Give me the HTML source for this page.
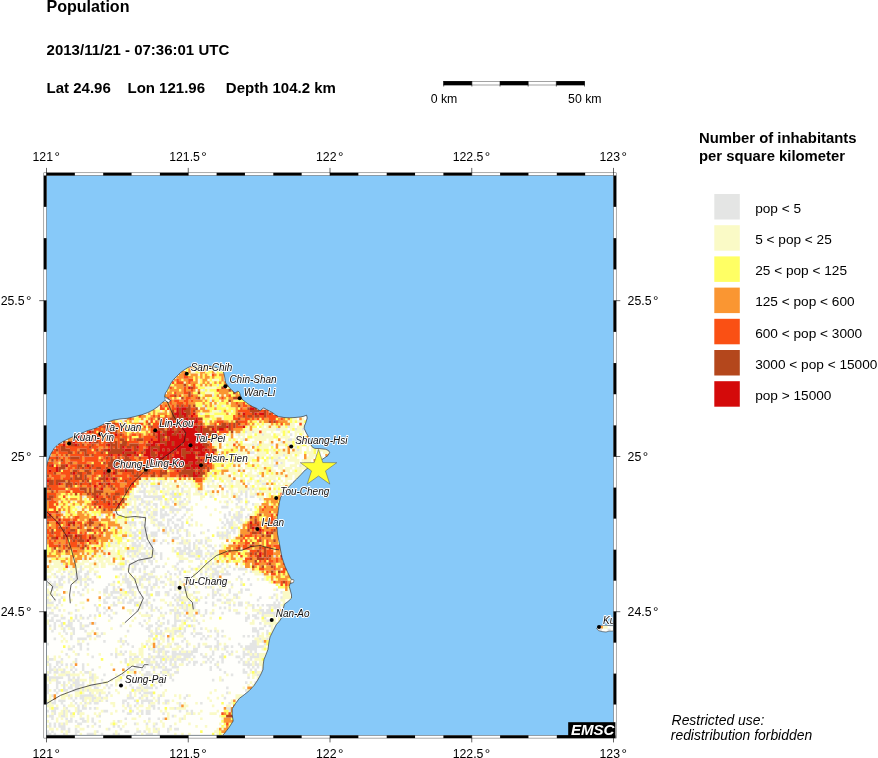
<!DOCTYPE html>
<html><head><meta charset="utf-8"><title>Population</title>
<style>html,body{margin:0;padding:0;background:#fff}body{width:878px;height:758px;position:relative;overflow:hidden;font-family:"Liberation Sans",sans-serif}</style></head>
<body>
<svg width="878" height="758" viewBox="0 0 878 758" style="position:absolute;left:0;top:0;will-change:transform;font-family:'Liberation Sans',sans-serif">
<defs><clipPath id="mc"><rect x="46.5" y="175.5" width="567.0" height="559.9"/></clipPath>
<filter id="bl" x="0" y="0" width="100%" height="100%" filterUnits="userSpaceOnUse"><feGaussianBlur stdDeviation="0.5"/></filter>
<clipPath id="land"><polygon points="46.5,467 48,461 50.5,454.5 54,448.5 58,444.5 63,441.5 69,438.5 76,435.5 82,433 88,430.5 95,428.5 101,425.5 107,422.5 113,420.2 120,419 127.5,418.3 135,416.5 142,414.7 148,412.5 153,410 158,406.5 162,402.8 165,400.5 168.5,402.5 170.5,400.5 167,398 164.5,396.5 165.5,393 167.6,390 169.5,386 171.2,382.8 174,379 176.7,376.4 180,373 184,370 188,367.5 192,366.2 198,365.2 205,365.5 212,366.5 218,368 223,370.5 224.5,376 225.6,382.8 229.2,387.4 232,390.5 235,393 238,391 239.5,392.5 240.5,396 242,399.2 245.5,402 249.2,404.7 253,406.8 256.5,408.3 260.2,411 262,409 263.8,408 266.5,409.5 269.3,411 272.9,412.9 275.5,415 278.4,416.5 284,417.5 289.3,417.8 295,417.5 300.3,417 304,416.2 306.6,415.2 307.2,418 305.7,422.9 304.4,426 304.2,428.4 305.8,432 307.8,435.6 309.5,440 311,444.8 312.5,447.3 314.8,448.4 320,448.6 325.8,449.3 328.5,450.6 329.6,452.5 328,455.5 322,459.5 315,463.5 309,467.2 305.2,470 301,474.5 296.6,479.1 293,482.5 289.3,486.4 284.5,492 280.6,497.3 279.2,503 278.4,510.1 277.3,517 276.8,524.7 277.5,534 279.3,542.9 280.5,550 282,557.5 284.5,565 287.5,572 289.5,576 291.2,579.3 293.5,580 293,582.5 290,583.5 289.3,586.6 290.5,591 291.5,595 291.5,598.2 288,601.5 284.3,604.3 283,610 282.3,616.6 279.5,621 276.2,624.8 273,631 270,637 268.8,643 268,649.3 266,654.5 263.9,659.6 263.2,665 262.9,669.8 260.5,675 257.7,680 254,685.5 249.6,690.3 244.5,694.5 239.3,698.4 235.5,703.5 232.2,708.7 232.2,715 233.2,721 229,727.5 224,734 222.5,735.4 46.5,735.4"/><polygon points="596.6,628.6 598.5,626.2 602,625.2 606,625.3 610,625.6 613.5,625.6 613.5,631 609,631.2 606,632 602,631.6 598.5,630.6"/></clipPath></defs>
<rect x="45.5" y="174.5" width="569.0" height="561.9" fill="#87c9f9"/>
<g clip-path="url(#mc)">
<polygon points="46.5,467 48,461 50.5,454.5 54,448.5 58,444.5 63,441.5 69,438.5 76,435.5 82,433 88,430.5 95,428.5 101,425.5 107,422.5 113,420.2 120,419 127.5,418.3 135,416.5 142,414.7 148,412.5 153,410 158,406.5 162,402.8 165,400.5 168.5,402.5 170.5,400.5 167,398 164.5,396.5 165.5,393 167.6,390 169.5,386 171.2,382.8 174,379 176.7,376.4 180,373 184,370 188,367.5 192,366.2 198,365.2 205,365.5 212,366.5 218,368 223,370.5 224.5,376 225.6,382.8 229.2,387.4 232,390.5 235,393 238,391 239.5,392.5 240.5,396 242,399.2 245.5,402 249.2,404.7 253,406.8 256.5,408.3 260.2,411 262,409 263.8,408 266.5,409.5 269.3,411 272.9,412.9 275.5,415 278.4,416.5 284,417.5 289.3,417.8 295,417.5 300.3,417 304,416.2 306.6,415.2 307.2,418 305.7,422.9 304.4,426 304.2,428.4 305.8,432 307.8,435.6 309.5,440 311,444.8 312.5,447.3 314.8,448.4 320,448.6 325.8,449.3 328.5,450.6 329.6,452.5 328,455.5 322,459.5 315,463.5 309,467.2 305.2,470 301,474.5 296.6,479.1 293,482.5 289.3,486.4 284.5,492 280.6,497.3 279.2,503 278.4,510.1 277.3,517 276.8,524.7 277.5,534 279.3,542.9 280.5,550 282,557.5 284.5,565 287.5,572 289.5,576 291.2,579.3 293.5,580 293,582.5 290,583.5 289.3,586.6 290.5,591 291.5,595 291.5,598.2 288,601.5 284.3,604.3 283,610 282.3,616.6 279.5,621 276.2,624.8 273,631 270,637 268.8,643 268,649.3 266,654.5 263.9,659.6 263.2,665 262.9,669.8 260.5,675 257.7,680 254,685.5 249.6,690.3 244.5,694.5 239.3,698.4 235.5,703.5 232.2,708.7 232.2,715 233.2,721 229,727.5 224,734 222.5,735.4 46.5,735.4" fill="#fffffc"/>
<polygon points="596.6,628.6 598.5,626.2 602,625.2 606,625.3 610,625.6 613.5,625.6 613.5,631 609,631.2 606,632 602,631.6 598.5,630.6" fill="#fffffa"/>
<g clip-path="url(#land)"><g filter="url(#bl)">
<path fill="#e4e5e4" d="M219 368.3h2.5v2.7h-2.5zM223.7 378.7h2.5v2.7h-2.5zM216.6 383.8h2.5v2.7h-2.5zM202.4 389h2.5v2.7h-2.5zM211.9 394.2h2.5v2.7h-2.5zM209.5 399.4h2.5v2.7h-2.5zM202.4 404.6h2.5v2.7h-2.5zM214.2 404.6h2.5v2.7h-2.5zM221.3 404.6h2.5v2.7h-2.5zM204.8 407.2h2.5v2.7h-2.5zM219 409.8h2.5v2.7h-2.5zM200.1 412.4h2.5v2.7h-2.5zM124.5 417.6h2.5v2.7h-2.5zM122.1 420.2h2.5v2.7h-2.5zM287.5 425.4h2.5v2.7h-2.5zM275.7 428h4.9v2.7h-4.9zM294.6 428h2.5v2.7h-2.5zM301.7 428h2.5v2.7h-2.5zM245 430.6h2.5v2.7h-2.5zM252 430.6h2.5v2.7h-2.5zM237.9 433.2h2.5v2.7h-2.5zM261.5 433.2h2.5v2.7h-2.5zM289.8 433.2h2.5v2.7h-2.5zM214.2 438.3h2.5v2.7h-2.5zM242.6 438.3h2.5v2.7h-2.5zM287.5 438.3h4.9v2.7h-4.9zM294.6 438.3h2.5v2.7h-2.5zM211.9 440.9h2.5v2.7h-2.5zM280.4 440.9h2.5v2.7h-2.5zM252 443.5h2.5v2.7h-2.5zM256.8 443.5h2.5v2.7h-2.5zM270.9 443.5h2.5v2.7h-2.5zM287.5 443.5h2.5v2.7h-2.5zM294.6 446.1h2.5v2.7h-2.5zM237.9 448.7h2.5v2.7h-2.5zM296.9 448.7h2.5v2.7h-2.5zM249.7 451.3h4.9v2.7h-4.9zM221.3 453.9h2.5v2.7h-2.5zM226.1 453.9h2.5v2.7h-2.5zM237.9 453.9h2.5v2.7h-2.5zM282.7 453.9h2.5v2.7h-2.5zM268.6 456.5h2.5v2.7h-2.5zM278 456.5h2.5v2.7h-2.5zM226.1 459.1h2.5v2.7h-2.5zM245 459.1h2.5v2.7h-2.5zM273.3 459.1h4.9v2.7h-4.9zM233.1 461.7h2.5v2.7h-2.5zM280.4 461.7h2.5v2.7h-2.5zM273.3 464.3h4.9v2.7h-4.9zM299.3 464.3h2.5v2.7h-2.5zM240.2 469.4h2.5v2.7h-2.5zM211.9 472h2.5v2.7h-2.5zM209.5 474.6h2.5v2.7h-2.5zM256.8 474.6h2.5v2.7h-2.5zM143.4 479.8h2.5v2.7h-2.5zM148.1 479.8h2.5v2.7h-2.5zM159.9 479.8h2.5v2.7h-2.5zM211.9 479.8h2.5v2.7h-2.5zM230.8 479.8h2.5v2.7h-2.5zM259.1 479.8h2.5v2.7h-2.5zM273.3 479.8h2.5v2.7h-2.5zM141 482.4h2.5v2.7h-2.5zM145.7 482.4h2.5v2.7h-2.5zM159.9 482.4h2.5v2.7h-2.5zM183.5 482.4h2.5v2.7h-2.5zM247.3 482.4h2.5v2.7h-2.5zM261.5 482.4h4.9v2.7h-4.9zM141 485h2.5v2.7h-2.5zM150.4 485h9.6v2.7h-9.6zM207.1 485h2.5v2.7h-2.5zM223.7 485h2.5v2.7h-2.5zM143.4 487.6h2.5v2.7h-2.5zM155.2 487.6h4.9v2.7h-4.9zM162.3 487.6h2.5v2.7h-2.5zM181.2 487.6h2.5v2.7h-2.5zM247.3 487.6h2.5v2.7h-2.5zM252 487.6h2.5v2.7h-2.5zM138.6 490.2h7.2v2.7h-7.2zM152.8 490.2h2.5v2.7h-2.5zM171.7 490.2h2.5v2.7h-2.5zM181.2 490.2h2.5v2.7h-2.5zM197.7 490.2h2.5v2.7h-2.5zM207.1 490.2h2.5v2.7h-2.5zM226.1 490.2h2.5v2.7h-2.5zM240.2 490.2h2.5v2.7h-2.5zM245 490.2h2.5v2.7h-2.5zM259.1 490.2h2.5v2.7h-2.5zM275.7 490.2h2.5v2.7h-2.5zM129.2 492.8h2.5v2.7h-2.5zM143.4 492.8h2.5v2.7h-2.5zM164.6 492.8h2.5v2.7h-2.5zM169.4 492.8h4.9v2.7h-4.9zM176.4 492.8h2.5v2.7h-2.5zM185.9 492.8h2.5v2.7h-2.5zM200.1 492.8h2.5v2.7h-2.5zM233.1 492.8h2.5v2.7h-2.5zM240.2 492.8h2.5v2.7h-2.5zM245 492.8h2.5v2.7h-2.5zM254.4 492.8h2.5v2.7h-2.5zM81.9 495.3h2.5v2.7h-2.5zM133.9 495.3h7.2v2.7h-7.2zM143.4 495.3h19v2.7h-19zM171.7 495.3h9.6v2.7h-9.6zM209.5 495.3h2.5v2.7h-2.5zM237.9 495.3h2.5v2.7h-2.5zM245 495.3h2.5v2.7h-2.5zM249.7 495.3h4.9v2.7h-4.9zM129.2 497.9h2.5v2.7h-2.5zM136.3 497.9h2.5v2.7h-2.5zM141 497.9h2.5v2.7h-2.5zM152.8 497.9h2.5v2.7h-2.5zM157.5 497.9h4.9v2.7h-4.9zM169.4 497.9h2.5v2.7h-2.5zM183.5 497.9h2.5v2.7h-2.5zM235.5 497.9h7.2v2.7h-7.2zM259.1 497.9h2.5v2.7h-2.5zM141 500.5h4.9v2.7h-4.9zM148.1 500.5h2.5v2.7h-2.5zM164.6 500.5h2.5v2.7h-2.5zM171.7 500.5h2.5v2.7h-2.5zM178.8 500.5h4.9v2.7h-4.9zM188.2 500.5h2.5v2.7h-2.5zM226.1 500.5h2.5v2.7h-2.5zM237.9 500.5h2.5v2.7h-2.5zM247.3 500.5h2.5v2.7h-2.5zM138.6 503.1h2.5v2.7h-2.5zM145.7 503.1h4.9v2.7h-4.9zM152.8 503.1h4.9v2.7h-4.9zM164.6 503.1h4.9v2.7h-4.9zM178.8 503.1h2.5v2.7h-2.5zM235.5 503.1h2.5v2.7h-2.5zM245 503.1h2.5v2.7h-2.5zM252 503.1h2.5v2.7h-2.5zM77.2 505.7h2.5v2.7h-2.5zM131.5 505.7h2.5v2.7h-2.5zM136.3 505.7h2.5v2.7h-2.5zM143.4 505.7h2.5v2.7h-2.5zM155.2 505.7h2.5v2.7h-2.5zM169.4 505.7h4.9v2.7h-4.9zM181.2 505.7h4.9v2.7h-4.9zM221.3 505.7h7.2v2.7h-7.2zM240.2 505.7h2.5v2.7h-2.5zM126.8 508.3h4.9v2.7h-4.9zM136.3 508.3h4.9v2.7h-4.9zM148.1 508.3h2.5v2.7h-2.5zM159.9 508.3h4.9v2.7h-4.9zM169.4 508.3h12v2.7h-12zM185.9 508.3h4.9v2.7h-4.9zM240.2 508.3h4.9v2.7h-4.9zM249.7 508.3h2.5v2.7h-2.5zM60.7 510.9h4.9v2.7h-4.9zM112.7 510.9h2.5v2.7h-2.5zM126.8 510.9h2.5v2.7h-2.5zM131.5 510.9h4.9v2.7h-4.9zM138.6 510.9h4.9v2.7h-4.9zM145.7 510.9h2.5v2.7h-2.5zM152.8 510.9h4.9v2.7h-4.9zM159.9 510.9h2.5v2.7h-2.5zM164.6 510.9h2.5v2.7h-2.5zM171.7 510.9h2.5v2.7h-2.5zM228.4 510.9h2.5v2.7h-2.5zM237.9 510.9h2.5v2.7h-2.5zM100.8 513.5h2.5v2.7h-2.5zM148.1 513.5h2.5v2.7h-2.5zM152.8 513.5h4.9v2.7h-4.9zM159.9 513.5h9.6v2.7h-9.6zM174.1 513.5h2.5v2.7h-2.5zM183.5 513.5h2.5v2.7h-2.5zM223.7 513.5h2.5v2.7h-2.5zM228.4 513.5h2.5v2.7h-2.5zM233.1 513.5h2.5v2.7h-2.5zM237.9 513.5h4.9v2.7h-4.9zM247.3 513.5h2.5v2.7h-2.5zM98.5 516.1h2.5v2.7h-2.5zM133.9 516.1h2.5v2.7h-2.5zM138.6 516.1h2.5v2.7h-2.5zM143.4 516.1h2.5v2.7h-2.5zM150.4 516.1h2.5v2.7h-2.5zM159.9 516.1h4.9v2.7h-4.9zM171.7 516.1h2.5v2.7h-2.5zM181.2 516.1h2.5v2.7h-2.5zM223.7 516.1h2.5v2.7h-2.5zM233.1 516.1h9.6v2.7h-9.6zM245 516.1h2.5v2.7h-2.5zM152.8 518.6h4.9v2.7h-4.9zM167 518.6h4.9v2.7h-4.9zM176.4 518.6h4.9v2.7h-4.9zM190.6 518.6h2.5v2.7h-2.5zM226.1 518.6h2.5v2.7h-2.5zM230.8 518.6h2.5v2.7h-2.5zM235.5 518.6h4.9v2.7h-4.9zM126.8 521.2h9.6v2.7h-9.6zM141 521.2h2.5v2.7h-2.5zM157.5 521.2h4.9v2.7h-4.9zM167 521.2h2.5v2.7h-2.5zM171.7 521.2h2.5v2.7h-2.5zM181.2 521.2h2.5v2.7h-2.5zM221.3 521.2h2.5v2.7h-2.5zM226.1 521.2h7.2v2.7h-7.2zM237.9 521.2h4.9v2.7h-4.9zM129.2 523.8h2.5v2.7h-2.5zM133.9 523.8h2.5v2.7h-2.5zM141 523.8h4.9v2.7h-4.9zM152.8 523.8h2.5v2.7h-2.5zM157.5 523.8h7.2v2.7h-7.2zM167 523.8h2.5v2.7h-2.5zM174.1 523.8h4.9v2.7h-4.9zM181.2 523.8h2.5v2.7h-2.5zM188.2 523.8h2.5v2.7h-2.5zM223.7 523.8h2.5v2.7h-2.5zM228.4 523.8h4.9v2.7h-4.9zM115 526.4h2.5v2.7h-2.5zM143.4 526.4h4.9v2.7h-4.9zM164.6 526.4h2.5v2.7h-2.5zM169.4 526.4h2.5v2.7h-2.5zM174.1 526.4h2.5v2.7h-2.5zM178.8 526.4h4.9v2.7h-4.9zM221.3 526.4h2.5v2.7h-2.5zM228.4 526.4h2.5v2.7h-2.5zM233.1 526.4h4.9v2.7h-4.9zM129.2 529h2.5v2.7h-2.5zM136.3 529h2.5v2.7h-2.5zM141 529h7.2v2.7h-7.2zM157.5 529h2.5v2.7h-2.5zM164.6 529h2.5v2.7h-2.5zM169.4 529h2.5v2.7h-2.5zM176.4 529h2.5v2.7h-2.5zM185.9 529h2.5v2.7h-2.5zM207.1 529h2.5v2.7h-2.5zM226.1 529h2.5v2.7h-2.5zM230.8 529h4.9v2.7h-4.9zM131.5 531.6h4.9v2.7h-4.9zM141 531.6h4.9v2.7h-4.9zM150.4 531.6h7.2v2.7h-7.2zM162.3 531.6h4.9v2.7h-4.9zM171.7 531.6h2.5v2.7h-2.5zM176.4 531.6h2.5v2.7h-2.5zM185.9 531.6h2.5v2.7h-2.5zM200.1 531.6h2.5v2.7h-2.5zM216.6 531.6h2.5v2.7h-2.5zM221.3 531.6h2.5v2.7h-2.5zM226.1 531.6h4.9v2.7h-4.9zM233.1 531.6h2.5v2.7h-2.5zM126.8 534.2h2.5v2.7h-2.5zM133.9 534.2h4.9v2.7h-4.9zM141 534.2h7.2v2.7h-7.2zM150.4 534.2h7.2v2.7h-7.2zM178.8 534.2h2.5v2.7h-2.5zM185.9 534.2h2.5v2.7h-2.5zM193 534.2h2.5v2.7h-2.5zM216.6 534.2h12v2.7h-12zM122.1 536.8h2.5v2.7h-2.5zM131.5 536.8h4.9v2.7h-4.9zM141 536.8h2.5v2.7h-2.5zM145.7 536.8h2.5v2.7h-2.5zM171.7 536.8h7.2v2.7h-7.2zM207.1 536.8h2.5v2.7h-2.5zM221.3 536.8h2.5v2.7h-2.5zM226.1 536.8h2.5v2.7h-2.5zM136.3 539.3h2.5v2.7h-2.5zM141 539.3h4.9v2.7h-4.9zM150.4 539.3h2.5v2.7h-2.5zM155.2 539.3h2.5v2.7h-2.5zM162.3 539.3h2.5v2.7h-2.5zM181.2 539.3h2.5v2.7h-2.5zM185.9 539.3h2.5v2.7h-2.5zM195.3 539.3h2.5v2.7h-2.5zM200.1 539.3h2.5v2.7h-2.5zM204.8 539.3h2.5v2.7h-2.5zM110.3 541.9h2.5v2.7h-2.5zM115 541.9h2.5v2.7h-2.5zM131.5 541.9h4.9v2.7h-4.9zM138.6 541.9h2.5v2.7h-2.5zM145.7 541.9h9.6v2.7h-9.6zM159.9 541.9h2.5v2.7h-2.5zM167 541.9h2.5v2.7h-2.5zM178.8 541.9h4.9v2.7h-4.9zM188.2 541.9h2.5v2.7h-2.5zM193 541.9h2.5v2.7h-2.5zM197.7 541.9h4.9v2.7h-4.9zM204.8 541.9h2.5v2.7h-2.5zM105.6 544.5h2.5v2.7h-2.5zM131.5 544.5h9.6v2.7h-9.6zM145.7 544.5h2.5v2.7h-2.5zM150.4 544.5h2.5v2.7h-2.5zM183.5 544.5h2.5v2.7h-2.5zM188.2 544.5h2.5v2.7h-2.5zM193 544.5h2.5v2.7h-2.5zM207.1 544.5h4.9v2.7h-4.9zM219 544.5h2.5v2.7h-2.5zM136.3 547.1h2.5v2.7h-2.5zM143.4 547.1h2.5v2.7h-2.5zM148.1 547.1h4.9v2.7h-4.9zM176.4 547.1h4.9v2.7h-4.9zM183.5 547.1h7.2v2.7h-7.2zM193 547.1h2.5v2.7h-2.5zM197.7 547.1h2.5v2.7h-2.5zM211.9 547.1h2.5v2.7h-2.5zM103.2 549.7h2.5v2.7h-2.5zM126.8 549.7h12v2.7h-12zM152.8 549.7h2.5v2.7h-2.5zM174.1 549.7h2.5v2.7h-2.5zM178.8 549.7h7.2v2.7h-7.2zM188.2 549.7h4.9v2.7h-4.9zM195.3 549.7h7.2v2.7h-7.2zM207.1 549.7h2.5v2.7h-2.5zM214.2 549.7h2.5v2.7h-2.5zM91.4 552.3h2.5v2.7h-2.5zM126.8 552.3h2.5v2.7h-2.5zM133.9 552.3h2.5v2.7h-2.5zM138.6 552.3h7.2v2.7h-7.2zM148.1 552.3h2.5v2.7h-2.5zM152.8 552.3h4.9v2.7h-4.9zM159.9 552.3h2.5v2.7h-2.5zM178.8 552.3h4.9v2.7h-4.9zM185.9 552.3h4.9v2.7h-4.9zM195.3 552.3h7.2v2.7h-7.2zM209.5 552.3h4.9v2.7h-4.9zM103.2 554.9h2.5v2.7h-2.5zM129.2 554.9h2.5v2.7h-2.5zM136.3 554.9h2.5v2.7h-2.5zM141 554.9h7.2v2.7h-7.2zM159.9 554.9h2.5v2.7h-2.5zM188.2 554.9h7.2v2.7h-7.2zM200.1 554.9h2.5v2.7h-2.5zM204.8 554.9h2.5v2.7h-2.5zM209.5 554.9h2.5v2.7h-2.5zM273.3 554.9h2.5v2.7h-2.5zM81.9 557.4h2.5v2.7h-2.5zM131.5 557.4h2.5v2.7h-2.5zM138.6 557.4h2.5v2.7h-2.5zM143.4 557.4h7.2v2.7h-7.2zM152.8 557.4h2.5v2.7h-2.5zM159.9 557.4h2.5v2.7h-2.5zM195.3 557.4h4.9v2.7h-4.9zM202.4 557.4h2.5v2.7h-2.5zM124.5 560h2.5v2.7h-2.5zM133.9 560h2.5v2.7h-2.5zM138.6 560h4.9v2.7h-4.9zM148.1 560h4.9v2.7h-4.9zM178.8 560h4.9v2.7h-4.9zM60.7 562.6h2.5v2.7h-2.5zM124.5 562.6h2.5v2.7h-2.5zM129.2 562.6h9.6v2.7h-9.6zM141 562.6h2.5v2.7h-2.5zM150.4 562.6h2.5v2.7h-2.5zM176.4 562.6h2.5v2.7h-2.5zM200.1 562.6h2.5v2.7h-2.5zM207.1 562.6h2.5v2.7h-2.5zM211.9 562.6h2.5v2.7h-2.5zM221.3 562.6h2.5v2.7h-2.5zM67.8 565.2h2.5v2.7h-2.5zM79.6 565.2h2.5v2.7h-2.5zM115 565.2h2.5v2.7h-2.5zM119.7 565.2h4.9v2.7h-4.9zM133.9 565.2h2.5v2.7h-2.5zM143.4 565.2h4.9v2.7h-4.9zM155.2 565.2h4.9v2.7h-4.9zM162.3 565.2h2.5v2.7h-2.5zM174.1 565.2h2.5v2.7h-2.5zM197.7 565.2h2.5v2.7h-2.5zM209.5 565.2h2.5v2.7h-2.5zM216.6 565.2h4.9v2.7h-4.9zM228.4 565.2h2.5v2.7h-2.5zM79.6 567.8h2.5v2.7h-2.5zM112.7 567.8h9.6v2.7h-9.6zM131.5 567.8h4.9v2.7h-4.9zM138.6 567.8h2.5v2.7h-2.5zM143.4 567.8h2.5v2.7h-2.5zM152.8 567.8h2.5v2.7h-2.5zM176.4 567.8h2.5v2.7h-2.5zM181.2 567.8h2.5v2.7h-2.5zM190.6 567.8h2.5v2.7h-2.5zM207.1 567.8h2.5v2.7h-2.5zM211.9 567.8h4.9v2.7h-4.9zM223.7 567.8h2.5v2.7h-2.5zM233.1 567.8h2.5v2.7h-2.5zM237.9 567.8h9.6v2.7h-9.6zM63 570.4h2.5v2.7h-2.5zM70.1 570.4h2.5v2.7h-2.5zM77.2 570.4h4.9v2.7h-4.9zM86.7 570.4h2.5v2.7h-2.5zM131.5 570.4h2.5v2.7h-2.5zM138.6 570.4h2.5v2.7h-2.5zM150.4 570.4h4.9v2.7h-4.9zM167 570.4h2.5v2.7h-2.5zM178.8 570.4h2.5v2.7h-2.5zM204.8 570.4h2.5v2.7h-2.5zM214.2 570.4h4.9v2.7h-4.9zM226.1 570.4h2.5v2.7h-2.5zM249.7 570.4h2.5v2.7h-2.5zM53.6 572.9h2.5v2.7h-2.5zM67.8 572.9h2.5v2.7h-2.5zM74.8 572.9h4.9v2.7h-4.9zM84.3 572.9h4.9v2.7h-4.9zM93.8 572.9h2.5v2.7h-2.5zM119.7 572.9h2.5v2.7h-2.5zM124.5 572.9h2.5v2.7h-2.5zM143.4 572.9h4.9v2.7h-4.9zM169.4 572.9h2.5v2.7h-2.5zM174.1 572.9h2.5v2.7h-2.5zM178.8 572.9h2.5v2.7h-2.5zM200.1 572.9h2.5v2.7h-2.5zM211.9 572.9h7.2v2.7h-7.2zM221.3 572.9h9.6v2.7h-9.6zM242.6 572.9h2.5v2.7h-2.5zM261.5 572.9h2.5v2.7h-2.5zM55.9 575.5h2.5v2.7h-2.5zM60.7 575.5h4.9v2.7h-4.9zM70.1 575.5h2.5v2.7h-2.5zM74.8 575.5h7.2v2.7h-7.2zM84.3 575.5h2.5v2.7h-2.5zM124.5 575.5h2.5v2.7h-2.5zM141 575.5h4.9v2.7h-4.9zM148.1 575.5h7.2v2.7h-7.2zM164.6 575.5h2.5v2.7h-2.5zM185.9 575.5h2.5v2.7h-2.5zM204.8 575.5h4.9v2.7h-4.9zM211.9 575.5h2.5v2.7h-2.5zM216.6 575.5h2.5v2.7h-2.5zM237.9 575.5h2.5v2.7h-2.5zM46.5 578.1h2.5v2.7h-2.5zM58.3 578.1h4.9v2.7h-4.9zM67.8 578.1h2.5v2.7h-2.5zM72.5 578.1h9.6v2.7h-9.6zM86.7 578.1h4.9v2.7h-4.9zM122.1 578.1h7.2v2.7h-7.2zM133.9 578.1h2.5v2.7h-2.5zM138.6 578.1h4.9v2.7h-4.9zM145.7 578.1h4.9v2.7h-4.9zM155.2 578.1h2.5v2.7h-2.5zM169.4 578.1h2.5v2.7h-2.5zM178.8 578.1h2.5v2.7h-2.5zM214.2 578.1h2.5v2.7h-2.5zM223.7 578.1h2.5v2.7h-2.5zM240.2 578.1h2.5v2.7h-2.5zM247.3 578.1h2.5v2.7h-2.5zM261.5 578.1h2.5v2.7h-2.5zM48.9 580.7h2.5v2.7h-2.5zM53.6 580.7h2.5v2.7h-2.5zM58.3 580.7h2.5v2.7h-2.5zM67.8 580.7h2.5v2.7h-2.5zM74.8 580.7h2.5v2.7h-2.5zM79.6 580.7h2.5v2.7h-2.5zM84.3 580.7h2.5v2.7h-2.5zM91.4 580.7h2.5v2.7h-2.5zM112.7 580.7h2.5v2.7h-2.5zM124.5 580.7h7.2v2.7h-7.2zM138.6 580.7h2.5v2.7h-2.5zM155.2 580.7h2.5v2.7h-2.5zM159.9 580.7h4.9v2.7h-4.9zM174.1 580.7h2.5v2.7h-2.5zM181.2 580.7h2.5v2.7h-2.5zM204.8 580.7h2.5v2.7h-2.5zM214.2 580.7h2.5v2.7h-2.5zM219 580.7h2.5v2.7h-2.5zM223.7 580.7h2.5v2.7h-2.5zM46.5 583.3h2.5v2.7h-2.5zM51.2 583.3h4.9v2.7h-4.9zM58.3 583.3h4.9v2.7h-4.9zM79.6 583.3h2.5v2.7h-2.5zM86.7 583.3h2.5v2.7h-2.5zM107.9 583.3h2.5v2.7h-2.5zM126.8 583.3h4.9v2.7h-4.9zM138.6 583.3h2.5v2.7h-2.5zM148.1 583.3h2.5v2.7h-2.5zM152.8 583.3h4.9v2.7h-4.9zM169.4 583.3h2.5v2.7h-2.5zM174.1 583.3h2.5v2.7h-2.5zM188.2 583.3h2.5v2.7h-2.5zM219 583.3h4.9v2.7h-4.9zM230.8 583.3h2.5v2.7h-2.5zM240.2 583.3h2.5v2.7h-2.5zM249.7 583.3h2.5v2.7h-2.5zM51.2 585.9h7.2v2.7h-7.2zM84.3 585.9h2.5v2.7h-2.5zM105.6 585.9h2.5v2.7h-2.5zM112.7 585.9h2.5v2.7h-2.5zM117.4 585.9h2.5v2.7h-2.5zM126.8 585.9h12v2.7h-12zM143.4 585.9h4.9v2.7h-4.9zM150.4 585.9h2.5v2.7h-2.5zM162.3 585.9h2.5v2.7h-2.5zM174.1 585.9h4.9v2.7h-4.9zM185.9 585.9h2.5v2.7h-2.5zM204.8 585.9h2.5v2.7h-2.5zM209.5 585.9h2.5v2.7h-2.5zM221.3 585.9h2.5v2.7h-2.5zM51.2 588.4h2.5v2.7h-2.5zM81.9 588.4h2.5v2.7h-2.5zM103.2 588.4h4.9v2.7h-4.9zM112.7 588.4h2.5v2.7h-2.5zM122.1 588.4h2.5v2.7h-2.5zM129.2 588.4h2.5v2.7h-2.5zM145.7 588.4h2.5v2.7h-2.5zM150.4 588.4h2.5v2.7h-2.5zM169.4 588.4h2.5v2.7h-2.5zM174.1 588.4h2.5v2.7h-2.5zM178.8 588.4h2.5v2.7h-2.5zM183.5 588.4h4.9v2.7h-4.9zM211.9 588.4h2.5v2.7h-2.5zM216.6 588.4h4.9v2.7h-4.9zM228.4 588.4h2.5v2.7h-2.5zM240.2 588.4h2.5v2.7h-2.5zM245 588.4h4.9v2.7h-4.9zM275.7 588.4h2.5v2.7h-2.5zM72.5 591h2.5v2.7h-2.5zM77.2 591h2.5v2.7h-2.5zM103.2 591h4.9v2.7h-4.9zM110.3 591h9.6v2.7h-9.6zM126.8 591h7.2v2.7h-7.2zM138.6 591h2.5v2.7h-2.5zM145.7 591h2.5v2.7h-2.5zM155.2 591h4.9v2.7h-4.9zM164.6 591h4.9v2.7h-4.9zM181.2 591h2.5v2.7h-2.5zM193 591h2.5v2.7h-2.5zM211.9 591h2.5v2.7h-2.5zM216.6 591h2.5v2.7h-2.5zM228.4 591h2.5v2.7h-2.5zM240.2 591h2.5v2.7h-2.5zM280.4 591h2.5v2.7h-2.5zM46.5 593.6h2.5v2.7h-2.5zM51.2 593.6h2.5v2.7h-2.5zM55.9 593.6h2.5v2.7h-2.5zM79.6 593.6h2.5v2.7h-2.5zM110.3 593.6h2.5v2.7h-2.5zM119.7 593.6h2.5v2.7h-2.5zM131.5 593.6h2.5v2.7h-2.5zM145.7 593.6h4.9v2.7h-4.9zM155.2 593.6h4.9v2.7h-4.9zM167 593.6h2.5v2.7h-2.5zM174.1 593.6h2.5v2.7h-2.5zM178.8 593.6h2.5v2.7h-2.5zM211.9 593.6h4.9v2.7h-4.9zM219 593.6h2.5v2.7h-2.5zM233.1 593.6h4.9v2.7h-4.9zM273.3 593.6h2.5v2.7h-2.5zM60.7 596.2h2.5v2.7h-2.5zM105.6 596.2h4.9v2.7h-4.9zM112.7 596.2h4.9v2.7h-4.9zM124.5 596.2h2.5v2.7h-2.5zM133.9 596.2h2.5v2.7h-2.5zM138.6 596.2h4.9v2.7h-4.9zM148.1 596.2h2.5v2.7h-2.5zM171.7 596.2h2.5v2.7h-2.5zM176.4 596.2h4.9v2.7h-4.9zM195.3 596.2h2.5v2.7h-2.5zM204.8 596.2h2.5v2.7h-2.5zM211.9 596.2h2.5v2.7h-2.5zM235.5 596.2h2.5v2.7h-2.5zM259.1 596.2h2.5v2.7h-2.5zM270.9 596.2h2.5v2.7h-2.5zM280.4 596.2h2.5v2.7h-2.5zM46.5 598.8h2.5v2.7h-2.5zM53.6 598.8h2.5v2.7h-2.5zM58.3 598.8h2.5v2.7h-2.5zM103.2 598.8h2.5v2.7h-2.5zM117.4 598.8h2.5v2.7h-2.5zM122.1 598.8h2.5v2.7h-2.5zM129.2 598.8h4.9v2.7h-4.9zM145.7 598.8h2.5v2.7h-2.5zM152.8 598.8h2.5v2.7h-2.5zM174.1 598.8h2.5v2.7h-2.5zM178.8 598.8h4.9v2.7h-4.9zM197.7 598.8h2.5v2.7h-2.5zM216.6 598.8h4.9v2.7h-4.9zM226.1 598.8h4.9v2.7h-4.9zM256.8 598.8h2.5v2.7h-2.5zM275.7 598.8h2.5v2.7h-2.5zM46.5 601.4h7.2v2.7h-7.2zM58.3 601.4h2.5v2.7h-2.5zM103.2 601.4h4.9v2.7h-4.9zM112.7 601.4h2.5v2.7h-2.5zM122.1 601.4h2.5v2.7h-2.5zM126.8 601.4h4.9v2.7h-4.9zM133.9 601.4h4.9v2.7h-4.9zM141 601.4h7.2v2.7h-7.2zM176.4 601.4h2.5v2.7h-2.5zM183.5 601.4h2.5v2.7h-2.5zM188.2 601.4h2.5v2.7h-2.5zM193 601.4h4.9v2.7h-4.9zM204.8 601.4h2.5v2.7h-2.5zM211.9 601.4h2.5v2.7h-2.5zM223.7 601.4h2.5v2.7h-2.5zM237.9 601.4h4.9v2.7h-4.9zM247.3 601.4h2.5v2.7h-2.5zM273.3 601.4h2.5v2.7h-2.5zM278 601.4h2.5v2.7h-2.5zM55.9 603.9h2.5v2.7h-2.5zM93.8 603.9h2.5v2.7h-2.5zM112.7 603.9h4.9v2.7h-4.9zM133.9 603.9h2.5v2.7h-2.5zM138.6 603.9h4.9v2.7h-4.9zM145.7 603.9h2.5v2.7h-2.5zM150.4 603.9h2.5v2.7h-2.5zM167 603.9h2.5v2.7h-2.5zM171.7 603.9h2.5v2.7h-2.5zM176.4 603.9h7.2v2.7h-7.2zM185.9 603.9h2.5v2.7h-2.5zM193 603.9h2.5v2.7h-2.5zM211.9 603.9h2.5v2.7h-2.5zM228.4 603.9h2.5v2.7h-2.5zM233.1 603.9h2.5v2.7h-2.5zM237.9 603.9h4.9v2.7h-4.9zM252 603.9h2.5v2.7h-2.5zM256.8 603.9h2.5v2.7h-2.5zM261.5 603.9h2.5v2.7h-2.5zM266.2 603.9h14.3v2.7h-14.3zM46.5 606.5h4.9v2.7h-4.9zM53.6 606.5h2.5v2.7h-2.5zM96.1 606.5h2.5v2.7h-2.5zM103.2 606.5h2.5v2.7h-2.5zM141 606.5h2.5v2.7h-2.5zM150.4 606.5h2.5v2.7h-2.5zM155.2 606.5h2.5v2.7h-2.5zM181.2 606.5h2.5v2.7h-2.5zM185.9 606.5h2.5v2.7h-2.5zM193 606.5h2.5v2.7h-2.5zM219 606.5h2.5v2.7h-2.5zM223.7 606.5h2.5v2.7h-2.5zM252 606.5h2.5v2.7h-2.5zM268.6 606.5h2.5v2.7h-2.5zM273.3 606.5h7.2v2.7h-7.2zM282.7 606.5h2.5v2.7h-2.5zM58.3 609.1h2.5v2.7h-2.5zM74.8 609.1h2.5v2.7h-2.5zM96.1 609.1h2.5v2.7h-2.5zM105.6 609.1h2.5v2.7h-2.5zM110.3 609.1h2.5v2.7h-2.5zM131.5 609.1h2.5v2.7h-2.5zM136.3 609.1h2.5v2.7h-2.5zM150.4 609.1h2.5v2.7h-2.5zM157.5 609.1h2.5v2.7h-2.5zM169.4 609.1h4.9v2.7h-4.9zM176.4 609.1h2.5v2.7h-2.5zM183.5 609.1h4.9v2.7h-4.9zM197.7 609.1h2.5v2.7h-2.5zM204.8 609.1h2.5v2.7h-2.5zM228.4 609.1h2.5v2.7h-2.5zM259.1 609.1h4.9v2.7h-4.9zM266.2 609.1h4.9v2.7h-4.9zM275.7 609.1h2.5v2.7h-2.5zM48.9 611.7h4.9v2.7h-4.9zM67.8 611.7h2.5v2.7h-2.5zM98.5 611.7h2.5v2.7h-2.5zM103.2 611.7h2.5v2.7h-2.5zM115 611.7h2.5v2.7h-2.5zM145.7 611.7h2.5v2.7h-2.5zM159.9 611.7h2.5v2.7h-2.5zM164.6 611.7h2.5v2.7h-2.5zM174.1 611.7h7.2v2.7h-7.2zM197.7 611.7h2.5v2.7h-2.5zM204.8 611.7h2.5v2.7h-2.5zM211.9 611.7h2.5v2.7h-2.5zM221.3 611.7h2.5v2.7h-2.5zM235.5 611.7h4.9v2.7h-4.9zM256.8 611.7h2.5v2.7h-2.5zM261.5 611.7h14.3v2.7h-14.3zM46.5 614.3h2.5v2.7h-2.5zM53.6 614.3h4.9v2.7h-4.9zM74.8 614.3h2.5v2.7h-2.5zM79.6 614.3h2.5v2.7h-2.5zM89 614.3h2.5v2.7h-2.5zM93.8 614.3h2.5v2.7h-2.5zM107.9 614.3h2.5v2.7h-2.5zM150.4 614.3h2.5v2.7h-2.5zM174.1 614.3h2.5v2.7h-2.5zM178.8 614.3h2.5v2.7h-2.5zM183.5 614.3h2.5v2.7h-2.5zM193 614.3h2.5v2.7h-2.5zM202.4 614.3h2.5v2.7h-2.5zM247.3 614.3h2.5v2.7h-2.5zM252 614.3h4.9v2.7h-4.9zM261.5 614.3h2.5v2.7h-2.5zM273.3 614.3h2.5v2.7h-2.5zM278 614.3h2.5v2.7h-2.5zM51.2 616.8h2.5v2.7h-2.5zM60.7 616.8h4.9v2.7h-4.9zM74.8 616.8h2.5v2.7h-2.5zM81.9 616.8h2.5v2.7h-2.5zM86.7 616.8h2.5v2.7h-2.5zM110.3 616.8h2.5v2.7h-2.5zM148.1 616.8h2.5v2.7h-2.5zM162.3 616.8h2.5v2.7h-2.5zM174.1 616.8h2.5v2.7h-2.5zM185.9 616.8h4.9v2.7h-4.9zM245 616.8h4.9v2.7h-4.9zM254.4 616.8h4.9v2.7h-4.9zM263.8 616.8h2.5v2.7h-2.5zM48.9 619.4h4.9v2.7h-4.9zM55.9 619.4h4.9v2.7h-4.9zM67.8 619.4h2.5v2.7h-2.5zM72.5 619.4h2.5v2.7h-2.5zM77.2 619.4h2.5v2.7h-2.5zM143.4 619.4h2.5v2.7h-2.5zM157.5 619.4h2.5v2.7h-2.5zM167 619.4h2.5v2.7h-2.5zM174.1 619.4h7.2v2.7h-7.2zM183.5 619.4h2.5v2.7h-2.5zM190.6 619.4h2.5v2.7h-2.5zM195.3 619.4h2.5v2.7h-2.5zM245 619.4h2.5v2.7h-2.5zM266.2 619.4h4.9v2.7h-4.9zM53.6 622h2.5v2.7h-2.5zM60.7 622h2.5v2.7h-2.5zM67.8 622h4.9v2.7h-4.9zM79.6 622h2.5v2.7h-2.5zM89 622h2.5v2.7h-2.5zM93.8 622h2.5v2.7h-2.5zM138.6 622h2.5v2.7h-2.5zM155.2 622h2.5v2.7h-2.5zM162.3 622h2.5v2.7h-2.5zM167 622h2.5v2.7h-2.5zM174.1 622h2.5v2.7h-2.5zM197.7 622h2.5v2.7h-2.5zM259.1 622h2.5v2.7h-2.5zM48.9 624.6h2.5v2.7h-2.5zM53.6 624.6h2.5v2.7h-2.5zM60.7 624.6h2.5v2.7h-2.5zM65.4 624.6h7.2v2.7h-7.2zM79.6 624.6h2.5v2.7h-2.5zM84.3 624.6h4.9v2.7h-4.9zM119.7 624.6h2.5v2.7h-2.5zM141 624.6h2.5v2.7h-2.5zM148.1 624.6h4.9v2.7h-4.9zM157.5 624.6h4.9v2.7h-4.9zM171.7 624.6h4.9v2.7h-4.9zM185.9 624.6h2.5v2.7h-2.5zM190.6 624.6h2.5v2.7h-2.5zM263.8 624.6h2.5v2.7h-2.5zM268.6 624.6h2.5v2.7h-2.5zM53.6 627.2h2.5v2.7h-2.5zM63 627.2h2.5v2.7h-2.5zM70.1 627.2h4.9v2.7h-4.9zM79.6 627.2h4.9v2.7h-4.9zM96.1 627.2h2.5v2.7h-2.5zM145.7 627.2h4.9v2.7h-4.9zM155.2 627.2h2.5v2.7h-2.5zM164.6 627.2h2.5v2.7h-2.5zM183.5 627.2h2.5v2.7h-2.5zM193 627.2h2.5v2.7h-2.5zM200.1 627.2h2.5v2.7h-2.5zM252 627.2h4.9v2.7h-4.9zM259.1 627.2h4.9v2.7h-4.9zM51.2 629.8h2.5v2.7h-2.5zM63 629.8h2.5v2.7h-2.5zM72.5 629.8h2.5v2.7h-2.5zM84.3 629.8h2.5v2.7h-2.5zM126.8 629.8h2.5v2.7h-2.5zM148.1 629.8h2.5v2.7h-2.5zM155.2 629.8h2.5v2.7h-2.5zM159.9 629.8h2.5v2.7h-2.5zM174.1 629.8h7.2v2.7h-7.2zM183.5 629.8h2.5v2.7h-2.5zM209.5 629.8h2.5v2.7h-2.5zM214.2 629.8h2.5v2.7h-2.5zM221.3 629.8h2.5v2.7h-2.5zM252 629.8h7.2v2.7h-7.2zM266.2 629.8h2.5v2.7h-2.5zM65.4 632.3h2.5v2.7h-2.5zM72.5 632.3h2.5v2.7h-2.5zM100.8 632.3h2.5v2.7h-2.5zM150.4 632.3h2.5v2.7h-2.5zM155.2 632.3h7.2v2.7h-7.2zM169.4 632.3h2.5v2.7h-2.5zM174.1 632.3h2.5v2.7h-2.5zM181.2 632.3h2.5v2.7h-2.5zM190.6 632.3h2.5v2.7h-2.5zM195.3 632.3h7.2v2.7h-7.2zM216.6 632.3h2.5v2.7h-2.5zM256.8 632.3h2.5v2.7h-2.5zM266.2 632.3h2.5v2.7h-2.5zM70.1 634.9h2.5v2.7h-2.5zM86.7 634.9h4.9v2.7h-4.9zM96.1 634.9h4.9v2.7h-4.9zM148.1 634.9h4.9v2.7h-4.9zM162.3 634.9h2.5v2.7h-2.5zM169.4 634.9h2.5v2.7h-2.5zM193 634.9h2.5v2.7h-2.5zM202.4 634.9h2.5v2.7h-2.5zM207.1 634.9h2.5v2.7h-2.5zM216.6 634.9h2.5v2.7h-2.5zM221.3 634.9h2.5v2.7h-2.5zM242.6 634.9h2.5v2.7h-2.5zM247.3 634.9h2.5v2.7h-2.5zM252 634.9h2.5v2.7h-2.5zM256.8 634.9h2.5v2.7h-2.5zM53.6 637.5h2.5v2.7h-2.5zM70.1 637.5h2.5v2.7h-2.5zM77.2 637.5h9.6v2.7h-9.6zM119.7 637.5h2.5v2.7h-2.5zM155.2 637.5h2.5v2.7h-2.5zM167 637.5h2.5v2.7h-2.5zM183.5 637.5h2.5v2.7h-2.5zM200.1 637.5h2.5v2.7h-2.5zM204.8 637.5h2.5v2.7h-2.5zM214.2 637.5h2.5v2.7h-2.5zM259.1 637.5h2.5v2.7h-2.5zM266.2 637.5h2.5v2.7h-2.5zM103.2 640.1h2.5v2.7h-2.5zM119.7 640.1h2.5v2.7h-2.5zM124.5 640.1h2.5v2.7h-2.5zM157.5 640.1h2.5v2.7h-2.5zM167 640.1h2.5v2.7h-2.5zM181.2 640.1h2.5v2.7h-2.5zM216.6 640.1h2.5v2.7h-2.5zM252 640.1h4.9v2.7h-4.9zM261.5 640.1h2.5v2.7h-2.5zM46.5 642.7h2.5v2.7h-2.5zM77.2 642.7h4.9v2.7h-4.9zM86.7 642.7h2.5v2.7h-2.5zM122.1 642.7h2.5v2.7h-2.5zM126.8 642.7h2.5v2.7h-2.5zM145.7 642.7h2.5v2.7h-2.5zM157.5 642.7h2.5v2.7h-2.5zM174.1 642.7h4.9v2.7h-4.9zM185.9 642.7h2.5v2.7h-2.5zM197.7 642.7h2.5v2.7h-2.5zM216.6 642.7h2.5v2.7h-2.5zM237.9 642.7h2.5v2.7h-2.5zM249.7 642.7h7.2v2.7h-7.2zM263.8 642.7h2.5v2.7h-2.5zM72.5 645.2h2.5v2.7h-2.5zM79.6 645.2h2.5v2.7h-2.5zM131.5 645.2h2.5v2.7h-2.5zM155.2 645.2h2.5v2.7h-2.5zM162.3 645.2h2.5v2.7h-2.5zM169.4 645.2h2.5v2.7h-2.5zM185.9 645.2h2.5v2.7h-2.5zM197.7 645.2h2.5v2.7h-2.5zM204.8 645.2h7.2v2.7h-7.2zM214.2 645.2h4.9v2.7h-4.9zM223.7 645.2h4.9v2.7h-4.9zM230.8 645.2h2.5v2.7h-2.5zM240.2 645.2h2.5v2.7h-2.5zM245 645.2h19v2.7h-19zM67.8 647.8h4.9v2.7h-4.9zM79.6 647.8h2.5v2.7h-2.5zM86.7 647.8h2.5v2.7h-2.5zM148.1 647.8h2.5v2.7h-2.5zM152.8 647.8h2.5v2.7h-2.5zM157.5 647.8h7.2v2.7h-7.2zM181.2 647.8h2.5v2.7h-2.5zM193 647.8h4.9v2.7h-4.9zM216.6 647.8h2.5v2.7h-2.5zM223.7 647.8h2.5v2.7h-2.5zM245 647.8h12v2.7h-12zM119.7 650.4h2.5v2.7h-2.5zM124.5 650.4h2.5v2.7h-2.5zM152.8 650.4h2.5v2.7h-2.5zM157.5 650.4h4.9v2.7h-4.9zM164.6 650.4h4.9v2.7h-4.9zM171.7 650.4h4.9v2.7h-4.9zM178.8 650.4h2.5v2.7h-2.5zM185.9 650.4h2.5v2.7h-2.5zM190.6 650.4h7.2v2.7h-7.2zM211.9 650.4h2.5v2.7h-2.5zM226.1 650.4h2.5v2.7h-2.5zM230.8 650.4h2.5v2.7h-2.5zM242.6 650.4h2.5v2.7h-2.5zM249.7 650.4h2.5v2.7h-2.5zM254.4 650.4h2.5v2.7h-2.5zM65.4 653h2.5v2.7h-2.5zM77.2 653h2.5v2.7h-2.5zM110.3 653h2.5v2.7h-2.5zM115 653h2.5v2.7h-2.5zM122.1 653h2.5v2.7h-2.5zM148.1 653h2.5v2.7h-2.5zM157.5 653h2.5v2.7h-2.5zM164.6 653h2.5v2.7h-2.5zM171.7 653h21.4v2.7h-21.4zM200.1 653h2.5v2.7h-2.5zM211.9 653h2.5v2.7h-2.5zM221.3 653h2.5v2.7h-2.5zM228.4 653h2.5v2.7h-2.5zM242.6 653h7.2v2.7h-7.2zM252 653h2.5v2.7h-2.5zM256.8 653h2.5v2.7h-2.5zM91.4 655.5h2.5v2.7h-2.5zM115 655.5h2.5v2.7h-2.5zM129.2 655.5h2.5v2.7h-2.5zM133.9 655.5h4.9v2.7h-4.9zM150.4 655.5h2.5v2.7h-2.5zM155.2 655.5h9.6v2.7h-9.6zM167 655.5h2.5v2.7h-2.5zM171.7 655.5h4.9v2.7h-4.9zM183.5 655.5h7.2v2.7h-7.2zM193 655.5h2.5v2.7h-2.5zM202.4 655.5h4.9v2.7h-4.9zM209.5 655.5h2.5v2.7h-2.5zM219 655.5h4.9v2.7h-4.9zM235.5 655.5h4.9v2.7h-4.9zM242.6 655.5h2.5v2.7h-2.5zM249.7 655.5h9.6v2.7h-9.6zM48.9 658.1h4.9v2.7h-4.9zM60.7 658.1h2.5v2.7h-2.5zM74.8 658.1h2.5v2.7h-2.5zM124.5 658.1h2.5v2.7h-2.5zM131.5 658.1h2.5v2.7h-2.5zM143.4 658.1h7.2v2.7h-7.2zM152.8 658.1h2.5v2.7h-2.5zM159.9 658.1h2.5v2.7h-2.5zM164.6 658.1h2.5v2.7h-2.5zM169.4 658.1h4.9v2.7h-4.9zM176.4 658.1h9.6v2.7h-9.6zM207.1 658.1h2.5v2.7h-2.5zM211.9 658.1h2.5v2.7h-2.5zM221.3 658.1h2.5v2.7h-2.5zM240.2 658.1h2.5v2.7h-2.5zM249.7 658.1h2.5v2.7h-2.5zM46.5 660.7h2.5v2.7h-2.5zM55.9 660.7h4.9v2.7h-4.9zM74.8 660.7h2.5v2.7h-2.5zM124.5 660.7h2.5v2.7h-2.5zM145.7 660.7h4.9v2.7h-4.9zM155.2 660.7h2.5v2.7h-2.5zM159.9 660.7h2.5v2.7h-2.5zM164.6 660.7h2.5v2.7h-2.5zM169.4 660.7h2.5v2.7h-2.5zM174.1 660.7h2.5v2.7h-2.5zM181.2 660.7h2.5v2.7h-2.5zM188.2 660.7h2.5v2.7h-2.5zM193 660.7h4.9v2.7h-4.9zM204.8 660.7h2.5v2.7h-2.5zM209.5 660.7h2.5v2.7h-2.5zM216.6 660.7h2.5v2.7h-2.5zM221.3 660.7h2.5v2.7h-2.5zM237.9 660.7h2.5v2.7h-2.5zM242.6 660.7h2.5v2.7h-2.5zM247.3 660.7h2.5v2.7h-2.5zM254.4 660.7h2.5v2.7h-2.5zM48.9 663.3h2.5v2.7h-2.5zM55.9 663.3h2.5v2.7h-2.5zM60.7 663.3h2.5v2.7h-2.5zM65.4 663.3h2.5v2.7h-2.5zM70.1 663.3h2.5v2.7h-2.5zM81.9 663.3h2.5v2.7h-2.5zM136.3 663.3h7.2v2.7h-7.2zM148.1 663.3h4.9v2.7h-4.9zM155.2 663.3h4.9v2.7h-4.9zM162.3 663.3h2.5v2.7h-2.5zM169.4 663.3h2.5v2.7h-2.5zM174.1 663.3h2.5v2.7h-2.5zM185.9 663.3h2.5v2.7h-2.5zM193 663.3h2.5v2.7h-2.5zM200.1 663.3h2.5v2.7h-2.5zM214.2 663.3h2.5v2.7h-2.5zM242.6 663.3h9.6v2.7h-9.6zM254.4 663.3h4.9v2.7h-4.9zM48.9 665.9h2.5v2.7h-2.5zM53.6 665.9h2.5v2.7h-2.5zM58.3 665.9h2.5v2.7h-2.5zM72.5 665.9h2.5v2.7h-2.5zM81.9 665.9h2.5v2.7h-2.5zM126.8 665.9h2.5v2.7h-2.5zM133.9 665.9h4.9v2.7h-4.9zM143.4 665.9h2.5v2.7h-2.5zM152.8 665.9h2.5v2.7h-2.5zM157.5 665.9h4.9v2.7h-4.9zM164.6 665.9h2.5v2.7h-2.5zM171.7 665.9h7.2v2.7h-7.2zM209.5 665.9h2.5v2.7h-2.5zM216.6 665.9h2.5v2.7h-2.5zM247.3 665.9h2.5v2.7h-2.5zM252 665.9h2.5v2.7h-2.5zM256.8 665.9h2.5v2.7h-2.5zM48.9 668.4h4.9v2.7h-4.9zM55.9 668.4h2.5v2.7h-2.5zM63 668.4h2.5v2.7h-2.5zM70.1 668.4h2.5v2.7h-2.5zM74.8 668.4h2.5v2.7h-2.5zM81.9 668.4h2.5v2.7h-2.5zM91.4 668.4h2.5v2.7h-2.5zM129.2 668.4h4.9v2.7h-4.9zM141 668.4h2.5v2.7h-2.5zM152.8 668.4h2.5v2.7h-2.5zM162.3 668.4h9.6v2.7h-9.6zM209.5 668.4h2.5v2.7h-2.5zM219 668.4h2.5v2.7h-2.5zM242.6 668.4h2.5v2.7h-2.5zM249.7 668.4h2.5v2.7h-2.5zM254.4 668.4h2.5v2.7h-2.5zM261.5 668.4h2.5v2.7h-2.5zM48.9 671h2.5v2.7h-2.5zM53.6 671h4.9v2.7h-4.9zM60.7 671h4.9v2.7h-4.9zM72.5 671h2.5v2.7h-2.5zM84.3 671h4.9v2.7h-4.9zM145.7 671h4.9v2.7h-4.9zM159.9 671h2.5v2.7h-2.5zM167 671h2.5v2.7h-2.5zM174.1 671h4.9v2.7h-4.9zM223.7 671h2.5v2.7h-2.5zM242.6 671h4.9v2.7h-4.9zM254.4 671h2.5v2.7h-2.5zM46.5 673.6h2.5v2.7h-2.5zM65.4 673.6h4.9v2.7h-4.9zM91.4 673.6h2.5v2.7h-2.5zM103.2 673.6h2.5v2.7h-2.5zM122.1 673.6h2.5v2.7h-2.5zM133.9 673.6h2.5v2.7h-2.5zM143.4 673.6h9.6v2.7h-9.6zM155.2 673.6h2.5v2.7h-2.5zM162.3 673.6h4.9v2.7h-4.9zM169.4 673.6h2.5v2.7h-2.5zM230.8 673.6h2.5v2.7h-2.5zM256.8 673.6h4.9v2.7h-4.9zM48.9 676.2h14.3v2.7h-14.3zM67.8 676.2h2.5v2.7h-2.5zM72.5 676.2h2.5v2.7h-2.5zM77.2 676.2h2.5v2.7h-2.5zM89 676.2h4.9v2.7h-4.9zM136.3 676.2h2.5v2.7h-2.5zM141 676.2h7.2v2.7h-7.2zM169.4 676.2h2.5v2.7h-2.5zM247.3 676.2h2.5v2.7h-2.5zM48.9 678.7h2.5v2.7h-2.5zM55.9 678.7h2.5v2.7h-2.5zM67.8 678.7h4.9v2.7h-4.9zM74.8 678.7h4.9v2.7h-4.9zM91.4 678.7h2.5v2.7h-2.5zM100.8 678.7h2.5v2.7h-2.5zM119.7 678.7h2.5v2.7h-2.5zM136.3 678.7h2.5v2.7h-2.5zM152.8 678.7h2.5v2.7h-2.5zM171.7 678.7h2.5v2.7h-2.5zM211.9 678.7h2.5v2.7h-2.5zM221.3 678.7h2.5v2.7h-2.5zM256.8 678.7h2.5v2.7h-2.5zM55.9 681.3h4.9v2.7h-4.9zM63 681.3h2.5v2.7h-2.5zM72.5 681.3h7.2v2.7h-7.2zM81.9 681.3h2.5v2.7h-2.5zM138.6 681.3h7.2v2.7h-7.2zM159.9 681.3h2.5v2.7h-2.5zM245 681.3h2.5v2.7h-2.5zM254.4 681.3h2.5v2.7h-2.5zM46.5 683.9h2.5v2.7h-2.5zM55.9 683.9h2.5v2.7h-2.5zM63 683.9h2.5v2.7h-2.5zM70.1 683.9h2.5v2.7h-2.5zM74.8 683.9h9.6v2.7h-9.6zM89 683.9h7.2v2.7h-7.2zM105.6 683.9h2.5v2.7h-2.5zM110.3 683.9h2.5v2.7h-2.5zM129.2 683.9h2.5v2.7h-2.5zM141 683.9h2.5v2.7h-2.5zM145.7 683.9h2.5v2.7h-2.5zM152.8 683.9h2.5v2.7h-2.5zM159.9 683.9h2.5v2.7h-2.5zM46.5 686.5h2.5v2.7h-2.5zM55.9 686.5h2.5v2.7h-2.5zM63 686.5h2.5v2.7h-2.5zM67.8 686.5h4.9v2.7h-4.9zM74.8 686.5h4.9v2.7h-4.9zM81.9 686.5h2.5v2.7h-2.5zM93.8 686.5h4.9v2.7h-4.9zM107.9 686.5h2.5v2.7h-2.5zM131.5 686.5h2.5v2.7h-2.5zM136.3 686.5h4.9v2.7h-4.9zM143.4 686.5h9.6v2.7h-9.6zM155.2 686.5h2.5v2.7h-2.5zM226.1 686.5h2.5v2.7h-2.5zM46.5 689.1h2.5v2.7h-2.5zM53.6 689.1h2.5v2.7h-2.5zM58.3 689.1h2.5v2.7h-2.5zM63 689.1h4.9v2.7h-4.9zM72.5 689.1h7.2v2.7h-7.2zM81.9 689.1h2.5v2.7h-2.5zM86.7 689.1h2.5v2.7h-2.5zM133.9 689.1h2.5v2.7h-2.5zM141 689.1h2.5v2.7h-2.5zM245 689.1h2.5v2.7h-2.5zM46.5 691.6h2.5v2.7h-2.5zM55.9 691.6h2.5v2.7h-2.5zM89 691.6h2.5v2.7h-2.5zM98.5 691.6h2.5v2.7h-2.5zM107.9 691.6h2.5v2.7h-2.5zM129.2 691.6h2.5v2.7h-2.5zM138.6 691.6h2.5v2.7h-2.5zM143.4 691.6h9.6v2.7h-9.6zM226.1 691.6h2.5v2.7h-2.5zM51.2 694.2h2.5v2.7h-2.5zM67.8 694.2h2.5v2.7h-2.5zM79.6 694.2h14.3v2.7h-14.3zM98.5 694.2h2.5v2.7h-2.5zM105.6 694.2h2.5v2.7h-2.5zM129.2 694.2h2.5v2.7h-2.5zM141 694.2h2.5v2.7h-2.5zM150.4 694.2h2.5v2.7h-2.5zM159.9 694.2h2.5v2.7h-2.5zM185.9 694.2h2.5v2.7h-2.5zM70.1 696.8h2.5v2.7h-2.5zM74.8 696.8h2.5v2.7h-2.5zM79.6 696.8h4.9v2.7h-4.9zM91.4 696.8h4.9v2.7h-4.9zM100.8 696.8h2.5v2.7h-2.5zM126.8 696.8h7.2v2.7h-7.2zM138.6 696.8h2.5v2.7h-2.5zM145.7 696.8h2.5v2.7h-2.5zM157.5 696.8h2.5v2.7h-2.5zM183.5 696.8h2.5v2.7h-2.5zM223.7 696.8h2.5v2.7h-2.5zM53.6 699.4h2.5v2.7h-2.5zM58.3 699.4h7.2v2.7h-7.2zM72.5 699.4h2.5v2.7h-2.5zM81.9 699.4h2.5v2.7h-2.5zM91.4 699.4h2.5v2.7h-2.5zM98.5 699.4h2.5v2.7h-2.5zM105.6 699.4h2.5v2.7h-2.5zM122.1 699.4h4.9v2.7h-4.9zM133.9 699.4h2.5v2.7h-2.5zM141 699.4h12v2.7h-12zM157.5 699.4h2.5v2.7h-2.5zM164.6 699.4h4.9v2.7h-4.9zM46.5 701.9h2.5v2.7h-2.5zM51.2 701.9h4.9v2.7h-4.9zM60.7 701.9h2.5v2.7h-2.5zM74.8 701.9h2.5v2.7h-2.5zM84.3 701.9h2.5v2.7h-2.5zM89 701.9h2.5v2.7h-2.5zM93.8 701.9h4.9v2.7h-4.9zM122.1 701.9h2.5v2.7h-2.5zM126.8 701.9h2.5v2.7h-2.5zM136.3 701.9h2.5v2.7h-2.5zM141 701.9h2.5v2.7h-2.5zM148.1 701.9h2.5v2.7h-2.5zM157.5 701.9h2.5v2.7h-2.5zM164.6 701.9h2.5v2.7h-2.5zM178.8 701.9h2.5v2.7h-2.5zM200.1 701.9h2.5v2.7h-2.5zM228.4 701.9h2.5v2.7h-2.5zM63 704.5h2.5v2.7h-2.5zM77.2 704.5h2.5v2.7h-2.5zM81.9 704.5h2.5v2.7h-2.5zM126.8 704.5h2.5v2.7h-2.5zM133.9 704.5h2.5v2.7h-2.5zM150.4 704.5h4.9v2.7h-4.9zM178.8 704.5h2.5v2.7h-2.5zM53.6 707.1h4.9v2.7h-4.9zM65.4 707.1h2.5v2.7h-2.5zM77.2 707.1h2.5v2.7h-2.5zM81.9 707.1h4.9v2.7h-4.9zM89 707.1h2.5v2.7h-2.5zM93.8 707.1h2.5v2.7h-2.5zM129.2 707.1h2.5v2.7h-2.5zM152.8 707.1h2.5v2.7h-2.5zM157.5 707.1h2.5v2.7h-2.5zM174.1 707.1h2.5v2.7h-2.5zM226.1 707.1h4.9v2.7h-4.9zM46.5 709.7h2.5v2.7h-2.5zM51.2 709.7h4.9v2.7h-4.9zM63 709.7h2.5v2.7h-2.5zM67.8 709.7h2.5v2.7h-2.5zM77.2 709.7h4.9v2.7h-4.9zM103.2 709.7h4.9v2.7h-4.9zM122.1 709.7h2.5v2.7h-2.5zM131.5 709.7h2.5v2.7h-2.5zM141 709.7h2.5v2.7h-2.5zM145.7 709.7h4.9v2.7h-4.9zM178.8 709.7h2.5v2.7h-2.5zM185.9 709.7h2.5v2.7h-2.5zM190.6 709.7h2.5v2.7h-2.5zM228.4 709.7h2.5v2.7h-2.5zM53.6 712.2h2.5v2.7h-2.5zM63 712.2h2.5v2.7h-2.5zM70.1 712.2h2.5v2.7h-2.5zM77.2 712.2h2.5v2.7h-2.5zM126.8 712.2h4.9v2.7h-4.9zM136.3 712.2h2.5v2.7h-2.5zM141 712.2h2.5v2.7h-2.5zM145.7 712.2h4.9v2.7h-4.9zM162.3 712.2h2.5v2.7h-2.5zM190.6 712.2h2.5v2.7h-2.5zM48.9 714.8h4.9v2.7h-4.9zM60.7 714.8h4.9v2.7h-4.9zM98.5 714.8h2.5v2.7h-2.5zM171.7 714.8h2.5v2.7h-2.5zM51.2 717.4h2.5v2.7h-2.5zM65.4 717.4h2.5v2.7h-2.5zM70.1 717.4h2.5v2.7h-2.5zM79.6 717.4h4.9v2.7h-4.9zM91.4 717.4h2.5v2.7h-2.5zM124.5 717.4h2.5v2.7h-2.5zM148.1 717.4h2.5v2.7h-2.5zM157.5 717.4h2.5v2.7h-2.5zM162.3 717.4h2.5v2.7h-2.5zM181.2 717.4h2.5v2.7h-2.5zM67.8 720h4.9v2.7h-4.9zM74.8 720h2.5v2.7h-2.5zM81.9 720h4.9v2.7h-4.9zM91.4 720h2.5v2.7h-2.5zM117.4 720h2.5v2.7h-2.5zM48.9 722.5h2.5v2.7h-2.5zM53.6 722.5h2.5v2.7h-2.5zM58.3 722.5h2.5v2.7h-2.5zM63 722.5h2.5v2.7h-2.5zM77.2 722.5h4.9v2.7h-4.9zM93.8 722.5h2.5v2.7h-2.5zM133.9 722.5h2.5v2.7h-2.5zM145.7 722.5h2.5v2.7h-2.5zM155.2 722.5h2.5v2.7h-2.5zM48.9 725.1h2.5v2.7h-2.5zM53.6 725.1h2.5v2.7h-2.5zM58.3 725.1h7.2v2.7h-7.2zM86.7 725.1h2.5v2.7h-2.5zM98.5 725.1h2.5v2.7h-2.5zM112.7 725.1h2.5v2.7h-2.5zM117.4 725.1h2.5v2.7h-2.5zM152.8 725.1h2.5v2.7h-2.5zM169.4 725.1h2.5v2.7h-2.5zM60.7 727.7h4.9v2.7h-4.9zM67.8 727.7h2.5v2.7h-2.5zM74.8 727.7h2.5v2.7h-2.5zM107.9 727.7h2.5v2.7h-2.5zM119.7 727.7h2.5v2.7h-2.5zM155.2 727.7h2.5v2.7h-2.5zM167 727.7h2.5v2.7h-2.5zM174.1 727.7h4.9v2.7h-4.9zM46.5 730.3h2.5v2.7h-2.5zM51.2 730.3h2.5v2.7h-2.5zM67.8 730.3h2.5v2.7h-2.5zM74.8 730.3h4.9v2.7h-4.9zM96.1 730.3h2.5v2.7h-2.5zM124.5 730.3h4.9v2.7h-4.9zM136.3 730.3h4.9v2.7h-4.9zM143.4 730.3h2.5v2.7h-2.5zM157.5 730.3h2.5v2.7h-2.5zM167 730.3h2.5v2.7h-2.5zM46.5 732.8h4.9v2.7h-4.9zM53.6 732.8h2.5v2.7h-2.5zM63 732.8h2.5v2.7h-2.5zM74.8 732.8h2.5v2.7h-2.5zM86.7 732.8h7.2v2.7h-7.2zM100.8 732.8h2.5v2.7h-2.5zM112.7 732.8h2.5v2.7h-2.5zM117.4 732.8h2.5v2.7h-2.5zM133.9 732.8h2.5v2.7h-2.5zM145.7 732.8h7.2v2.7h-7.2zM157.5 732.8h2.5v2.7h-2.5z"/>
<path fill="#fafac6" d="M197.7 368.3h2.5v2.7h-2.5zM207.1 368.3h4.9v2.7h-4.9zM214.2 368.3h2.5v2.7h-2.5zM190.6 370.9h4.9v2.7h-4.9zM214.2 370.9h2.5v2.7h-2.5zM197.7 373.5h2.5v2.7h-2.5zM209.5 373.5h2.5v2.7h-2.5zM223.7 376.1h2.5v2.7h-2.5zM197.7 378.7h2.5v2.7h-2.5zM207.1 378.7h2.5v2.7h-2.5zM211.9 378.7h7.2v2.7h-7.2zM183.5 381.2h2.5v2.7h-2.5zM197.7 381.2h2.5v2.7h-2.5zM209.5 381.2h2.5v2.7h-2.5zM202.4 383.8h2.5v2.7h-2.5zM204.8 386.4h12v2.7h-12zM226.1 386.4h2.5v2.7h-2.5zM195.3 389h2.5v2.7h-2.5zM200.1 389h2.5v2.7h-2.5zM207.1 389h2.5v2.7h-2.5zM204.8 391.6h9.6v2.7h-9.6zM200.1 394.2h2.5v2.7h-2.5zM219 394.2h2.5v2.7h-2.5zM223.7 394.2h2.5v2.7h-2.5zM178.8 396.8h2.5v2.7h-2.5zM204.8 396.8h2.5v2.7h-2.5zM209.5 396.8h2.5v2.7h-2.5zM219 399.4h2.5v2.7h-2.5zM211.9 402h2.5v2.7h-2.5zM216.6 402h2.5v2.7h-2.5zM228.4 402h2.5v2.7h-2.5zM223.7 404.6h2.5v2.7h-2.5zM155.2 407.2h4.9v2.7h-4.9zM197.7 407.2h2.5v2.7h-2.5zM226.1 407.2h2.5v2.7h-2.5zM159.9 409.8h2.5v2.7h-2.5zM167 409.8h2.5v2.7h-2.5zM211.9 409.8h7.2v2.7h-7.2zM230.8 409.8h2.5v2.7h-2.5zM145.7 412.4h2.5v2.7h-2.5zM202.4 412.4h2.5v2.7h-2.5zM209.5 412.4h4.9v2.7h-4.9zM228.4 412.4h2.5v2.7h-2.5zM214.2 415h9.6v2.7h-9.6zM143.4 417.6h2.5v2.7h-2.5zM209.5 417.6h2.5v2.7h-2.5zM221.3 417.6h2.5v2.7h-2.5zM292.2 417.6h4.9v2.7h-4.9zM301.7 417.6h2.5v2.7h-2.5zM117.4 420.2h2.5v2.7h-2.5zM131.5 420.2h2.5v2.7h-2.5zM138.6 420.2h4.9v2.7h-4.9zM148.1 420.2h2.5v2.7h-2.5zM202.4 420.2h2.5v2.7h-2.5zM207.1 420.2h2.5v2.7h-2.5zM256.8 420.2h2.5v2.7h-2.5zM287.5 420.2h2.5v2.7h-2.5zM292.2 420.2h2.5v2.7h-2.5zM296.9 420.2h7.2v2.7h-7.2zM254.4 422.8h2.5v2.7h-2.5zM259.1 422.8h2.5v2.7h-2.5zM263.8 422.8h7.2v2.7h-7.2zM289.8 422.8h4.9v2.7h-4.9zM301.7 422.8h2.5v2.7h-2.5zM247.3 425.4h2.5v2.7h-2.5zM261.5 425.4h2.5v2.7h-2.5zM266.2 425.4h2.5v2.7h-2.5zM270.9 425.4h4.9v2.7h-4.9zM280.4 425.4h4.9v2.7h-4.9zM289.8 425.4h4.9v2.7h-4.9zM296.9 425.4h7.2v2.7h-7.2zM145.7 428h2.5v2.7h-2.5zM245 428h4.9v2.7h-4.9zM252 428h7.2v2.7h-7.2zM261.5 428h14.3v2.7h-14.3zM280.4 428h7.2v2.7h-7.2zM289.8 428h2.5v2.7h-2.5zM296.9 428h4.9v2.7h-4.9zM233.1 430.6h2.5v2.7h-2.5zM240.2 430.6h2.5v2.7h-2.5zM247.3 430.6h4.9v2.7h-4.9zM254.4 430.6h4.9v2.7h-4.9zM261.5 430.6h4.9v2.7h-4.9zM270.9 430.6h2.5v2.7h-2.5zM280.4 430.6h2.5v2.7h-2.5zM285.1 430.6h2.5v2.7h-2.5zM294.6 430.6h9.6v2.7h-9.6zM221.3 433.2h2.5v2.7h-2.5zM228.4 433.2h2.5v2.7h-2.5zM235.5 433.2h2.5v2.7h-2.5zM240.2 433.2h4.9v2.7h-4.9zM247.3 433.2h4.9v2.7h-4.9zM256.8 433.2h4.9v2.7h-4.9zM263.8 433.2h7.2v2.7h-7.2zM275.7 433.2h4.9v2.7h-4.9zM285.1 433.2h2.5v2.7h-2.5zM294.6 433.2h2.5v2.7h-2.5zM301.7 433.2h2.5v2.7h-2.5zM211.9 435.7h2.5v2.7h-2.5zM216.6 435.7h4.9v2.7h-4.9zM223.7 435.7h2.5v2.7h-2.5zM228.4 435.7h2.5v2.7h-2.5zM237.9 435.7h2.5v2.7h-2.5zM242.6 435.7h2.5v2.7h-2.5zM252 435.7h21.4v2.7h-21.4zM280.4 435.7h9.6v2.7h-9.6zM294.6 435.7h4.9v2.7h-4.9zM211.9 438.3h2.5v2.7h-2.5zM219 438.3h7.2v2.7h-7.2zM230.8 438.3h2.5v2.7h-2.5zM235.5 438.3h2.5v2.7h-2.5zM240.2 438.3h2.5v2.7h-2.5zM247.3 438.3h2.5v2.7h-2.5zM254.4 438.3h12v2.7h-12zM268.6 438.3h4.9v2.7h-4.9zM275.7 438.3h2.5v2.7h-2.5zM285.1 438.3h2.5v2.7h-2.5zM292.2 438.3h2.5v2.7h-2.5zM296.9 438.3h4.9v2.7h-4.9zM308.7 438.3h2.5v2.7h-2.5zM214.2 440.9h4.9v2.7h-4.9zM226.1 440.9h9.6v2.7h-9.6zM237.9 440.9h2.5v2.7h-2.5zM252 440.9h4.9v2.7h-4.9zM261.5 440.9h2.5v2.7h-2.5zM268.6 440.9h2.5v2.7h-2.5zM278 440.9h2.5v2.7h-2.5zM285.1 440.9h7.2v2.7h-7.2zM294.6 440.9h4.9v2.7h-4.9zM304 440.9h2.5v2.7h-2.5zM308.7 440.9h2.5v2.7h-2.5zM211.9 443.5h7.2v2.7h-7.2zM223.7 443.5h2.5v2.7h-2.5zM228.4 443.5h4.9v2.7h-4.9zM235.5 443.5h2.5v2.7h-2.5zM242.6 443.5h9.6v2.7h-9.6zM254.4 443.5h2.5v2.7h-2.5zM261.5 443.5h9.6v2.7h-9.6zM278 443.5h7.2v2.7h-7.2zM294.6 443.5h7.2v2.7h-7.2zM308.7 443.5h2.5v2.7h-2.5zM216.6 446.1h2.5v2.7h-2.5zM221.3 446.1h2.5v2.7h-2.5zM226.1 446.1h7.2v2.7h-7.2zM237.9 446.1h2.5v2.7h-2.5zM247.3 446.1h2.5v2.7h-2.5zM254.4 446.1h2.5v2.7h-2.5zM259.1 446.1h9.6v2.7h-9.6zM285.1 446.1h2.5v2.7h-2.5zM289.8 446.1h4.9v2.7h-4.9zM299.3 446.1h2.5v2.7h-2.5zM306.4 446.1h2.5v2.7h-2.5zM311.1 446.1h2.5v2.7h-2.5zM216.6 448.7h2.5v2.7h-2.5zM221.3 448.7h2.5v2.7h-2.5zM242.6 448.7h2.5v2.7h-2.5zM247.3 448.7h4.9v2.7h-4.9zM261.5 448.7h2.5v2.7h-2.5zM268.6 448.7h4.9v2.7h-4.9zM275.7 448.7h2.5v2.7h-2.5zM280.4 448.7h2.5v2.7h-2.5zM285.1 448.7h2.5v2.7h-2.5zM294.6 448.7h2.5v2.7h-2.5zM299.3 448.7h2.5v2.7h-2.5zM306.4 448.7h2.5v2.7h-2.5zM311.1 448.7h2.5v2.7h-2.5zM315.8 448.7h12v2.7h-12zM219 451.3h2.5v2.7h-2.5zM235.5 451.3h12v2.7h-12zM256.8 451.3h9.6v2.7h-9.6zM270.9 451.3h4.9v2.7h-4.9zM278 451.3h9.6v2.7h-9.6zM289.8 451.3h12v2.7h-12zM306.4 451.3h7.2v2.7h-7.2zM318.2 451.3h2.5v2.7h-2.5zM322.9 451.3h7.2v2.7h-7.2zM235.5 453.9h2.5v2.7h-2.5zM240.2 453.9h4.9v2.7h-4.9zM247.3 453.9h2.5v2.7h-2.5zM254.4 453.9h12v2.7h-12zM268.6 453.9h2.5v2.7h-2.5zM273.3 453.9h9.6v2.7h-9.6zM285.1 453.9h7.2v2.7h-7.2zM296.9 453.9h2.5v2.7h-2.5zM308.7 453.9h12v2.7h-12zM211.9 456.5h9.6v2.7h-9.6zM226.1 456.5h4.9v2.7h-4.9zM237.9 456.5h2.5v2.7h-2.5zM242.6 456.5h12v2.7h-12zM259.1 456.5h2.5v2.7h-2.5zM273.3 456.5h4.9v2.7h-4.9zM289.8 456.5h7.2v2.7h-7.2zM306.4 456.5h7.2v2.7h-7.2zM320.6 456.5h2.5v2.7h-2.5zM214.2 459.1h2.5v2.7h-2.5zM235.5 459.1h2.5v2.7h-2.5zM240.2 459.1h2.5v2.7h-2.5zM247.3 459.1h4.9v2.7h-4.9zM266.2 459.1h2.5v2.7h-2.5zM270.9 459.1h2.5v2.7h-2.5zM278 459.1h7.2v2.7h-7.2zM287.5 459.1h12v2.7h-12zM301.7 459.1h9.6v2.7h-9.6zM315.8 459.1h2.5v2.7h-2.5zM223.7 461.7h4.9v2.7h-4.9zM235.5 461.7h7.2v2.7h-7.2zM252 461.7h7.2v2.7h-7.2zM261.5 461.7h7.2v2.7h-7.2zM270.9 461.7h2.5v2.7h-2.5zM282.7 461.7h2.5v2.7h-2.5zM294.6 461.7h4.9v2.7h-4.9zM304 461.7h7.2v2.7h-7.2zM223.7 464.3h2.5v2.7h-2.5zM230.8 464.3h2.5v2.7h-2.5zM235.5 464.3h2.5v2.7h-2.5zM245 464.3h2.5v2.7h-2.5zM254.4 464.3h2.5v2.7h-2.5zM259.1 464.3h2.5v2.7h-2.5zM263.8 464.3h9.6v2.7h-9.6zM278 464.3h7.2v2.7h-7.2zM289.8 464.3h7.2v2.7h-7.2zM301.7 464.3h2.5v2.7h-2.5zM306.4 464.3h2.5v2.7h-2.5zM216.6 466.9h7.2v2.7h-7.2zM228.4 466.9h7.2v2.7h-7.2zM237.9 466.9h4.9v2.7h-4.9zM245 466.9h9.6v2.7h-9.6zM256.8 466.9h7.2v2.7h-7.2zM270.9 466.9h2.5v2.7h-2.5zM278 466.9h4.9v2.7h-4.9zM285.1 466.9h7.2v2.7h-7.2zM294.6 466.9h14.3v2.7h-14.3zM209.5 469.4h2.5v2.7h-2.5zM228.4 469.4h9.6v2.7h-9.6zM249.7 469.4h2.5v2.7h-2.5zM254.4 469.4h2.5v2.7h-2.5zM259.1 469.4h7.2v2.7h-7.2zM270.9 469.4h4.9v2.7h-4.9zM280.4 469.4h2.5v2.7h-2.5zM285.1 469.4h4.9v2.7h-4.9zM292.2 469.4h2.5v2.7h-2.5zM296.9 469.4h4.9v2.7h-4.9zM219 472h2.5v2.7h-2.5zM223.7 472h2.5v2.7h-2.5zM230.8 472h2.5v2.7h-2.5zM235.5 472h2.5v2.7h-2.5zM242.6 472h2.5v2.7h-2.5zM247.3 472h4.9v2.7h-4.9zM256.8 472h2.5v2.7h-2.5zM263.8 472h2.5v2.7h-2.5zM268.6 472h2.5v2.7h-2.5zM273.3 472h2.5v2.7h-2.5zM278 472h2.5v2.7h-2.5zM282.7 472h2.5v2.7h-2.5zM287.5 472h14.3v2.7h-14.3zM216.6 474.6h12v2.7h-12zM233.1 474.6h7.2v2.7h-7.2zM247.3 474.6h9.6v2.7h-9.6zM263.8 474.6h2.5v2.7h-2.5zM268.6 474.6h16.7v2.7h-16.7zM287.5 474.6h4.9v2.7h-4.9zM294.6 474.6h7.2v2.7h-7.2zM141 477.2h2.5v2.7h-2.5zM148.1 477.2h2.5v2.7h-2.5zM155.2 477.2h2.5v2.7h-2.5zM167 477.2h2.5v2.7h-2.5zM174.1 477.2h2.5v2.7h-2.5zM185.9 477.2h2.5v2.7h-2.5zM207.1 477.2h4.9v2.7h-4.9zM216.6 477.2h2.5v2.7h-2.5zM221.3 477.2h12v2.7h-12zM240.2 477.2h4.9v2.7h-4.9zM252 477.2h2.5v2.7h-2.5zM259.1 477.2h2.5v2.7h-2.5zM263.8 477.2h12v2.7h-12zM285.1 477.2h7.2v2.7h-7.2zM294.6 477.2h2.5v2.7h-2.5zM138.6 479.8h4.9v2.7h-4.9zM145.7 479.8h2.5v2.7h-2.5zM152.8 479.8h2.5v2.7h-2.5zM157.5 479.8h2.5v2.7h-2.5zM162.3 479.8h4.9v2.7h-4.9zM169.4 479.8h2.5v2.7h-2.5zM178.8 479.8h4.9v2.7h-4.9zM185.9 479.8h7.2v2.7h-7.2zM204.8 479.8h7.2v2.7h-7.2zM219 479.8h2.5v2.7h-2.5zM226.1 479.8h4.9v2.7h-4.9zM235.5 479.8h4.9v2.7h-4.9zM247.3 479.8h4.9v2.7h-4.9zM254.4 479.8h2.5v2.7h-2.5zM261.5 479.8h4.9v2.7h-4.9zM275.7 479.8h2.5v2.7h-2.5zM280.4 479.8h2.5v2.7h-2.5zM285.1 479.8h2.5v2.7h-2.5zM138.6 482.4h2.5v2.7h-2.5zM143.4 482.4h2.5v2.7h-2.5zM155.2 482.4h2.5v2.7h-2.5zM162.3 482.4h2.5v2.7h-2.5zM167 482.4h12v2.7h-12zM181.2 482.4h2.5v2.7h-2.5zM190.6 482.4h4.9v2.7h-4.9zM207.1 482.4h2.5v2.7h-2.5zM211.9 482.4h2.5v2.7h-2.5zM216.6 482.4h2.5v2.7h-2.5zM223.7 482.4h2.5v2.7h-2.5zM228.4 482.4h4.9v2.7h-4.9zM235.5 482.4h4.9v2.7h-4.9zM254.4 482.4h7.2v2.7h-7.2zM268.6 482.4h2.5v2.7h-2.5zM278 482.4h2.5v2.7h-2.5zM282.7 482.4h9.6v2.7h-9.6zM136.3 485h2.5v2.7h-2.5zM145.7 485h2.5v2.7h-2.5zM162.3 485h7.2v2.7h-7.2zM171.7 485h4.9v2.7h-4.9zM178.8 485h2.5v2.7h-2.5zM183.5 485h4.9v2.7h-4.9zM190.6 485h4.9v2.7h-4.9zM202.4 485h2.5v2.7h-2.5zM209.5 485h9.6v2.7h-9.6zM226.1 485h4.9v2.7h-4.9zM233.1 485h12v2.7h-12zM249.7 485h2.5v2.7h-2.5zM256.8 485h2.5v2.7h-2.5zM261.5 485h4.9v2.7h-4.9zM268.6 485h2.5v2.7h-2.5zM273.3 485h12v2.7h-12zM287.5 485h2.5v2.7h-2.5zM138.6 487.6h2.5v2.7h-2.5zM150.4 487.6h4.9v2.7h-4.9zM167 487.6h12v2.7h-12zM188.2 487.6h2.5v2.7h-2.5zM195.3 487.6h2.5v2.7h-2.5zM202.4 487.6h2.5v2.7h-2.5zM214.2 487.6h2.5v2.7h-2.5zM228.4 487.6h4.9v2.7h-4.9zM237.9 487.6h9.6v2.7h-9.6zM249.7 487.6h2.5v2.7h-2.5zM254.4 487.6h4.9v2.7h-4.9zM266.2 487.6h2.5v2.7h-2.5zM275.7 487.6h2.5v2.7h-2.5zM280.4 487.6h2.5v2.7h-2.5zM131.5 490.2h2.5v2.7h-2.5zM136.3 490.2h2.5v2.7h-2.5zM145.7 490.2h7.2v2.7h-7.2zM155.2 490.2h2.5v2.7h-2.5zM162.3 490.2h7.2v2.7h-7.2zM176.4 490.2h2.5v2.7h-2.5zM183.5 490.2h7.2v2.7h-7.2zM195.3 490.2h2.5v2.7h-2.5zM200.1 490.2h2.5v2.7h-2.5zM204.8 490.2h2.5v2.7h-2.5zM209.5 490.2h2.5v2.7h-2.5zM221.3 490.2h2.5v2.7h-2.5zM230.8 490.2h2.5v2.7h-2.5zM237.9 490.2h2.5v2.7h-2.5zM242.6 490.2h2.5v2.7h-2.5zM249.7 490.2h2.5v2.7h-2.5zM254.4 490.2h2.5v2.7h-2.5zM261.5 490.2h14.3v2.7h-14.3zM278 490.2h7.2v2.7h-7.2zM131.5 492.8h2.5v2.7h-2.5zM148.1 492.8h2.5v2.7h-2.5zM152.8 492.8h4.9v2.7h-4.9zM162.3 492.8h2.5v2.7h-2.5zM167 492.8h2.5v2.7h-2.5zM181.2 492.8h2.5v2.7h-2.5zM188.2 492.8h2.5v2.7h-2.5zM193 492.8h7.2v2.7h-7.2zM209.5 492.8h4.9v2.7h-4.9zM216.6 492.8h2.5v2.7h-2.5zM221.3 492.8h2.5v2.7h-2.5zM226.1 492.8h2.5v2.7h-2.5zM230.8 492.8h2.5v2.7h-2.5zM235.5 492.8h2.5v2.7h-2.5zM249.7 492.8h4.9v2.7h-4.9zM266.2 492.8h2.5v2.7h-2.5zM273.3 492.8h2.5v2.7h-2.5zM67.8 495.3h2.5v2.7h-2.5zM84.3 495.3h2.5v2.7h-2.5zM129.2 495.3h4.9v2.7h-4.9zM169.4 495.3h2.5v2.7h-2.5zM185.9 495.3h4.9v2.7h-4.9zM200.1 495.3h4.9v2.7h-4.9zM211.9 495.3h2.5v2.7h-2.5zM221.3 495.3h7.2v2.7h-7.2zM230.8 495.3h2.5v2.7h-2.5zM235.5 495.3h2.5v2.7h-2.5zM256.8 495.3h7.2v2.7h-7.2zM266.2 495.3h2.5v2.7h-2.5zM81.9 497.9h2.5v2.7h-2.5zM86.7 497.9h2.5v2.7h-2.5zM126.8 497.9h2.5v2.7h-2.5zM131.5 497.9h4.9v2.7h-4.9zM138.6 497.9h2.5v2.7h-2.5zM155.2 497.9h2.5v2.7h-2.5zM167 497.9h2.5v2.7h-2.5zM178.8 497.9h2.5v2.7h-2.5zM188.2 497.9h2.5v2.7h-2.5zM200.1 497.9h2.5v2.7h-2.5zM228.4 497.9h2.5v2.7h-2.5zM245 497.9h2.5v2.7h-2.5zM261.5 497.9h2.5v2.7h-2.5zM58.3 500.5h2.5v2.7h-2.5zM70.1 500.5h2.5v2.7h-2.5zM74.8 500.5h2.5v2.7h-2.5zM124.5 500.5h7.2v2.7h-7.2zM133.9 500.5h2.5v2.7h-2.5zM145.7 500.5h2.5v2.7h-2.5zM150.4 500.5h2.5v2.7h-2.5zM159.9 500.5h2.5v2.7h-2.5zM167 500.5h2.5v2.7h-2.5zM174.1 500.5h4.9v2.7h-4.9zM185.9 500.5h2.5v2.7h-2.5zM219 500.5h2.5v2.7h-2.5zM223.7 500.5h2.5v2.7h-2.5zM230.8 500.5h2.5v2.7h-2.5zM240.2 500.5h2.5v2.7h-2.5zM67.8 503.1h2.5v2.7h-2.5zM81.9 503.1h2.5v2.7h-2.5zM129.2 503.1h2.5v2.7h-2.5zM133.9 503.1h2.5v2.7h-2.5zM141 503.1h2.5v2.7h-2.5zM159.9 503.1h2.5v2.7h-2.5zM176.4 503.1h2.5v2.7h-2.5zM181.2 503.1h7.2v2.7h-7.2zM195.3 503.1h2.5v2.7h-2.5zM226.1 503.1h2.5v2.7h-2.5zM254.4 503.1h4.9v2.7h-4.9zM268.6 503.1h2.5v2.7h-2.5zM58.3 505.7h2.5v2.7h-2.5zM74.8 505.7h2.5v2.7h-2.5zM79.6 505.7h2.5v2.7h-2.5zM124.5 505.7h2.5v2.7h-2.5zM133.9 505.7h2.5v2.7h-2.5zM145.7 505.7h2.5v2.7h-2.5zM150.4 505.7h2.5v2.7h-2.5zM164.6 505.7h4.9v2.7h-4.9zM178.8 505.7h2.5v2.7h-2.5zM190.6 505.7h2.5v2.7h-2.5zM204.8 505.7h2.5v2.7h-2.5zM235.5 505.7h4.9v2.7h-4.9zM245 505.7h2.5v2.7h-2.5zM256.8 505.7h2.5v2.7h-2.5zM72.5 508.3h2.5v2.7h-2.5zM77.2 508.3h4.9v2.7h-4.9zM84.3 508.3h4.9v2.7h-4.9zM93.8 508.3h2.5v2.7h-2.5zM119.7 508.3h7.2v2.7h-7.2zM133.9 508.3h2.5v2.7h-2.5zM145.7 508.3h2.5v2.7h-2.5zM152.8 508.3h4.9v2.7h-4.9zM190.6 508.3h2.5v2.7h-2.5zM214.2 508.3h2.5v2.7h-2.5zM230.8 508.3h2.5v2.7h-2.5zM247.3 508.3h2.5v2.7h-2.5zM254.4 508.3h2.5v2.7h-2.5zM74.8 510.9h2.5v2.7h-2.5zM89 510.9h2.5v2.7h-2.5zM122.1 510.9h4.9v2.7h-4.9zM136.3 510.9h2.5v2.7h-2.5zM143.4 510.9h2.5v2.7h-2.5zM150.4 510.9h2.5v2.7h-2.5zM169.4 510.9h2.5v2.7h-2.5zM176.4 510.9h2.5v2.7h-2.5zM185.9 510.9h2.5v2.7h-2.5zM219 510.9h2.5v2.7h-2.5zM235.5 510.9h2.5v2.7h-2.5zM240.2 510.9h2.5v2.7h-2.5zM252 510.9h2.5v2.7h-2.5zM63 513.5h2.5v2.7h-2.5zM91.4 513.5h2.5v2.7h-2.5zM96.1 513.5h2.5v2.7h-2.5zM115 513.5h2.5v2.7h-2.5zM119.7 513.5h2.5v2.7h-2.5zM124.5 513.5h7.2v2.7h-7.2zM136.3 513.5h2.5v2.7h-2.5zM143.4 513.5h2.5v2.7h-2.5zM150.4 513.5h2.5v2.7h-2.5zM190.6 513.5h2.5v2.7h-2.5zM209.5 513.5h2.5v2.7h-2.5zM235.5 513.5h2.5v2.7h-2.5zM249.7 513.5h4.9v2.7h-4.9zM60.7 516.1h2.5v2.7h-2.5zM70.1 516.1h2.5v2.7h-2.5zM96.1 516.1h2.5v2.7h-2.5zM100.8 516.1h2.5v2.7h-2.5zM115 516.1h2.5v2.7h-2.5zM122.1 516.1h2.5v2.7h-2.5zM126.8 516.1h2.5v2.7h-2.5zM131.5 516.1h2.5v2.7h-2.5zM136.3 516.1h2.5v2.7h-2.5zM148.1 516.1h2.5v2.7h-2.5zM152.8 516.1h2.5v2.7h-2.5zM188.2 516.1h2.5v2.7h-2.5zM230.8 516.1h2.5v2.7h-2.5zM98.5 518.6h2.5v2.7h-2.5zM110.3 518.6h4.9v2.7h-4.9zM117.4 518.6h7.2v2.7h-7.2zM126.8 518.6h2.5v2.7h-2.5zM143.4 518.6h2.5v2.7h-2.5zM150.4 518.6h2.5v2.7h-2.5zM162.3 518.6h2.5v2.7h-2.5zM185.9 518.6h2.5v2.7h-2.5zM219 518.6h2.5v2.7h-2.5zM240.2 518.6h2.5v2.7h-2.5zM245 518.6h4.9v2.7h-4.9zM117.4 521.2h7.2v2.7h-7.2zM138.6 521.2h2.5v2.7h-2.5zM150.4 521.2h4.9v2.7h-4.9zM195.3 521.2h2.5v2.7h-2.5zM233.1 521.2h2.5v2.7h-2.5zM242.6 521.2h2.5v2.7h-2.5zM119.7 523.8h9.6v2.7h-9.6zM131.5 523.8h2.5v2.7h-2.5zM155.2 523.8h2.5v2.7h-2.5zM190.6 523.8h2.5v2.7h-2.5zM195.3 523.8h2.5v2.7h-2.5zM200.1 523.8h2.5v2.7h-2.5zM233.1 523.8h4.9v2.7h-4.9zM240.2 523.8h2.5v2.7h-2.5zM84.3 526.4h2.5v2.7h-2.5zM110.3 526.4h2.5v2.7h-2.5zM124.5 526.4h7.2v2.7h-7.2zM133.9 526.4h2.5v2.7h-2.5zM141 526.4h2.5v2.7h-2.5zM157.5 526.4h2.5v2.7h-2.5zM162.3 526.4h2.5v2.7h-2.5zM216.6 526.4h2.5v2.7h-2.5zM223.7 526.4h2.5v2.7h-2.5zM107.9 529h2.5v2.7h-2.5zM117.4 529h2.5v2.7h-2.5zM122.1 529h7.2v2.7h-7.2zM138.6 529h2.5v2.7h-2.5zM171.7 529h2.5v2.7h-2.5zM178.8 529h2.5v2.7h-2.5zM183.5 529h2.5v2.7h-2.5zM237.9 529h2.5v2.7h-2.5zM86.7 531.6h2.5v2.7h-2.5zM122.1 531.6h2.5v2.7h-2.5zM126.8 531.6h4.9v2.7h-4.9zM167 531.6h2.5v2.7h-2.5zM188.2 531.6h2.5v2.7h-2.5zM202.4 531.6h2.5v2.7h-2.5zM219 531.6h2.5v2.7h-2.5zM223.7 531.6h2.5v2.7h-2.5zM237.9 531.6h2.5v2.7h-2.5zM103.2 534.2h2.5v2.7h-2.5zM110.3 534.2h2.5v2.7h-2.5zM117.4 534.2h4.9v2.7h-4.9zM131.5 534.2h2.5v2.7h-2.5zM148.1 534.2h2.5v2.7h-2.5zM167 534.2h2.5v2.7h-2.5zM188.2 534.2h2.5v2.7h-2.5zM228.4 534.2h2.5v2.7h-2.5zM110.3 536.8h4.9v2.7h-4.9zM124.5 536.8h2.5v2.7h-2.5zM148.1 536.8h2.5v2.7h-2.5zM152.8 536.8h2.5v2.7h-2.5zM181.2 536.8h2.5v2.7h-2.5zM204.8 536.8h2.5v2.7h-2.5zM219 536.8h2.5v2.7h-2.5zM223.7 536.8h2.5v2.7h-2.5zM228.4 536.8h2.5v2.7h-2.5zM233.1 536.8h2.5v2.7h-2.5zM107.9 539.3h2.5v2.7h-2.5zM112.7 539.3h4.9v2.7h-4.9zM129.2 539.3h4.9v2.7h-4.9zM164.6 539.3h2.5v2.7h-2.5zM183.5 539.3h2.5v2.7h-2.5zM188.2 539.3h2.5v2.7h-2.5zM197.7 539.3h2.5v2.7h-2.5zM207.1 539.3h4.9v2.7h-4.9zM98.5 541.9h2.5v2.7h-2.5zM105.6 541.9h2.5v2.7h-2.5zM112.7 541.9h2.5v2.7h-2.5zM119.7 541.9h7.2v2.7h-7.2zM171.7 541.9h2.5v2.7h-2.5zM176.4 541.9h2.5v2.7h-2.5zM183.5 541.9h4.9v2.7h-4.9zM221.3 541.9h2.5v2.7h-2.5zM228.4 541.9h4.9v2.7h-4.9zM91.4 544.5h2.5v2.7h-2.5zM110.3 544.5h9.6v2.7h-9.6zM122.1 544.5h4.9v2.7h-4.9zM129.2 544.5h2.5v2.7h-2.5zM141 544.5h2.5v2.7h-2.5zM195.3 544.5h2.5v2.7h-2.5zM202.4 544.5h2.5v2.7h-2.5zM214.2 544.5h2.5v2.7h-2.5zM221.3 544.5h2.5v2.7h-2.5zM226.1 544.5h2.5v2.7h-2.5zM96.1 547.1h2.5v2.7h-2.5zM100.8 547.1h2.5v2.7h-2.5zM105.6 547.1h2.5v2.7h-2.5zM112.7 547.1h2.5v2.7h-2.5zM117.4 547.1h4.9v2.7h-4.9zM129.2 547.1h2.5v2.7h-2.5zM133.9 547.1h2.5v2.7h-2.5zM138.6 547.1h4.9v2.7h-4.9zM171.7 547.1h2.5v2.7h-2.5zM195.3 547.1h2.5v2.7h-2.5zM204.8 547.1h2.5v2.7h-2.5zM221.3 547.1h2.5v2.7h-2.5zM240.2 547.1h2.5v2.7h-2.5zM98.5 549.7h2.5v2.7h-2.5zM105.6 549.7h9.6v2.7h-9.6zM119.7 549.7h7.2v2.7h-7.2zM138.6 549.7h2.5v2.7h-2.5zM145.7 549.7h2.5v2.7h-2.5zM150.4 549.7h2.5v2.7h-2.5zM171.7 549.7h2.5v2.7h-2.5zM216.6 549.7h2.5v2.7h-2.5zM240.2 549.7h2.5v2.7h-2.5zM247.3 549.7h2.5v2.7h-2.5zM273.3 549.7h2.5v2.7h-2.5zM79.6 552.3h2.5v2.7h-2.5zM84.3 552.3h2.5v2.7h-2.5zM96.1 552.3h7.2v2.7h-7.2zM105.6 552.3h2.5v2.7h-2.5zM110.3 552.3h7.2v2.7h-7.2zM119.7 552.3h4.9v2.7h-4.9zM131.5 552.3h2.5v2.7h-2.5zM136.3 552.3h2.5v2.7h-2.5zM145.7 552.3h2.5v2.7h-2.5zM150.4 552.3h2.5v2.7h-2.5zM183.5 552.3h2.5v2.7h-2.5zM190.6 552.3h4.9v2.7h-4.9zM204.8 552.3h4.9v2.7h-4.9zM214.2 552.3h4.9v2.7h-4.9zM60.7 554.9h9.6v2.7h-9.6zM86.7 554.9h4.9v2.7h-4.9zM96.1 554.9h2.5v2.7h-2.5zM100.8 554.9h2.5v2.7h-2.5zM107.9 554.9h12v2.7h-12zM122.1 554.9h2.5v2.7h-2.5zM126.8 554.9h2.5v2.7h-2.5zM131.5 554.9h4.9v2.7h-4.9zM148.1 554.9h2.5v2.7h-2.5zM152.8 554.9h2.5v2.7h-2.5zM176.4 554.9h7.2v2.7h-7.2zM195.3 554.9h2.5v2.7h-2.5zM211.9 554.9h7.2v2.7h-7.2zM233.1 554.9h2.5v2.7h-2.5zM237.9 554.9h2.5v2.7h-2.5zM46.5 557.4h4.9v2.7h-4.9zM72.5 557.4h2.5v2.7h-2.5zM86.7 557.4h2.5v2.7h-2.5zM91.4 557.4h2.5v2.7h-2.5zM96.1 557.4h14.3v2.7h-14.3zM117.4 557.4h2.5v2.7h-2.5zM167 557.4h2.5v2.7h-2.5zM178.8 557.4h9.6v2.7h-9.6zM207.1 557.4h4.9v2.7h-4.9zM216.6 557.4h2.5v2.7h-2.5zM221.3 557.4h2.5v2.7h-2.5zM226.1 557.4h2.5v2.7h-2.5zM235.5 557.4h2.5v2.7h-2.5zM242.6 557.4h2.5v2.7h-2.5zM46.5 560h2.5v2.7h-2.5zM51.2 560h9.6v2.7h-9.6zM65.4 560h2.5v2.7h-2.5zM72.5 560h2.5v2.7h-2.5zM77.2 560h2.5v2.7h-2.5zM81.9 560h7.2v2.7h-7.2zM93.8 560h2.5v2.7h-2.5zM98.5 560h4.9v2.7h-4.9zM105.6 560h4.9v2.7h-4.9zM119.7 560h4.9v2.7h-4.9zM126.8 560h2.5v2.7h-2.5zM143.4 560h2.5v2.7h-2.5zM155.2 560h2.5v2.7h-2.5zM188.2 560h4.9v2.7h-4.9zM200.1 560h2.5v2.7h-2.5zM209.5 560h2.5v2.7h-2.5zM214.2 560h2.5v2.7h-2.5zM219 560h2.5v2.7h-2.5zM223.7 560h2.5v2.7h-2.5zM230.8 560h2.5v2.7h-2.5zM240.2 560h2.5v2.7h-2.5zM48.9 562.6h2.5v2.7h-2.5zM53.6 562.6h7.2v2.7h-7.2zM74.8 562.6h9.6v2.7h-9.6zM89 562.6h4.9v2.7h-4.9zM96.1 562.6h2.5v2.7h-2.5zM100.8 562.6h4.9v2.7h-4.9zM107.9 562.6h7.2v2.7h-7.2zM117.4 562.6h2.5v2.7h-2.5zM164.6 562.6h2.5v2.7h-2.5zM204.8 562.6h2.5v2.7h-2.5zM209.5 562.6h2.5v2.7h-2.5zM214.2 562.6h4.9v2.7h-4.9zM226.1 562.6h2.5v2.7h-2.5zM240.2 562.6h2.5v2.7h-2.5zM249.7 562.6h2.5v2.7h-2.5zM48.9 565.2h16.7v2.7h-16.7zM70.1 565.2h2.5v2.7h-2.5zM74.8 565.2h4.9v2.7h-4.9zM84.3 565.2h7.2v2.7h-7.2zM93.8 565.2h4.9v2.7h-4.9zM100.8 565.2h4.9v2.7h-4.9zM131.5 565.2h2.5v2.7h-2.5zM171.7 565.2h2.5v2.7h-2.5zM188.2 565.2h2.5v2.7h-2.5zM200.1 565.2h9.6v2.7h-9.6zM226.1 565.2h2.5v2.7h-2.5zM235.5 565.2h2.5v2.7h-2.5zM240.2 565.2h2.5v2.7h-2.5zM46.5 567.8h7.2v2.7h-7.2zM58.3 567.8h4.9v2.7h-4.9zM65.4 567.8h2.5v2.7h-2.5zM70.1 567.8h7.2v2.7h-7.2zM81.9 567.8h2.5v2.7h-2.5zM89 567.8h4.9v2.7h-4.9zM122.1 567.8h2.5v2.7h-2.5zM126.8 567.8h2.5v2.7h-2.5zM174.1 567.8h2.5v2.7h-2.5zM193 567.8h2.5v2.7h-2.5zM197.7 567.8h4.9v2.7h-4.9zM204.8 567.8h2.5v2.7h-2.5zM209.5 567.8h2.5v2.7h-2.5zM221.3 567.8h2.5v2.7h-2.5zM249.7 567.8h2.5v2.7h-2.5zM280.4 567.8h2.5v2.7h-2.5zM46.5 570.4h4.9v2.7h-4.9zM55.9 570.4h4.9v2.7h-4.9zM67.8 570.4h2.5v2.7h-2.5zM72.5 570.4h4.9v2.7h-4.9zM89 570.4h2.5v2.7h-2.5zM93.8 570.4h4.9v2.7h-4.9zM143.4 570.4h2.5v2.7h-2.5zM185.9 570.4h4.9v2.7h-4.9zM195.3 570.4h2.5v2.7h-2.5zM200.1 570.4h2.5v2.7h-2.5zM211.9 570.4h2.5v2.7h-2.5zM219 570.4h4.9v2.7h-4.9zM245 570.4h2.5v2.7h-2.5zM252 570.4h7.2v2.7h-7.2zM51.2 572.9h2.5v2.7h-2.5zM60.7 572.9h2.5v2.7h-2.5zM70.1 572.9h4.9v2.7h-4.9zM129.2 572.9h2.5v2.7h-2.5zM148.1 572.9h4.9v2.7h-4.9zM164.6 572.9h2.5v2.7h-2.5zM193 572.9h2.5v2.7h-2.5zM204.8 572.9h2.5v2.7h-2.5zM209.5 572.9h2.5v2.7h-2.5zM254.4 572.9h7.2v2.7h-7.2zM268.6 572.9h2.5v2.7h-2.5zM46.5 575.5h4.9v2.7h-4.9zM53.6 575.5h2.5v2.7h-2.5zM67.8 575.5h2.5v2.7h-2.5zM86.7 575.5h2.5v2.7h-2.5zM96.1 575.5h2.5v2.7h-2.5zM117.4 575.5h2.5v2.7h-2.5zM122.1 575.5h2.5v2.7h-2.5zM129.2 575.5h2.5v2.7h-2.5zM133.9 575.5h2.5v2.7h-2.5zM138.6 575.5h2.5v2.7h-2.5zM155.2 575.5h2.5v2.7h-2.5zM159.9 575.5h2.5v2.7h-2.5zM169.4 575.5h2.5v2.7h-2.5zM176.4 575.5h2.5v2.7h-2.5zM183.5 575.5h2.5v2.7h-2.5zM193 575.5h2.5v2.7h-2.5zM209.5 575.5h2.5v2.7h-2.5zM263.8 575.5h2.5v2.7h-2.5zM70.1 578.1h2.5v2.7h-2.5zM81.9 578.1h4.9v2.7h-4.9zM131.5 578.1h2.5v2.7h-2.5zM136.3 578.1h2.5v2.7h-2.5zM143.4 578.1h2.5v2.7h-2.5zM157.5 578.1h2.5v2.7h-2.5zM167 578.1h2.5v2.7h-2.5zM183.5 578.1h2.5v2.7h-2.5zM195.3 578.1h2.5v2.7h-2.5zM211.9 578.1h2.5v2.7h-2.5zM216.6 578.1h7.2v2.7h-7.2zM235.5 578.1h2.5v2.7h-2.5zM256.8 578.1h2.5v2.7h-2.5zM263.8 578.1h2.5v2.7h-2.5zM268.6 578.1h2.5v2.7h-2.5zM273.3 578.1h2.5v2.7h-2.5zM289.8 578.1h2.5v2.7h-2.5zM63 580.7h2.5v2.7h-2.5zM72.5 580.7h2.5v2.7h-2.5zM77.2 580.7h2.5v2.7h-2.5zM122.1 580.7h2.5v2.7h-2.5zM133.9 580.7h4.9v2.7h-4.9zM148.1 580.7h2.5v2.7h-2.5zM169.4 580.7h4.9v2.7h-4.9zM178.8 580.7h2.5v2.7h-2.5zM188.2 580.7h2.5v2.7h-2.5zM193 580.7h2.5v2.7h-2.5zM226.1 580.7h4.9v2.7h-4.9zM240.2 580.7h2.5v2.7h-2.5zM268.6 580.7h2.5v2.7h-2.5zM48.9 583.3h2.5v2.7h-2.5zM55.9 583.3h2.5v2.7h-2.5zM84.3 583.3h2.5v2.7h-2.5zM110.3 583.3h4.9v2.7h-4.9zM119.7 583.3h2.5v2.7h-2.5zM141 583.3h2.5v2.7h-2.5zM164.6 583.3h2.5v2.7h-2.5zM171.7 583.3h2.5v2.7h-2.5zM178.8 583.3h4.9v2.7h-4.9zM193 583.3h2.5v2.7h-2.5zM202.4 583.3h2.5v2.7h-2.5zM216.6 583.3h2.5v2.7h-2.5zM278 583.3h2.5v2.7h-2.5zM58.3 585.9h4.9v2.7h-4.9zM74.8 585.9h2.5v2.7h-2.5zM141 585.9h2.5v2.7h-2.5zM152.8 585.9h2.5v2.7h-2.5zM157.5 585.9h2.5v2.7h-2.5zM178.8 585.9h2.5v2.7h-2.5zM183.5 585.9h2.5v2.7h-2.5zM188.2 585.9h2.5v2.7h-2.5zM195.3 585.9h2.5v2.7h-2.5zM207.1 585.9h2.5v2.7h-2.5zM211.9 585.9h2.5v2.7h-2.5zM219 585.9h2.5v2.7h-2.5zM223.7 585.9h2.5v2.7h-2.5zM230.8 585.9h2.5v2.7h-2.5zM46.5 588.4h2.5v2.7h-2.5zM55.9 588.4h2.5v2.7h-2.5zM86.7 588.4h2.5v2.7h-2.5zM91.4 588.4h2.5v2.7h-2.5zM115 588.4h2.5v2.7h-2.5zM131.5 588.4h2.5v2.7h-2.5zM176.4 588.4h2.5v2.7h-2.5zM273.3 588.4h2.5v2.7h-2.5zM287.5 588.4h2.5v2.7h-2.5zM46.5 591h4.9v2.7h-4.9zM53.6 591h2.5v2.7h-2.5zM65.4 591h2.5v2.7h-2.5zM86.7 591h2.5v2.7h-2.5zM98.5 591h2.5v2.7h-2.5zM119.7 591h4.9v2.7h-4.9zM133.9 591h2.5v2.7h-2.5zM143.4 591h2.5v2.7h-2.5zM178.8 591h2.5v2.7h-2.5zM183.5 591h4.9v2.7h-4.9zM195.3 591h4.9v2.7h-4.9zM214.2 591h2.5v2.7h-2.5zM237.9 591h2.5v2.7h-2.5zM282.7 591h7.2v2.7h-7.2zM48.9 593.6h2.5v2.7h-2.5zM53.6 593.6h2.5v2.7h-2.5zM58.3 593.6h2.5v2.7h-2.5zM72.5 593.6h2.5v2.7h-2.5zM81.9 593.6h2.5v2.7h-2.5zM103.2 593.6h2.5v2.7h-2.5zM107.9 593.6h2.5v2.7h-2.5zM122.1 593.6h7.2v2.7h-7.2zM133.9 593.6h2.5v2.7h-2.5zM164.6 593.6h2.5v2.7h-2.5zM185.9 593.6h7.2v2.7h-7.2zM207.1 593.6h2.5v2.7h-2.5zM221.3 593.6h2.5v2.7h-2.5zM226.1 593.6h2.5v2.7h-2.5zM249.7 593.6h2.5v2.7h-2.5zM275.7 593.6h2.5v2.7h-2.5zM282.7 593.6h7.2v2.7h-7.2zM46.5 596.2h2.5v2.7h-2.5zM63 596.2h2.5v2.7h-2.5zM117.4 596.2h4.9v2.7h-4.9zM129.2 596.2h2.5v2.7h-2.5zM181.2 596.2h9.6v2.7h-9.6zM193 596.2h2.5v2.7h-2.5zM200.1 596.2h2.5v2.7h-2.5zM223.7 596.2h2.5v2.7h-2.5zM233.1 596.2h2.5v2.7h-2.5zM237.9 596.2h2.5v2.7h-2.5zM268.6 596.2h2.5v2.7h-2.5zM275.7 596.2h2.5v2.7h-2.5zM282.7 596.2h9.6v2.7h-9.6zM48.9 598.8h2.5v2.7h-2.5zM70.1 598.8h2.5v2.7h-2.5zM98.5 598.8h2.5v2.7h-2.5zM159.9 598.8h4.9v2.7h-4.9zM176.4 598.8h2.5v2.7h-2.5zM183.5 598.8h4.9v2.7h-4.9zM190.6 598.8h2.5v2.7h-2.5zM230.8 598.8h2.5v2.7h-2.5zM280.4 598.8h4.9v2.7h-4.9zM79.6 601.4h4.9v2.7h-4.9zM117.4 601.4h4.9v2.7h-4.9zM138.6 601.4h2.5v2.7h-2.5zM148.1 601.4h2.5v2.7h-2.5zM164.6 601.4h2.5v2.7h-2.5zM169.4 601.4h2.5v2.7h-2.5zM221.3 601.4h2.5v2.7h-2.5zM226.1 601.4h4.9v2.7h-4.9zM233.1 601.4h2.5v2.7h-2.5zM245 601.4h2.5v2.7h-2.5zM282.7 601.4h2.5v2.7h-2.5zM46.5 603.9h7.2v2.7h-7.2zM60.7 603.9h2.5v2.7h-2.5zM74.8 603.9h2.5v2.7h-2.5zM110.3 603.9h2.5v2.7h-2.5zM169.4 603.9h2.5v2.7h-2.5zM183.5 603.9h2.5v2.7h-2.5zM190.6 603.9h2.5v2.7h-2.5zM214.2 603.9h2.5v2.7h-2.5zM247.3 603.9h4.9v2.7h-4.9zM280.4 603.9h4.9v2.7h-4.9zM55.9 606.5h2.5v2.7h-2.5zM81.9 606.5h2.5v2.7h-2.5zM138.6 606.5h2.5v2.7h-2.5zM148.1 606.5h2.5v2.7h-2.5zM159.9 606.5h2.5v2.7h-2.5zM174.1 606.5h2.5v2.7h-2.5zM178.8 606.5h2.5v2.7h-2.5zM183.5 606.5h2.5v2.7h-2.5zM188.2 606.5h4.9v2.7h-4.9zM228.4 606.5h2.5v2.7h-2.5zM245 606.5h2.5v2.7h-2.5zM259.1 606.5h2.5v2.7h-2.5zM270.9 606.5h2.5v2.7h-2.5zM51.2 609.1h2.5v2.7h-2.5zM63 609.1h2.5v2.7h-2.5zM77.2 609.1h2.5v2.7h-2.5zM126.8 609.1h4.9v2.7h-4.9zM152.8 609.1h2.5v2.7h-2.5zM174.1 609.1h2.5v2.7h-2.5zM188.2 609.1h9.6v2.7h-9.6zM211.9 609.1h2.5v2.7h-2.5zM233.1 609.1h4.9v2.7h-4.9zM252 609.1h7.2v2.7h-7.2zM70.1 611.7h2.5v2.7h-2.5zM112.7 611.7h2.5v2.7h-2.5zM129.2 611.7h2.5v2.7h-2.5zM138.6 611.7h2.5v2.7h-2.5zM169.4 611.7h2.5v2.7h-2.5zM181.2 611.7h2.5v2.7h-2.5zM188.2 611.7h4.9v2.7h-4.9zM209.5 611.7h2.5v2.7h-2.5zM245 611.7h2.5v2.7h-2.5zM259.1 611.7h2.5v2.7h-2.5zM278 611.7h4.9v2.7h-4.9zM60.7 614.3h2.5v2.7h-2.5zM141 614.3h9.6v2.7h-9.6zM159.9 614.3h4.9v2.7h-4.9zM176.4 614.3h2.5v2.7h-2.5zM188.2 614.3h4.9v2.7h-4.9zM200.1 614.3h2.5v2.7h-2.5zM263.8 614.3h9.6v2.7h-9.6zM280.4 614.3h2.5v2.7h-2.5zM79.6 616.8h2.5v2.7h-2.5zM93.8 616.8h2.5v2.7h-2.5zM133.9 616.8h2.5v2.7h-2.5zM157.5 616.8h2.5v2.7h-2.5zM176.4 616.8h2.5v2.7h-2.5zM193 616.8h2.5v2.7h-2.5zM209.5 616.8h2.5v2.7h-2.5zM273.3 616.8h2.5v2.7h-2.5zM278 616.8h2.5v2.7h-2.5zM46.5 619.4h2.5v2.7h-2.5zM70.1 619.4h2.5v2.7h-2.5zM107.9 619.4h2.5v2.7h-2.5zM131.5 619.4h2.5v2.7h-2.5zM148.1 619.4h2.5v2.7h-2.5zM181.2 619.4h2.5v2.7h-2.5zM185.9 619.4h2.5v2.7h-2.5zM193 619.4h2.5v2.7h-2.5zM202.4 619.4h2.5v2.7h-2.5zM252 619.4h2.5v2.7h-2.5zM261.5 619.4h4.9v2.7h-4.9zM270.9 619.4h4.9v2.7h-4.9zM278 619.4h2.5v2.7h-2.5zM46.5 622h2.5v2.7h-2.5zM122.1 622h2.5v2.7h-2.5zM145.7 622h2.5v2.7h-2.5zM159.9 622h2.5v2.7h-2.5zM181.2 622h2.5v2.7h-2.5zM249.7 622h4.9v2.7h-4.9zM263.8 622h14.3v2.7h-14.3zM58.3 624.6h2.5v2.7h-2.5zM81.9 624.6h2.5v2.7h-2.5zM129.2 624.6h2.5v2.7h-2.5zM178.8 624.6h4.9v2.7h-4.9zM193 624.6h2.5v2.7h-2.5zM270.9 624.6h2.5v2.7h-2.5zM48.9 627.2h2.5v2.7h-2.5zM60.7 627.2h2.5v2.7h-2.5zM67.8 627.2h2.5v2.7h-2.5zM110.3 627.2h2.5v2.7h-2.5zM157.5 627.2h2.5v2.7h-2.5zM167 627.2h2.5v2.7h-2.5zM171.7 627.2h7.2v2.7h-7.2zM181.2 627.2h2.5v2.7h-2.5zM204.8 627.2h2.5v2.7h-2.5zM214.2 627.2h2.5v2.7h-2.5zM270.9 627.2h2.5v2.7h-2.5zM91.4 629.8h2.5v2.7h-2.5zM150.4 629.8h2.5v2.7h-2.5zM164.6 629.8h9.6v2.7h-9.6zM193 629.8h2.5v2.7h-2.5zM207.1 629.8h2.5v2.7h-2.5zM216.6 629.8h2.5v2.7h-2.5zM270.9 629.8h2.5v2.7h-2.5zM58.3 632.3h2.5v2.7h-2.5zM70.1 632.3h2.5v2.7h-2.5zM86.7 632.3h4.9v2.7h-4.9zM96.1 632.3h2.5v2.7h-2.5zM103.2 632.3h2.5v2.7h-2.5zM152.8 632.3h2.5v2.7h-2.5zM162.3 632.3h2.5v2.7h-2.5zM171.7 632.3h2.5v2.7h-2.5zM178.8 632.3h2.5v2.7h-2.5zM261.5 632.3h2.5v2.7h-2.5zM60.7 634.9h2.5v2.7h-2.5zM124.5 634.9h2.5v2.7h-2.5zM159.9 634.9h2.5v2.7h-2.5zM171.7 634.9h2.5v2.7h-2.5zM176.4 634.9h7.2v2.7h-7.2zM209.5 634.9h2.5v2.7h-2.5zM223.7 634.9h2.5v2.7h-2.5zM259.1 634.9h4.9v2.7h-4.9zM266.2 634.9h4.9v2.7h-4.9zM63 637.5h2.5v2.7h-2.5zM89 637.5h2.5v2.7h-2.5zM93.8 637.5h2.5v2.7h-2.5zM148.1 637.5h2.5v2.7h-2.5zM159.9 637.5h4.9v2.7h-4.9zM228.4 637.5h2.5v2.7h-2.5zM254.4 637.5h4.9v2.7h-4.9zM261.5 637.5h4.9v2.7h-4.9zM60.7 640.1h2.5v2.7h-2.5zM65.4 640.1h2.5v2.7h-2.5zM77.2 640.1h2.5v2.7h-2.5zM81.9 640.1h2.5v2.7h-2.5zM117.4 640.1h2.5v2.7h-2.5zM122.1 640.1h2.5v2.7h-2.5zM145.7 640.1h4.9v2.7h-4.9zM152.8 640.1h2.5v2.7h-2.5zM162.3 640.1h2.5v2.7h-2.5zM171.7 640.1h2.5v2.7h-2.5zM185.9 640.1h2.5v2.7h-2.5zM256.8 640.1h4.9v2.7h-4.9zM141 642.7h2.5v2.7h-2.5zM150.4 642.7h2.5v2.7h-2.5zM159.9 642.7h2.5v2.7h-2.5zM167 642.7h4.9v2.7h-4.9zM188.2 642.7h2.5v2.7h-2.5zM202.4 642.7h4.9v2.7h-4.9zM219 642.7h2.5v2.7h-2.5zM223.7 642.7h2.5v2.7h-2.5zM256.8 642.7h2.5v2.7h-2.5zM67.8 645.2h2.5v2.7h-2.5zM119.7 645.2h2.5v2.7h-2.5zM141 645.2h2.5v2.7h-2.5zM148.1 645.2h2.5v2.7h-2.5zM157.5 645.2h2.5v2.7h-2.5zM164.6 645.2h4.9v2.7h-4.9zM176.4 645.2h4.9v2.7h-4.9zM193 645.2h2.5v2.7h-2.5zM263.8 645.2h2.5v2.7h-2.5zM115 647.8h2.5v2.7h-2.5zM138.6 647.8h4.9v2.7h-4.9zM150.4 647.8h2.5v2.7h-2.5zM171.7 647.8h7.2v2.7h-7.2zM209.5 647.8h2.5v2.7h-2.5zM214.2 647.8h2.5v2.7h-2.5zM221.3 647.8h2.5v2.7h-2.5zM242.6 647.8h2.5v2.7h-2.5zM261.5 647.8h2.5v2.7h-2.5zM266.2 647.8h2.5v2.7h-2.5zM60.7 650.4h2.5v2.7h-2.5zM72.5 650.4h2.5v2.7h-2.5zM115 650.4h2.5v2.7h-2.5zM129.2 650.4h2.5v2.7h-2.5zM138.6 650.4h4.9v2.7h-4.9zM155.2 650.4h2.5v2.7h-2.5zM162.3 650.4h2.5v2.7h-2.5zM181.2 650.4h4.9v2.7h-4.9zM188.2 650.4h2.5v2.7h-2.5zM235.5 650.4h2.5v2.7h-2.5zM247.3 650.4h2.5v2.7h-2.5zM74.8 653h2.5v2.7h-2.5zM86.7 653h2.5v2.7h-2.5zM98.5 653h2.5v2.7h-2.5zM117.4 653h4.9v2.7h-4.9zM129.2 653h7.2v2.7h-7.2zM138.6 653h4.9v2.7h-4.9zM162.3 653h2.5v2.7h-2.5zM204.8 653h2.5v2.7h-2.5zM230.8 653h2.5v2.7h-2.5zM249.7 653h2.5v2.7h-2.5zM254.4 653h2.5v2.7h-2.5zM259.1 653h7.2v2.7h-7.2zM46.5 655.5h2.5v2.7h-2.5zM53.6 655.5h2.5v2.7h-2.5zM58.3 655.5h2.5v2.7h-2.5zM67.8 655.5h2.5v2.7h-2.5zM141 655.5h2.5v2.7h-2.5zM148.1 655.5h2.5v2.7h-2.5zM152.8 655.5h2.5v2.7h-2.5zM164.6 655.5h2.5v2.7h-2.5zM169.4 655.5h2.5v2.7h-2.5zM176.4 655.5h4.9v2.7h-4.9zM259.1 655.5h4.9v2.7h-4.9zM46.5 658.1h2.5v2.7h-2.5zM53.6 658.1h2.5v2.7h-2.5zM129.2 658.1h2.5v2.7h-2.5zM133.9 658.1h7.2v2.7h-7.2zM167 658.1h2.5v2.7h-2.5zM174.1 658.1h2.5v2.7h-2.5zM185.9 658.1h2.5v2.7h-2.5zM190.6 658.1h2.5v2.7h-2.5zM247.3 658.1h2.5v2.7h-2.5zM254.4 658.1h7.2v2.7h-7.2zM60.7 660.7h2.5v2.7h-2.5zM72.5 660.7h2.5v2.7h-2.5zM119.7 660.7h2.5v2.7h-2.5zM129.2 660.7h9.6v2.7h-9.6zM150.4 660.7h4.9v2.7h-4.9zM202.4 660.7h2.5v2.7h-2.5zM245 660.7h2.5v2.7h-2.5zM252 660.7h2.5v2.7h-2.5zM259.1 660.7h4.9v2.7h-4.9zM46.5 663.3h2.5v2.7h-2.5zM86.7 663.3h2.5v2.7h-2.5zM110.3 663.3h2.5v2.7h-2.5zM129.2 663.3h4.9v2.7h-4.9zM171.7 663.3h2.5v2.7h-2.5zM178.8 663.3h4.9v2.7h-4.9zM216.6 663.3h2.5v2.7h-2.5zM252 663.3h2.5v2.7h-2.5zM259.1 663.3h4.9v2.7h-4.9zM65.4 665.9h2.5v2.7h-2.5zM70.1 665.9h2.5v2.7h-2.5zM98.5 665.9h2.5v2.7h-2.5zM150.4 665.9h2.5v2.7h-2.5zM155.2 665.9h2.5v2.7h-2.5zM162.3 665.9h2.5v2.7h-2.5zM261.5 665.9h2.5v2.7h-2.5zM53.6 668.4h2.5v2.7h-2.5zM58.3 668.4h4.9v2.7h-4.9zM133.9 668.4h2.5v2.7h-2.5zM176.4 668.4h2.5v2.7h-2.5zM46.5 671h2.5v2.7h-2.5zM65.4 671h4.9v2.7h-4.9zM79.6 671h2.5v2.7h-2.5zM89 671h2.5v2.7h-2.5zM122.1 671h2.5v2.7h-2.5zM129.2 671h4.9v2.7h-4.9zM138.6 671h2.5v2.7h-2.5zM152.8 671h2.5v2.7h-2.5zM162.3 671h4.9v2.7h-4.9zM249.7 671h2.5v2.7h-2.5zM256.8 671h4.9v2.7h-4.9zM53.6 673.6h2.5v2.7h-2.5zM58.3 673.6h7.2v2.7h-7.2zM70.1 673.6h9.6v2.7h-9.6zM81.9 673.6h2.5v2.7h-2.5zM89 673.6h2.5v2.7h-2.5zM93.8 673.6h2.5v2.7h-2.5zM115 673.6h2.5v2.7h-2.5zM141 673.6h2.5v2.7h-2.5zM157.5 673.6h2.5v2.7h-2.5zM167 673.6h2.5v2.7h-2.5zM171.7 673.6h2.5v2.7h-2.5zM226.1 673.6h2.5v2.7h-2.5zM247.3 673.6h2.5v2.7h-2.5zM252 673.6h4.9v2.7h-4.9zM46.5 676.2h2.5v2.7h-2.5zM93.8 676.2h4.9v2.7h-4.9zM117.4 676.2h2.5v2.7h-2.5zM148.1 676.2h2.5v2.7h-2.5zM157.5 676.2h4.9v2.7h-4.9zM219 676.2h2.5v2.7h-2.5zM252 676.2h2.5v2.7h-2.5zM256.8 676.2h2.5v2.7h-2.5zM46.5 678.7h2.5v2.7h-2.5zM51.2 678.7h4.9v2.7h-4.9zM72.5 678.7h2.5v2.7h-2.5zM79.6 678.7h7.2v2.7h-7.2zM89 678.7h2.5v2.7h-2.5zM93.8 678.7h2.5v2.7h-2.5zM110.3 678.7h2.5v2.7h-2.5zM115 678.7h4.9v2.7h-4.9zM131.5 678.7h2.5v2.7h-2.5zM159.9 678.7h2.5v2.7h-2.5zM219 678.7h2.5v2.7h-2.5zM48.9 681.3h2.5v2.7h-2.5zM67.8 681.3h2.5v2.7h-2.5zM89 681.3h2.5v2.7h-2.5zM93.8 681.3h2.5v2.7h-2.5zM103.2 681.3h4.9v2.7h-4.9zM115 681.3h2.5v2.7h-2.5zM145.7 681.3h2.5v2.7h-2.5zM155.2 681.3h2.5v2.7h-2.5zM249.7 681.3h2.5v2.7h-2.5zM60.7 683.9h2.5v2.7h-2.5zM65.4 683.9h2.5v2.7h-2.5zM72.5 683.9h2.5v2.7h-2.5zM86.7 683.9h2.5v2.7h-2.5zM96.1 683.9h4.9v2.7h-4.9zM115 683.9h2.5v2.7h-2.5zM138.6 683.9h2.5v2.7h-2.5zM247.3 683.9h2.5v2.7h-2.5zM252 683.9h2.5v2.7h-2.5zM79.6 686.5h2.5v2.7h-2.5zM84.3 686.5h7.2v2.7h-7.2zM103.2 686.5h2.5v2.7h-2.5zM124.5 686.5h2.5v2.7h-2.5zM141 686.5h2.5v2.7h-2.5zM242.6 686.5h2.5v2.7h-2.5zM48.9 689.1h2.5v2.7h-2.5zM79.6 689.1h2.5v2.7h-2.5zM84.3 689.1h2.5v2.7h-2.5zM89 689.1h14.3v2.7h-14.3zM115 689.1h2.5v2.7h-2.5zM136.3 689.1h4.9v2.7h-4.9zM143.4 689.1h4.9v2.7h-4.9zM164.6 689.1h2.5v2.7h-2.5zM214.2 689.1h2.5v2.7h-2.5zM247.3 689.1h2.5v2.7h-2.5zM65.4 691.6h2.5v2.7h-2.5zM74.8 691.6h4.9v2.7h-4.9zM81.9 691.6h2.5v2.7h-2.5zM91.4 691.6h2.5v2.7h-2.5zM96.1 691.6h2.5v2.7h-2.5zM100.8 691.6h4.9v2.7h-4.9zM117.4 691.6h2.5v2.7h-2.5zM133.9 691.6h2.5v2.7h-2.5zM162.3 691.6h2.5v2.7h-2.5zM209.5 691.6h2.5v2.7h-2.5zM228.4 691.6h2.5v2.7h-2.5zM48.9 694.2h2.5v2.7h-2.5zM60.7 694.2h7.2v2.7h-7.2zM70.1 694.2h2.5v2.7h-2.5zM74.8 694.2h4.9v2.7h-4.9zM93.8 694.2h2.5v2.7h-2.5zM110.3 694.2h2.5v2.7h-2.5zM126.8 694.2h2.5v2.7h-2.5zM133.9 694.2h2.5v2.7h-2.5zM143.4 694.2h4.9v2.7h-4.9zM157.5 694.2h2.5v2.7h-2.5zM162.3 694.2h2.5v2.7h-2.5zM174.1 694.2h2.5v2.7h-2.5zM178.8 694.2h2.5v2.7h-2.5zM188.2 694.2h2.5v2.7h-2.5zM221.3 694.2h2.5v2.7h-2.5zM235.5 694.2h7.2v2.7h-7.2zM48.9 696.8h2.5v2.7h-2.5zM60.7 696.8h4.9v2.7h-4.9zM67.8 696.8h2.5v2.7h-2.5zM84.3 696.8h7.2v2.7h-7.2zM96.1 696.8h4.9v2.7h-4.9zM103.2 696.8h4.9v2.7h-4.9zM141 696.8h2.5v2.7h-2.5zM152.8 696.8h2.5v2.7h-2.5zM178.8 696.8h2.5v2.7h-2.5zM207.1 696.8h2.5v2.7h-2.5zM216.6 696.8h2.5v2.7h-2.5zM235.5 696.8h4.9v2.7h-4.9zM46.5 699.4h4.9v2.7h-4.9zM84.3 699.4h2.5v2.7h-2.5zM89 699.4h2.5v2.7h-2.5zM93.8 699.4h4.9v2.7h-4.9zM100.8 699.4h2.5v2.7h-2.5zM155.2 699.4h2.5v2.7h-2.5zM171.7 699.4h2.5v2.7h-2.5zM209.5 699.4h2.5v2.7h-2.5zM230.8 699.4h2.5v2.7h-2.5zM48.9 701.9h2.5v2.7h-2.5zM70.1 701.9h2.5v2.7h-2.5zM79.6 701.9h2.5v2.7h-2.5zM86.7 701.9h2.5v2.7h-2.5zM110.3 701.9h4.9v2.7h-4.9zM150.4 701.9h4.9v2.7h-4.9zM162.3 701.9h2.5v2.7h-2.5zM167 701.9h2.5v2.7h-2.5zM176.4 701.9h2.5v2.7h-2.5zM183.5 701.9h2.5v2.7h-2.5zM195.3 701.9h2.5v2.7h-2.5zM230.8 701.9h2.5v2.7h-2.5zM46.5 704.5h7.2v2.7h-7.2zM55.9 704.5h2.5v2.7h-2.5zM67.8 704.5h7.2v2.7h-7.2zM84.3 704.5h2.5v2.7h-2.5zM112.7 704.5h2.5v2.7h-2.5zM122.1 704.5h2.5v2.7h-2.5zM129.2 704.5h2.5v2.7h-2.5zM138.6 704.5h4.9v2.7h-4.9zM148.1 704.5h2.5v2.7h-2.5zM183.5 704.5h4.9v2.7h-4.9zM211.9 704.5h2.5v2.7h-2.5zM226.1 704.5h4.9v2.7h-4.9zM48.9 707.1h2.5v2.7h-2.5zM63 707.1h2.5v2.7h-2.5zM74.8 707.1h2.5v2.7h-2.5zM96.1 707.1h2.5v2.7h-2.5zM124.5 707.1h2.5v2.7h-2.5zM136.3 707.1h2.5v2.7h-2.5zM145.7 707.1h4.9v2.7h-4.9zM169.4 707.1h4.9v2.7h-4.9zM176.4 707.1h9.6v2.7h-9.6zM60.7 709.7h2.5v2.7h-2.5zM65.4 709.7h2.5v2.7h-2.5zM74.8 709.7h2.5v2.7h-2.5zM100.8 709.7h2.5v2.7h-2.5zM115 709.7h2.5v2.7h-2.5zM138.6 709.7h2.5v2.7h-2.5zM159.9 709.7h2.5v2.7h-2.5zM164.6 709.7h2.5v2.7h-2.5zM200.1 709.7h2.5v2.7h-2.5zM216.6 709.7h2.5v2.7h-2.5zM51.2 712.2h2.5v2.7h-2.5zM58.3 712.2h4.9v2.7h-4.9zM65.4 712.2h2.5v2.7h-2.5zM79.6 712.2h4.9v2.7h-4.9zM93.8 712.2h2.5v2.7h-2.5zM98.5 712.2h2.5v2.7h-2.5zM110.3 712.2h2.5v2.7h-2.5zM167 712.2h2.5v2.7h-2.5zM185.9 712.2h4.9v2.7h-4.9zM193 712.2h2.5v2.7h-2.5zM197.7 712.2h2.5v2.7h-2.5zM209.5 712.2h7.2v2.7h-7.2zM46.5 714.8h2.5v2.7h-2.5zM58.3 714.8h2.5v2.7h-2.5zM65.4 714.8h2.5v2.7h-2.5zM70.1 714.8h4.9v2.7h-4.9zM79.6 714.8h2.5v2.7h-2.5zM86.7 714.8h2.5v2.7h-2.5zM96.1 714.8h2.5v2.7h-2.5zM138.6 714.8h2.5v2.7h-2.5zM167 714.8h2.5v2.7h-2.5zM174.1 714.8h2.5v2.7h-2.5zM183.5 714.8h2.5v2.7h-2.5zM219 714.8h2.5v2.7h-2.5zM55.9 717.4h2.5v2.7h-2.5zM60.7 717.4h2.5v2.7h-2.5zM86.7 717.4h2.5v2.7h-2.5zM131.5 717.4h4.9v2.7h-4.9zM167 717.4h2.5v2.7h-2.5zM178.8 717.4h2.5v2.7h-2.5zM183.5 717.4h2.5v2.7h-2.5zM200.1 717.4h2.5v2.7h-2.5zM221.3 717.4h2.5v2.7h-2.5zM46.5 720h2.5v2.7h-2.5zM55.9 720h2.5v2.7h-2.5zM65.4 720h2.5v2.7h-2.5zM86.7 720h2.5v2.7h-2.5zM98.5 720h2.5v2.7h-2.5zM112.7 720h2.5v2.7h-2.5zM119.7 720h2.5v2.7h-2.5zM143.4 720h2.5v2.7h-2.5zM148.1 720h2.5v2.7h-2.5zM159.9 720h2.5v2.7h-2.5zM178.8 720h2.5v2.7h-2.5zM60.7 722.5h2.5v2.7h-2.5zM65.4 722.5h2.5v2.7h-2.5zM110.3 722.5h2.5v2.7h-2.5zM115 722.5h2.5v2.7h-2.5zM124.5 722.5h2.5v2.7h-2.5zM136.3 722.5h2.5v2.7h-2.5zM152.8 722.5h2.5v2.7h-2.5zM162.3 722.5h2.5v2.7h-2.5zM174.1 722.5h2.5v2.7h-2.5zM188.2 722.5h2.5v2.7h-2.5zM219 722.5h2.5v2.7h-2.5zM230.8 722.5h2.5v2.7h-2.5zM46.5 725.1h2.5v2.7h-2.5zM74.8 725.1h4.9v2.7h-4.9zM91.4 725.1h2.5v2.7h-2.5zM122.1 725.1h2.5v2.7h-2.5zM145.7 725.1h2.5v2.7h-2.5zM162.3 725.1h2.5v2.7h-2.5zM195.3 725.1h2.5v2.7h-2.5zM204.8 725.1h2.5v2.7h-2.5zM223.7 725.1h2.5v2.7h-2.5zM48.9 727.7h4.9v2.7h-4.9zM55.9 727.7h2.5v2.7h-2.5zM79.6 727.7h4.9v2.7h-4.9zM105.6 727.7h2.5v2.7h-2.5zM136.3 727.7h2.5v2.7h-2.5zM145.7 727.7h4.9v2.7h-4.9zM152.8 727.7h2.5v2.7h-2.5zM157.5 727.7h2.5v2.7h-2.5zM169.4 727.7h2.5v2.7h-2.5zM216.6 727.7h2.5v2.7h-2.5zM221.3 727.7h2.5v2.7h-2.5zM60.7 730.3h2.5v2.7h-2.5zM65.4 730.3h2.5v2.7h-2.5zM93.8 730.3h2.5v2.7h-2.5zM115 730.3h2.5v2.7h-2.5zM148.1 730.3h2.5v2.7h-2.5zM152.8 730.3h4.9v2.7h-4.9zM214.2 730.3h4.9v2.7h-4.9zM65.4 732.8h2.5v2.7h-2.5zM79.6 732.8h2.5v2.7h-2.5zM93.8 732.8h2.5v2.7h-2.5zM115 732.8h2.5v2.7h-2.5zM141 732.8h2.5v2.7h-2.5zM174.1 732.8h2.5v2.7h-2.5zM181.2 732.8h2.5v2.7h-2.5zM188.2 732.8h2.5v2.7h-2.5zM216.6 732.8h2.5v2.7h-2.5zM221.3 732.8h2.5v2.7h-2.5z"/>
<path fill="#ffff64" d="M195.3 365.7h14.3v2.7h-14.3zM185.9 368.3h2.5v2.7h-2.5zM193 368.3h2.5v2.7h-2.5zM202.4 368.3h2.5v2.7h-2.5zM211.9 368.3h2.5v2.7h-2.5zM216.6 368.3h2.5v2.7h-2.5zM185.9 370.9h2.5v2.7h-2.5zM195.3 370.9h4.9v2.7h-4.9zM204.8 370.9h7.2v2.7h-7.2zM216.6 370.9h7.2v2.7h-7.2zM185.9 373.5h4.9v2.7h-4.9zM202.4 373.5h2.5v2.7h-2.5zM207.1 373.5h2.5v2.7h-2.5zM216.6 373.5h2.5v2.7h-2.5zM193 376.1h2.5v2.7h-2.5zM197.7 376.1h2.5v2.7h-2.5zM202.4 376.1h2.5v2.7h-2.5zM209.5 376.1h2.5v2.7h-2.5zM214.2 376.1h7.2v2.7h-7.2zM181.2 378.7h2.5v2.7h-2.5zM193 378.7h2.5v2.7h-2.5zM200.1 378.7h2.5v2.7h-2.5zM209.5 378.7h2.5v2.7h-2.5zM219 378.7h2.5v2.7h-2.5zM174.1 381.2h2.5v2.7h-2.5zM200.1 381.2h2.5v2.7h-2.5zM204.8 381.2h2.5v2.7h-2.5zM211.9 381.2h2.5v2.7h-2.5zM216.6 381.2h2.5v2.7h-2.5zM221.3 381.2h2.5v2.7h-2.5zM169.4 383.8h4.9v2.7h-4.9zM188.2 383.8h2.5v2.7h-2.5zM195.3 383.8h4.9v2.7h-4.9zM207.1 383.8h2.5v2.7h-2.5zM211.9 383.8h4.9v2.7h-4.9zM219 383.8h4.9v2.7h-4.9zM174.1 386.4h2.5v2.7h-2.5zM197.7 386.4h7.2v2.7h-7.2zM216.6 386.4h4.9v2.7h-4.9zM228.4 386.4h2.5v2.7h-2.5zM167 389h2.5v2.7h-2.5zM178.8 389h2.5v2.7h-2.5zM204.8 389h2.5v2.7h-2.5zM209.5 389h7.2v2.7h-7.2zM171.7 391.6h2.5v2.7h-2.5zM193 391.6h4.9v2.7h-4.9zM200.1 391.6h4.9v2.7h-4.9zM214.2 391.6h4.9v2.7h-4.9zM228.4 391.6h4.9v2.7h-4.9zM237.9 391.6h2.5v2.7h-2.5zM181.2 394.2h2.5v2.7h-2.5zM197.7 394.2h2.5v2.7h-2.5zM202.4 394.2h2.5v2.7h-2.5zM214.2 394.2h2.5v2.7h-2.5zM230.8 394.2h4.9v2.7h-4.9zM171.7 396.8h2.5v2.7h-2.5zM176.4 396.8h2.5v2.7h-2.5zM200.1 396.8h2.5v2.7h-2.5zM207.1 396.8h2.5v2.7h-2.5zM211.9 396.8h7.2v2.7h-7.2zM226.1 396.8h2.5v2.7h-2.5zM237.9 396.8h2.5v2.7h-2.5zM202.4 399.4h2.5v2.7h-2.5zM207.1 399.4h2.5v2.7h-2.5zM214.2 399.4h4.9v2.7h-4.9zM223.7 399.4h4.9v2.7h-4.9zM233.1 399.4h12v2.7h-12zM195.3 402h7.2v2.7h-7.2zM204.8 402h4.9v2.7h-4.9zM219 402h7.2v2.7h-7.2zM245 402h2.5v2.7h-2.5zM195.3 404.6h7.2v2.7h-7.2zM207.1 404.6h2.5v2.7h-2.5zM211.9 404.6h2.5v2.7h-2.5zM216.6 404.6h4.9v2.7h-4.9zM226.1 404.6h4.9v2.7h-4.9zM164.6 407.2h2.5v2.7h-2.5zM207.1 407.2h7.2v2.7h-7.2zM216.6 407.2h9.6v2.7h-9.6zM228.4 407.2h7.2v2.7h-7.2zM237.9 407.2h2.5v2.7h-2.5zM150.4 409.8h2.5v2.7h-2.5zM155.2 409.8h4.9v2.7h-4.9zM162.3 409.8h2.5v2.7h-2.5zM200.1 409.8h2.5v2.7h-2.5zM209.5 409.8h2.5v2.7h-2.5zM221.3 409.8h2.5v2.7h-2.5zM226.1 409.8h4.9v2.7h-4.9zM233.1 409.8h2.5v2.7h-2.5zM150.4 412.4h2.5v2.7h-2.5zM155.2 412.4h2.5v2.7h-2.5zM167 412.4h2.5v2.7h-2.5zM197.7 412.4h2.5v2.7h-2.5zM204.8 412.4h4.9v2.7h-4.9zM214.2 412.4h12v2.7h-12zM230.8 412.4h4.9v2.7h-4.9zM136.3 415h2.5v2.7h-2.5zM145.7 415h4.9v2.7h-4.9zM159.9 415h4.9v2.7h-4.9zM197.7 415h7.2v2.7h-7.2zM209.5 415h4.9v2.7h-4.9zM223.7 415h9.6v2.7h-9.6zM133.9 417.6h7.2v2.7h-7.2zM145.7 417.6h2.5v2.7h-2.5zM155.2 417.6h2.5v2.7h-2.5zM202.4 417.6h7.2v2.7h-7.2zM211.9 417.6h4.9v2.7h-4.9zM223.7 417.6h9.6v2.7h-9.6zM259.1 417.6h2.5v2.7h-2.5zM275.7 417.6h2.5v2.7h-2.5zM285.1 417.6h2.5v2.7h-2.5zM289.8 417.6h2.5v2.7h-2.5zM115 420.2h2.5v2.7h-2.5zM119.7 420.2h2.5v2.7h-2.5zM126.8 420.2h2.5v2.7h-2.5zM133.9 420.2h4.9v2.7h-4.9zM143.4 420.2h2.5v2.7h-2.5zM152.8 420.2h2.5v2.7h-2.5zM204.8 420.2h2.5v2.7h-2.5zM211.9 420.2h2.5v2.7h-2.5zM228.4 420.2h2.5v2.7h-2.5zM233.1 420.2h2.5v2.7h-2.5zM247.3 420.2h2.5v2.7h-2.5zM252 420.2h4.9v2.7h-4.9zM261.5 420.2h2.5v2.7h-2.5zM289.8 420.2h2.5v2.7h-2.5zM294.6 420.2h2.5v2.7h-2.5zM304 420.2h2.5v2.7h-2.5zM122.1 422.8h2.5v2.7h-2.5zM126.8 422.8h4.9v2.7h-4.9zM143.4 422.8h2.5v2.7h-2.5zM150.4 422.8h2.5v2.7h-2.5zM204.8 422.8h4.9v2.7h-4.9zM216.6 422.8h2.5v2.7h-2.5zM249.7 422.8h2.5v2.7h-2.5zM256.8 422.8h2.5v2.7h-2.5zM261.5 422.8h2.5v2.7h-2.5zM273.3 422.8h2.5v2.7h-2.5zM278 422.8h2.5v2.7h-2.5zM282.7 422.8h2.5v2.7h-2.5zM122.1 425.4h2.5v2.7h-2.5zM131.5 425.4h2.5v2.7h-2.5zM141 425.4h2.5v2.7h-2.5zM145.7 425.4h2.5v2.7h-2.5zM245 425.4h2.5v2.7h-2.5zM252 425.4h4.9v2.7h-4.9zM259.1 425.4h2.5v2.7h-2.5zM275.7 425.4h2.5v2.7h-2.5zM285.1 425.4h2.5v2.7h-2.5zM126.8 428h2.5v2.7h-2.5zM138.6 428h2.5v2.7h-2.5zM242.6 428h2.5v2.7h-2.5zM292.2 428h2.5v2.7h-2.5zM96.1 430.6h2.5v2.7h-2.5zM126.8 430.6h4.9v2.7h-4.9zM133.9 430.6h2.5v2.7h-2.5zM138.6 430.6h7.2v2.7h-7.2zM148.1 430.6h2.5v2.7h-2.5zM216.6 430.6h2.5v2.7h-2.5zM228.4 430.6h2.5v2.7h-2.5zM242.6 430.6h2.5v2.7h-2.5zM282.7 430.6h2.5v2.7h-2.5zM287.5 430.6h2.5v2.7h-2.5zM103.2 433.2h2.5v2.7h-2.5zM126.8 433.2h2.5v2.7h-2.5zM143.4 433.2h2.5v2.7h-2.5zM214.2 433.2h2.5v2.7h-2.5zM226.1 433.2h2.5v2.7h-2.5zM254.4 433.2h2.5v2.7h-2.5zM273.3 433.2h2.5v2.7h-2.5zM282.7 433.2h2.5v2.7h-2.5zM299.3 433.2h2.5v2.7h-2.5zM100.8 435.7h2.5v2.7h-2.5zM131.5 435.7h7.2v2.7h-7.2zM209.5 435.7h2.5v2.7h-2.5zM247.3 435.7h4.9v2.7h-4.9zM273.3 435.7h4.9v2.7h-4.9zM301.7 435.7h4.9v2.7h-4.9zM126.8 438.3h2.5v2.7h-2.5zM216.6 438.3h2.5v2.7h-2.5zM228.4 438.3h2.5v2.7h-2.5zM233.1 438.3h2.5v2.7h-2.5zM240.2 440.9h2.5v2.7h-2.5zM292.2 440.9h2.5v2.7h-2.5zM299.3 440.9h2.5v2.7h-2.5zM226.1 443.5h2.5v2.7h-2.5zM240.2 443.5h2.5v2.7h-2.5zM259.1 443.5h2.5v2.7h-2.5zM285.1 443.5h2.5v2.7h-2.5zM292.2 443.5h2.5v2.7h-2.5zM301.7 443.5h4.9v2.7h-4.9zM214.2 446.1h2.5v2.7h-2.5zM233.1 446.1h2.5v2.7h-2.5zM256.8 446.1h2.5v2.7h-2.5zM270.9 446.1h2.5v2.7h-2.5zM296.9 446.1h2.5v2.7h-2.5zM91.4 448.7h2.5v2.7h-2.5zM223.7 448.7h7.2v2.7h-7.2zM233.1 448.7h4.9v2.7h-4.9zM254.4 448.7h2.5v2.7h-2.5zM259.1 448.7h2.5v2.7h-2.5zM263.8 448.7h4.9v2.7h-4.9zM273.3 448.7h2.5v2.7h-2.5zM278 448.7h2.5v2.7h-2.5zM313.5 448.7h2.5v2.7h-2.5zM105.6 451.3h2.5v2.7h-2.5zM216.6 451.3h2.5v2.7h-2.5zM223.7 451.3h2.5v2.7h-2.5zM228.4 451.3h7.2v2.7h-7.2zM266.2 451.3h2.5v2.7h-2.5zM304 451.3h2.5v2.7h-2.5zM313.5 451.3h2.5v2.7h-2.5zM138.6 453.9h2.5v2.7h-2.5zM223.7 453.9h2.5v2.7h-2.5zM228.4 453.9h4.9v2.7h-4.9zM294.6 453.9h2.5v2.7h-2.5zM98.5 456.5h2.5v2.7h-2.5zM223.7 456.5h2.5v2.7h-2.5zM230.8 456.5h4.9v2.7h-4.9zM261.5 456.5h2.5v2.7h-2.5zM266.2 456.5h2.5v2.7h-2.5zM270.9 456.5h2.5v2.7h-2.5zM285.1 456.5h2.5v2.7h-2.5zM216.6 459.1h2.5v2.7h-2.5zM228.4 459.1h4.9v2.7h-4.9zM237.9 459.1h2.5v2.7h-2.5zM252 459.1h4.9v2.7h-4.9zM263.8 459.1h2.5v2.7h-2.5zM58.3 461.7h2.5v2.7h-2.5zM91.4 461.7h2.5v2.7h-2.5zM100.8 461.7h2.5v2.7h-2.5zM211.9 461.7h12v2.7h-12zM228.4 461.7h4.9v2.7h-4.9zM247.3 461.7h2.5v2.7h-2.5zM53.6 464.3h2.5v2.7h-2.5zM214.2 464.3h7.2v2.7h-7.2zM226.1 464.3h4.9v2.7h-4.9zM247.3 464.3h4.9v2.7h-4.9zM256.8 464.3h2.5v2.7h-2.5zM308.7 464.3h2.5v2.7h-2.5zM214.2 466.9h2.5v2.7h-2.5zM223.7 466.9h4.9v2.7h-4.9zM254.4 466.9h2.5v2.7h-2.5zM266.2 466.9h4.9v2.7h-4.9zM60.7 469.4h2.5v2.7h-2.5zM167 469.4h2.5v2.7h-2.5zM211.9 469.4h9.6v2.7h-9.6zM266.2 469.4h2.5v2.7h-2.5zM294.6 469.4h2.5v2.7h-2.5zM207.1 472h4.9v2.7h-4.9zM216.6 472h2.5v2.7h-2.5zM233.1 472h2.5v2.7h-2.5zM240.2 472h2.5v2.7h-2.5zM259.1 472h2.5v2.7h-2.5zM266.2 472h2.5v2.7h-2.5zM270.9 472h2.5v2.7h-2.5zM98.5 474.6h2.5v2.7h-2.5zM202.4 474.6h2.5v2.7h-2.5zM207.1 474.6h2.5v2.7h-2.5zM211.9 474.6h4.9v2.7h-4.9zM240.2 474.6h2.5v2.7h-2.5zM245 474.6h2.5v2.7h-2.5zM96.1 477.2h2.5v2.7h-2.5zM119.7 477.2h2.5v2.7h-2.5zM143.4 477.2h2.5v2.7h-2.5zM150.4 477.2h4.9v2.7h-4.9zM157.5 477.2h7.2v2.7h-7.2zM169.4 477.2h4.9v2.7h-4.9zM176.4 477.2h2.5v2.7h-2.5zM181.2 477.2h2.5v2.7h-2.5zM190.6 477.2h2.5v2.7h-2.5zM204.8 477.2h2.5v2.7h-2.5zM214.2 477.2h2.5v2.7h-2.5zM219 477.2h2.5v2.7h-2.5zM249.7 477.2h2.5v2.7h-2.5zM278 477.2h2.5v2.7h-2.5zM89 479.8h2.5v2.7h-2.5zM193 479.8h2.5v2.7h-2.5zM202.4 479.8h2.5v2.7h-2.5zM221.3 479.8h2.5v2.7h-2.5zM242.6 479.8h2.5v2.7h-2.5zM256.8 479.8h2.5v2.7h-2.5zM268.6 479.8h2.5v2.7h-2.5zM133.9 482.4h2.5v2.7h-2.5zM150.4 482.4h4.9v2.7h-4.9zM195.3 482.4h2.5v2.7h-2.5zM273.3 482.4h2.5v2.7h-2.5zM74.8 485h2.5v2.7h-2.5zM195.3 485h4.9v2.7h-4.9zM230.8 485h2.5v2.7h-2.5zM252 485h2.5v2.7h-2.5zM65.4 487.6h2.5v2.7h-2.5zM131.5 487.6h2.5v2.7h-2.5zM259.1 487.6h7.2v2.7h-7.2zM273.3 487.6h2.5v2.7h-2.5zM278 487.6h2.5v2.7h-2.5zM70.1 490.2h2.5v2.7h-2.5zM129.2 490.2h2.5v2.7h-2.5zM159.9 490.2h2.5v2.7h-2.5zM60.7 492.8h4.9v2.7h-4.9zM67.8 492.8h2.5v2.7h-2.5zM72.5 492.8h2.5v2.7h-2.5zM77.2 492.8h2.5v2.7h-2.5zM174.1 492.8h2.5v2.7h-2.5zM178.8 492.8h2.5v2.7h-2.5zM204.8 492.8h2.5v2.7h-2.5zM259.1 492.8h2.5v2.7h-2.5zM268.6 492.8h2.5v2.7h-2.5zM278 492.8h2.5v2.7h-2.5zM58.3 495.3h4.9v2.7h-4.9zM65.4 495.3h2.5v2.7h-2.5zM70.1 495.3h9.6v2.7h-9.6zM122.1 495.3h7.2v2.7h-7.2zM162.3 495.3h2.5v2.7h-2.5zM268.6 495.3h2.5v2.7h-2.5zM273.3 495.3h4.9v2.7h-4.9zM60.7 497.9h4.9v2.7h-4.9zM67.8 497.9h2.5v2.7h-2.5zM77.2 497.9h2.5v2.7h-2.5zM84.3 497.9h2.5v2.7h-2.5zM91.4 497.9h2.5v2.7h-2.5zM164.6 497.9h2.5v2.7h-2.5zM174.1 497.9h2.5v2.7h-2.5zM214.2 497.9h2.5v2.7h-2.5zM63 500.5h4.9v2.7h-4.9zM72.5 500.5h2.5v2.7h-2.5zM84.3 500.5h7.2v2.7h-7.2zM245 500.5h2.5v2.7h-2.5zM263.8 500.5h2.5v2.7h-2.5zM268.6 500.5h2.5v2.7h-2.5zM278 500.5h2.5v2.7h-2.5zM53.6 503.1h2.5v2.7h-2.5zM58.3 503.1h4.9v2.7h-4.9zM65.4 503.1h2.5v2.7h-2.5zM70.1 503.1h2.5v2.7h-2.5zM74.8 503.1h4.9v2.7h-4.9zM84.3 503.1h2.5v2.7h-2.5zM122.1 503.1h2.5v2.7h-2.5zM126.8 503.1h2.5v2.7h-2.5zM270.9 503.1h2.5v2.7h-2.5zM275.7 503.1h2.5v2.7h-2.5zM55.9 505.7h2.5v2.7h-2.5zM63 505.7h4.9v2.7h-4.9zM70.1 505.7h4.9v2.7h-4.9zM81.9 505.7h2.5v2.7h-2.5zM86.7 505.7h2.5v2.7h-2.5zM91.4 505.7h2.5v2.7h-2.5zM96.1 505.7h2.5v2.7h-2.5zM119.7 505.7h2.5v2.7h-2.5zM162.3 505.7h2.5v2.7h-2.5zM254.4 505.7h2.5v2.7h-2.5zM261.5 505.7h2.5v2.7h-2.5zM273.3 505.7h2.5v2.7h-2.5zM48.9 508.3h4.9v2.7h-4.9zM55.9 508.3h2.5v2.7h-2.5zM60.7 508.3h2.5v2.7h-2.5zM65.4 508.3h2.5v2.7h-2.5zM70.1 508.3h2.5v2.7h-2.5zM74.8 508.3h2.5v2.7h-2.5zM98.5 508.3h2.5v2.7h-2.5zM117.4 508.3h2.5v2.7h-2.5zM256.8 508.3h2.5v2.7h-2.5zM65.4 510.9h2.5v2.7h-2.5zM70.1 510.9h4.9v2.7h-4.9zM81.9 510.9h2.5v2.7h-2.5zM86.7 510.9h2.5v2.7h-2.5zM91.4 510.9h9.6v2.7h-9.6zM129.2 510.9h2.5v2.7h-2.5zM254.4 510.9h4.9v2.7h-4.9zM270.9 510.9h2.5v2.7h-2.5zM65.4 513.5h4.9v2.7h-4.9zM72.5 513.5h4.9v2.7h-4.9zM84.3 513.5h2.5v2.7h-2.5zM89 513.5h2.5v2.7h-2.5zM93.8 513.5h2.5v2.7h-2.5zM98.5 513.5h2.5v2.7h-2.5zM105.6 513.5h2.5v2.7h-2.5zM110.3 513.5h2.5v2.7h-2.5zM254.4 513.5h2.5v2.7h-2.5zM261.5 513.5h2.5v2.7h-2.5zM273.3 513.5h2.5v2.7h-2.5zM65.4 516.1h2.5v2.7h-2.5zM89 516.1h2.5v2.7h-2.5zM107.9 516.1h2.5v2.7h-2.5zM117.4 516.1h4.9v2.7h-4.9zM124.5 516.1h2.5v2.7h-2.5zM259.1 516.1h7.2v2.7h-7.2zM275.7 516.1h2.5v2.7h-2.5zM77.2 518.6h2.5v2.7h-2.5zM84.3 518.6h2.5v2.7h-2.5zM115 518.6h2.5v2.7h-2.5zM124.5 518.6h2.5v2.7h-2.5zM131.5 518.6h2.5v2.7h-2.5zM259.1 518.6h2.5v2.7h-2.5zM81.9 521.2h2.5v2.7h-2.5zM100.8 521.2h7.2v2.7h-7.2zM115 521.2h2.5v2.7h-2.5zM185.9 521.2h2.5v2.7h-2.5zM245 521.2h2.5v2.7h-2.5zM261.5 521.2h4.9v2.7h-4.9zM48.9 523.8h2.5v2.7h-2.5zM60.7 523.8h2.5v2.7h-2.5zM105.6 523.8h2.5v2.7h-2.5zM268.6 523.8h2.5v2.7h-2.5zM91.4 526.4h2.5v2.7h-2.5zM100.8 526.4h2.5v2.7h-2.5zM105.6 526.4h2.5v2.7h-2.5zM112.7 526.4h2.5v2.7h-2.5zM230.8 526.4h2.5v2.7h-2.5zM237.9 526.4h2.5v2.7h-2.5zM245 526.4h2.5v2.7h-2.5zM261.5 526.4h2.5v2.7h-2.5zM53.6 529h2.5v2.7h-2.5zM77.2 529h2.5v2.7h-2.5zM100.8 529h2.5v2.7h-2.5zM110.3 529h4.9v2.7h-4.9zM119.7 529h2.5v2.7h-2.5zM77.2 531.6h2.5v2.7h-2.5zM89 531.6h4.9v2.7h-4.9zM96.1 531.6h2.5v2.7h-2.5zM103.2 531.6h2.5v2.7h-2.5zM112.7 531.6h2.5v2.7h-2.5zM117.4 531.6h4.9v2.7h-4.9zM124.5 531.6h2.5v2.7h-2.5zM138.6 531.6h2.5v2.7h-2.5zM263.8 531.6h2.5v2.7h-2.5zM112.7 534.2h4.9v2.7h-4.9zM129.2 534.2h2.5v2.7h-2.5zM211.9 534.2h2.5v2.7h-2.5zM237.9 534.2h2.5v2.7h-2.5zM270.9 534.2h2.5v2.7h-2.5zM115 536.8h7.2v2.7h-7.2zM138.6 536.8h2.5v2.7h-2.5zM245 536.8h2.5v2.7h-2.5zM249.7 536.8h4.9v2.7h-4.9zM256.8 536.8h2.5v2.7h-2.5zM270.9 536.8h2.5v2.7h-2.5zM67.8 539.3h2.5v2.7h-2.5zM98.5 539.3h2.5v2.7h-2.5zM117.4 539.3h4.9v2.7h-4.9zM126.8 539.3h2.5v2.7h-2.5zM230.8 539.3h9.6v2.7h-9.6zM242.6 539.3h2.5v2.7h-2.5zM247.3 539.3h2.5v2.7h-2.5zM252 539.3h4.9v2.7h-4.9zM263.8 539.3h2.5v2.7h-2.5zM86.7 541.9h2.5v2.7h-2.5zM103.2 541.9h2.5v2.7h-2.5zM107.9 541.9h2.5v2.7h-2.5zM117.4 541.9h2.5v2.7h-2.5zM235.5 541.9h2.5v2.7h-2.5zM249.7 541.9h2.5v2.7h-2.5zM259.1 541.9h2.5v2.7h-2.5zM263.8 541.9h2.5v2.7h-2.5zM268.6 541.9h2.5v2.7h-2.5zM278 541.9h2.5v2.7h-2.5zM46.5 544.5h2.5v2.7h-2.5zM89 544.5h2.5v2.7h-2.5zM93.8 544.5h7.2v2.7h-7.2zM103.2 544.5h2.5v2.7h-2.5zM107.9 544.5h2.5v2.7h-2.5zM223.7 544.5h2.5v2.7h-2.5zM263.8 544.5h2.5v2.7h-2.5zM46.5 547.1h4.9v2.7h-4.9zM55.9 547.1h2.5v2.7h-2.5zM84.3 547.1h2.5v2.7h-2.5zM89 547.1h2.5v2.7h-2.5zM103.2 547.1h2.5v2.7h-2.5zM124.5 547.1h2.5v2.7h-2.5zM131.5 547.1h2.5v2.7h-2.5zM223.7 547.1h2.5v2.7h-2.5zM230.8 547.1h2.5v2.7h-2.5zM252 547.1h2.5v2.7h-2.5zM273.3 547.1h2.5v2.7h-2.5zM46.5 549.7h4.9v2.7h-4.9zM53.6 549.7h2.5v2.7h-2.5zM63 549.7h2.5v2.7h-2.5zM70.1 549.7h2.5v2.7h-2.5zM84.3 549.7h9.6v2.7h-9.6zM117.4 549.7h2.5v2.7h-2.5zM226.1 549.7h2.5v2.7h-2.5zM237.9 549.7h2.5v2.7h-2.5zM242.6 549.7h4.9v2.7h-4.9zM46.5 552.3h2.5v2.7h-2.5zM51.2 552.3h4.9v2.7h-4.9zM60.7 552.3h4.9v2.7h-4.9zM70.1 552.3h2.5v2.7h-2.5zM89 552.3h2.5v2.7h-2.5zM117.4 552.3h2.5v2.7h-2.5zM176.4 552.3h2.5v2.7h-2.5zM228.4 552.3h2.5v2.7h-2.5zM235.5 552.3h2.5v2.7h-2.5zM240.2 552.3h4.9v2.7h-4.9zM55.9 554.9h2.5v2.7h-2.5zM74.8 554.9h2.5v2.7h-2.5zM81.9 554.9h2.5v2.7h-2.5zM93.8 554.9h2.5v2.7h-2.5zM98.5 554.9h2.5v2.7h-2.5zM119.7 554.9h2.5v2.7h-2.5zM197.7 554.9h2.5v2.7h-2.5zM219 554.9h4.9v2.7h-4.9zM226.1 554.9h4.9v2.7h-4.9zM235.5 554.9h2.5v2.7h-2.5zM242.6 554.9h4.9v2.7h-4.9zM278 554.9h2.5v2.7h-2.5zM51.2 557.4h4.9v2.7h-4.9zM58.3 557.4h7.2v2.7h-7.2zM67.8 557.4h2.5v2.7h-2.5zM115 557.4h2.5v2.7h-2.5zM119.7 557.4h2.5v2.7h-2.5zM214.2 557.4h2.5v2.7h-2.5zM219 557.4h2.5v2.7h-2.5zM223.7 557.4h2.5v2.7h-2.5zM228.4 557.4h2.5v2.7h-2.5zM237.9 557.4h4.9v2.7h-4.9zM67.8 560h2.5v2.7h-2.5zM204.8 560h2.5v2.7h-2.5zM221.3 560h2.5v2.7h-2.5zM228.4 560h2.5v2.7h-2.5zM233.1 560h7.2v2.7h-7.2zM256.8 560h2.5v2.7h-2.5zM266.2 560h2.5v2.7h-2.5zM63 562.6h2.5v2.7h-2.5zM67.8 562.6h2.5v2.7h-2.5zM119.7 562.6h4.9v2.7h-4.9zM242.6 562.6h2.5v2.7h-2.5zM275.7 562.6h4.9v2.7h-4.9zM249.7 565.2h2.5v2.7h-2.5zM256.8 565.2h2.5v2.7h-2.5zM263.8 565.2h2.5v2.7h-2.5zM275.7 565.2h2.5v2.7h-2.5zM63 567.8h2.5v2.7h-2.5zM195.3 567.8h2.5v2.7h-2.5zM254.4 567.8h4.9v2.7h-4.9zM183.5 570.4h2.5v2.7h-2.5zM259.1 570.4h2.5v2.7h-2.5zM263.8 570.4h2.5v2.7h-2.5zM275.7 570.4h2.5v2.7h-2.5zM285.1 570.4h2.5v2.7h-2.5zM275.7 572.9h2.5v2.7h-2.5zM280.4 572.9h2.5v2.7h-2.5zM285.1 572.9h2.5v2.7h-2.5zM98.5 575.5h2.5v2.7h-2.5zM115 575.5h2.5v2.7h-2.5zM266.2 575.5h4.9v2.7h-4.9zM273.3 575.5h2.5v2.7h-2.5zM280.4 575.5h4.9v2.7h-4.9zM209.5 578.1h2.5v2.7h-2.5zM266.2 578.1h2.5v2.7h-2.5zM275.7 578.1h2.5v2.7h-2.5zM287.5 578.1h2.5v2.7h-2.5zM117.4 580.7h2.5v2.7h-2.5zM270.9 580.7h2.5v2.7h-2.5zM292.2 580.7h2.5v2.7h-2.5zM242.6 583.3h2.5v2.7h-2.5zM275.7 583.3h2.5v2.7h-2.5zM282.7 583.3h2.5v2.7h-2.5zM278 585.9h7.2v2.7h-7.2zM287.5 585.9h2.5v2.7h-2.5zM124.5 591h2.5v2.7h-2.5zM150.4 593.6h2.5v2.7h-2.5zM63 598.8h2.5v2.7h-2.5zM195.3 598.8h2.5v2.7h-2.5zM181.2 601.4h2.5v2.7h-2.5zM98.5 603.9h2.5v2.7h-2.5zM136.3 603.9h2.5v2.7h-2.5zM188.2 603.9h2.5v2.7h-2.5zM270.9 609.1h2.5v2.7h-2.5zM98.5 614.3h2.5v2.7h-2.5zM70.1 616.8h2.5v2.7h-2.5zM219 616.8h2.5v2.7h-2.5zM261.5 616.8h2.5v2.7h-2.5zM63 622h2.5v2.7h-2.5zM183.5 622h2.5v2.7h-2.5zM188.2 624.6h2.5v2.7h-2.5zM178.8 627.2h2.5v2.7h-2.5zM268.6 632.3h2.5v2.7h-2.5zM155.2 634.9h2.5v2.7h-2.5zM152.8 637.5h2.5v2.7h-2.5zM171.7 637.5h2.5v2.7h-2.5zM266.2 640.1h2.5v2.7h-2.5zM266.2 642.7h2.5v2.7h-2.5zM63 645.2h2.5v2.7h-2.5zM143.4 645.2h2.5v2.7h-2.5zM263.8 647.8h2.5v2.7h-2.5zM223.7 655.5h2.5v2.7h-2.5zM100.8 658.1h2.5v2.7h-2.5zM162.3 658.1h2.5v2.7h-2.5zM261.5 658.1h2.5v2.7h-2.5zM141 660.7h2.5v2.7h-2.5zM126.8 663.3h2.5v2.7h-2.5zM126.8 671h2.5v2.7h-2.5zM252 671h2.5v2.7h-2.5zM119.7 676.2h2.5v2.7h-2.5zM150.4 683.9h2.5v2.7h-2.5zM60.7 689.1h2.5v2.7h-2.5zM131.5 689.1h2.5v2.7h-2.5zM79.6 691.6h2.5v2.7h-2.5zM152.8 691.6h2.5v2.7h-2.5zM136.3 699.4h2.5v2.7h-2.5zM221.3 701.9h2.5v2.7h-2.5zM233.1 701.9h2.5v2.7h-2.5zM51.2 707.1h2.5v2.7h-2.5zM164.6 707.1h2.5v2.7h-2.5zM129.2 709.7h2.5v2.7h-2.5zM223.7 709.7h4.9v2.7h-4.9zM72.5 712.2h2.5v2.7h-2.5zM226.1 712.2h2.5v2.7h-2.5zM230.8 712.2h2.5v2.7h-2.5zM221.3 714.8h4.9v2.7h-4.9zM230.8 717.4h2.5v2.7h-2.5zM221.3 720h2.5v2.7h-2.5zM112.7 722.5h2.5v2.7h-2.5zM223.7 722.5h2.5v2.7h-2.5zM228.4 722.5h2.5v2.7h-2.5zM221.3 725.1h2.5v2.7h-2.5zM228.4 725.1h2.5v2.7h-2.5zM200.1 730.3h2.5v2.7h-2.5zM219 730.3h2.5v2.7h-2.5zM211.9 732.8h2.5v2.7h-2.5zM219 732.8h2.5v2.7h-2.5z"/>
<path fill="#fa9632" d="M190.6 365.7h4.9v2.7h-4.9zM209.5 365.7h2.5v2.7h-2.5zM188.2 368.3h4.9v2.7h-4.9zM195.3 368.3h2.5v2.7h-2.5zM200.1 368.3h2.5v2.7h-2.5zM204.8 368.3h2.5v2.7h-2.5zM181.2 370.9h4.9v2.7h-4.9zM188.2 370.9h2.5v2.7h-2.5zM200.1 370.9h4.9v2.7h-4.9zM211.9 370.9h2.5v2.7h-2.5zM178.8 373.5h4.9v2.7h-4.9zM190.6 373.5h7.2v2.7h-7.2zM200.1 373.5h2.5v2.7h-2.5zM204.8 373.5h2.5v2.7h-2.5zM214.2 373.5h2.5v2.7h-2.5zM219 373.5h4.9v2.7h-4.9zM176.4 376.1h7.2v2.7h-7.2zM188.2 376.1h4.9v2.7h-4.9zM195.3 376.1h2.5v2.7h-2.5zM200.1 376.1h2.5v2.7h-2.5zM204.8 376.1h4.9v2.7h-4.9zM211.9 376.1h2.5v2.7h-2.5zM221.3 376.1h2.5v2.7h-2.5zM174.1 378.7h2.5v2.7h-2.5zM178.8 378.7h2.5v2.7h-2.5zM183.5 378.7h4.9v2.7h-4.9zM195.3 378.7h2.5v2.7h-2.5zM202.4 378.7h4.9v2.7h-4.9zM221.3 378.7h2.5v2.7h-2.5zM185.9 381.2h2.5v2.7h-2.5zM190.6 381.2h7.2v2.7h-7.2zM202.4 381.2h2.5v2.7h-2.5zM207.1 381.2h2.5v2.7h-2.5zM214.2 381.2h2.5v2.7h-2.5zM219 381.2h2.5v2.7h-2.5zM223.7 381.2h2.5v2.7h-2.5zM174.1 383.8h9.6v2.7h-9.6zM185.9 383.8h2.5v2.7h-2.5zM190.6 383.8h2.5v2.7h-2.5zM200.1 383.8h2.5v2.7h-2.5zM204.8 383.8h2.5v2.7h-2.5zM209.5 383.8h2.5v2.7h-2.5zM223.7 383.8h2.5v2.7h-2.5zM171.7 386.4h2.5v2.7h-2.5zM176.4 386.4h7.2v2.7h-7.2zM185.9 386.4h2.5v2.7h-2.5zM195.3 386.4h2.5v2.7h-2.5zM169.4 389h9.6v2.7h-9.6zM181.2 389h2.5v2.7h-2.5zM185.9 389h4.9v2.7h-4.9zM193 389h2.5v2.7h-2.5zM197.7 389h2.5v2.7h-2.5zM219 389h9.6v2.7h-9.6zM230.8 389h2.5v2.7h-2.5zM167 391.6h4.9v2.7h-4.9zM176.4 391.6h7.2v2.7h-7.2zM190.6 391.6h2.5v2.7h-2.5zM219 391.6h9.6v2.7h-9.6zM235.5 391.6h2.5v2.7h-2.5zM164.6 394.2h4.9v2.7h-4.9zM176.4 394.2h2.5v2.7h-2.5zM183.5 394.2h4.9v2.7h-4.9zM193 394.2h4.9v2.7h-4.9zM204.8 394.2h7.2v2.7h-7.2zM216.6 394.2h2.5v2.7h-2.5zM221.3 394.2h2.5v2.7h-2.5zM226.1 394.2h2.5v2.7h-2.5zM235.5 394.2h4.9v2.7h-4.9zM169.4 396.8h2.5v2.7h-2.5zM174.1 396.8h2.5v2.7h-2.5zM183.5 396.8h2.5v2.7h-2.5zM190.6 396.8h4.9v2.7h-4.9zM202.4 396.8h2.5v2.7h-2.5zM219 396.8h2.5v2.7h-2.5zM223.7 396.8h2.5v2.7h-2.5zM228.4 396.8h4.9v2.7h-4.9zM240.2 396.8h2.5v2.7h-2.5zM171.7 399.4h2.5v2.7h-2.5zM178.8 399.4h4.9v2.7h-4.9zM188.2 399.4h2.5v2.7h-2.5zM193 399.4h9.6v2.7h-9.6zM204.8 399.4h2.5v2.7h-2.5zM211.9 399.4h2.5v2.7h-2.5zM221.3 399.4h2.5v2.7h-2.5zM230.8 399.4h2.5v2.7h-2.5zM162.3 402h7.2v2.7h-7.2zM171.7 402h4.9v2.7h-4.9zM183.5 402h2.5v2.7h-2.5zM188.2 402h7.2v2.7h-7.2zM202.4 402h2.5v2.7h-2.5zM209.5 402h2.5v2.7h-2.5zM214.2 402h2.5v2.7h-2.5zM226.1 402h2.5v2.7h-2.5zM230.8 402h4.9v2.7h-4.9zM237.9 402h4.9v2.7h-4.9zM162.3 404.6h2.5v2.7h-2.5zM167 404.6h4.9v2.7h-4.9zM174.1 404.6h2.5v2.7h-2.5zM190.6 404.6h2.5v2.7h-2.5zM204.8 404.6h2.5v2.7h-2.5zM209.5 404.6h2.5v2.7h-2.5zM230.8 404.6h7.2v2.7h-7.2zM240.2 404.6h2.5v2.7h-2.5zM247.3 404.6h2.5v2.7h-2.5zM169.4 407.2h2.5v2.7h-2.5zM200.1 407.2h4.9v2.7h-4.9zM214.2 407.2h2.5v2.7h-2.5zM235.5 407.2h2.5v2.7h-2.5zM242.6 407.2h4.9v2.7h-4.9zM152.8 409.8h2.5v2.7h-2.5zM164.6 409.8h2.5v2.7h-2.5zM169.4 409.8h2.5v2.7h-2.5zM174.1 409.8h2.5v2.7h-2.5zM195.3 409.8h4.9v2.7h-4.9zM202.4 409.8h7.2v2.7h-7.2zM223.7 409.8h2.5v2.7h-2.5zM235.5 409.8h2.5v2.7h-2.5zM148.1 412.4h2.5v2.7h-2.5zM152.8 412.4h2.5v2.7h-2.5zM157.5 412.4h9.6v2.7h-9.6zM169.4 412.4h2.5v2.7h-2.5zM195.3 412.4h2.5v2.7h-2.5zM226.1 412.4h2.5v2.7h-2.5zM235.5 412.4h2.5v2.7h-2.5zM240.2 412.4h2.5v2.7h-2.5zM141 415h4.9v2.7h-4.9zM150.4 415h2.5v2.7h-2.5zM155.2 415h2.5v2.7h-2.5zM167 415h4.9v2.7h-4.9zM204.8 415h4.9v2.7h-4.9zM235.5 415h2.5v2.7h-2.5zM126.8 417.6h2.5v2.7h-2.5zM131.5 417.6h2.5v2.7h-2.5zM141 417.6h2.5v2.7h-2.5zM148.1 417.6h2.5v2.7h-2.5zM152.8 417.6h2.5v2.7h-2.5zM216.6 417.6h4.9v2.7h-4.9zM240.2 417.6h4.9v2.7h-4.9zM249.7 417.6h2.5v2.7h-2.5zM254.4 417.6h2.5v2.7h-2.5zM263.8 417.6h4.9v2.7h-4.9zM278 417.6h2.5v2.7h-2.5zM282.7 417.6h2.5v2.7h-2.5zM287.5 417.6h2.5v2.7h-2.5zM299.3 417.6h2.5v2.7h-2.5zM110.3 420.2h4.9v2.7h-4.9zM124.5 420.2h2.5v2.7h-2.5zM129.2 420.2h2.5v2.7h-2.5zM157.5 420.2h2.5v2.7h-2.5zM209.5 420.2h2.5v2.7h-2.5zM214.2 420.2h2.5v2.7h-2.5zM223.7 420.2h4.9v2.7h-4.9zM230.8 420.2h2.5v2.7h-2.5zM249.7 420.2h2.5v2.7h-2.5zM259.1 420.2h2.5v2.7h-2.5zM263.8 420.2h4.9v2.7h-4.9zM278 420.2h9.6v2.7h-9.6zM105.6 422.8h4.9v2.7h-4.9zM124.5 422.8h2.5v2.7h-2.5zM131.5 422.8h7.2v2.7h-7.2zM145.7 422.8h2.5v2.7h-2.5zM202.4 422.8h2.5v2.7h-2.5zM209.5 422.8h4.9v2.7h-4.9zM240.2 422.8h4.9v2.7h-4.9zM247.3 422.8h2.5v2.7h-2.5zM252 422.8h2.5v2.7h-2.5zM270.9 422.8h2.5v2.7h-2.5zM275.7 422.8h2.5v2.7h-2.5zM285.1 422.8h4.9v2.7h-4.9zM115 425.4h2.5v2.7h-2.5zM124.5 425.4h7.2v2.7h-7.2zM138.6 425.4h2.5v2.7h-2.5zM164.6 425.4h2.5v2.7h-2.5zM204.8 425.4h2.5v2.7h-2.5zM249.7 425.4h2.5v2.7h-2.5zM268.6 425.4h2.5v2.7h-2.5zM278 425.4h2.5v2.7h-2.5zM100.8 428h2.5v2.7h-2.5zM117.4 428h2.5v2.7h-2.5zM124.5 428h2.5v2.7h-2.5zM129.2 428h9.6v2.7h-9.6zM141 428h4.9v2.7h-4.9zM148.1 428h2.5v2.7h-2.5zM164.6 428h2.5v2.7h-2.5zM209.5 428h2.5v2.7h-2.5zM226.1 428h2.5v2.7h-2.5zM233.1 428h9.6v2.7h-9.6zM249.7 428h2.5v2.7h-2.5zM117.4 430.6h2.5v2.7h-2.5zM122.1 430.6h4.9v2.7h-4.9zM131.5 430.6h2.5v2.7h-2.5zM136.3 430.6h2.5v2.7h-2.5zM145.7 430.6h2.5v2.7h-2.5zM235.5 430.6h4.9v2.7h-4.9zM89 433.2h4.9v2.7h-4.9zM105.6 433.2h2.5v2.7h-2.5zM124.5 433.2h2.5v2.7h-2.5zM129.2 433.2h2.5v2.7h-2.5zM136.3 433.2h2.5v2.7h-2.5zM141 433.2h2.5v2.7h-2.5zM145.7 433.2h2.5v2.7h-2.5zM150.4 433.2h2.5v2.7h-2.5zM219 433.2h2.5v2.7h-2.5zM223.7 433.2h2.5v2.7h-2.5zM230.8 433.2h2.5v2.7h-2.5zM72.5 435.7h2.5v2.7h-2.5zM84.3 435.7h2.5v2.7h-2.5zM91.4 435.7h2.5v2.7h-2.5zM103.2 435.7h2.5v2.7h-2.5zM119.7 435.7h2.5v2.7h-2.5zM126.8 435.7h2.5v2.7h-2.5zM141 435.7h2.5v2.7h-2.5zM164.6 435.7h2.5v2.7h-2.5zM214.2 435.7h2.5v2.7h-2.5zM230.8 435.7h2.5v2.7h-2.5zM299.3 435.7h2.5v2.7h-2.5zM306.4 435.7h2.5v2.7h-2.5zM67.8 438.3h4.9v2.7h-4.9zM77.2 438.3h2.5v2.7h-2.5zM103.2 438.3h2.5v2.7h-2.5zM115 438.3h2.5v2.7h-2.5zM131.5 438.3h2.5v2.7h-2.5zM245 438.3h2.5v2.7h-2.5zM278 438.3h2.5v2.7h-2.5zM301.7 438.3h4.9v2.7h-4.9zM65.4 440.9h2.5v2.7h-2.5zM81.9 440.9h2.5v2.7h-2.5zM86.7 440.9h2.5v2.7h-2.5zM100.8 440.9h2.5v2.7h-2.5zM119.7 440.9h2.5v2.7h-2.5zM138.6 440.9h4.9v2.7h-4.9zM145.7 440.9h2.5v2.7h-2.5zM207.1 440.9h2.5v2.7h-2.5zM219 440.9h2.5v2.7h-2.5zM235.5 440.9h2.5v2.7h-2.5zM259.1 440.9h2.5v2.7h-2.5zM270.9 440.9h2.5v2.7h-2.5zM282.7 440.9h2.5v2.7h-2.5zM65.4 443.5h2.5v2.7h-2.5zM84.3 443.5h2.5v2.7h-2.5zM96.1 443.5h2.5v2.7h-2.5zM219 443.5h2.5v2.7h-2.5zM237.9 443.5h2.5v2.7h-2.5zM275.7 443.5h2.5v2.7h-2.5zM98.5 446.1h4.9v2.7h-4.9zM105.6 446.1h2.5v2.7h-2.5zM143.4 446.1h2.5v2.7h-2.5zM211.9 446.1h2.5v2.7h-2.5zM219 446.1h2.5v2.7h-2.5zM235.5 446.1h2.5v2.7h-2.5zM240.2 446.1h4.9v2.7h-4.9zM252 446.1h2.5v2.7h-2.5zM275.7 446.1h2.5v2.7h-2.5zM287.5 446.1h2.5v2.7h-2.5zM77.2 448.7h2.5v2.7h-2.5zM98.5 448.7h2.5v2.7h-2.5zM230.8 448.7h2.5v2.7h-2.5zM240.2 448.7h2.5v2.7h-2.5zM245 448.7h2.5v2.7h-2.5zM256.8 448.7h2.5v2.7h-2.5zM282.7 448.7h2.5v2.7h-2.5zM287.5 448.7h2.5v2.7h-2.5zM292.2 448.7h2.5v2.7h-2.5zM55.9 451.3h2.5v2.7h-2.5zM72.5 451.3h2.5v2.7h-2.5zM79.6 451.3h2.5v2.7h-2.5zM93.8 451.3h2.5v2.7h-2.5zM214.2 451.3h2.5v2.7h-2.5zM221.3 451.3h2.5v2.7h-2.5zM226.1 451.3h2.5v2.7h-2.5zM247.3 451.3h2.5v2.7h-2.5zM275.7 451.3h2.5v2.7h-2.5zM287.5 451.3h2.5v2.7h-2.5zM51.2 453.9h4.9v2.7h-4.9zM58.3 453.9h2.5v2.7h-2.5zM63 453.9h2.5v2.7h-2.5zM67.8 453.9h2.5v2.7h-2.5zM89 453.9h2.5v2.7h-2.5zM141 453.9h2.5v2.7h-2.5zM211.9 453.9h9.6v2.7h-9.6zM233.1 453.9h2.5v2.7h-2.5zM304 453.9h2.5v2.7h-2.5zM325.3 453.9h2.5v2.7h-2.5zM60.7 456.5h2.5v2.7h-2.5zM65.4 456.5h2.5v2.7h-2.5zM81.9 456.5h2.5v2.7h-2.5zM100.8 456.5h2.5v2.7h-2.5zM112.7 456.5h2.5v2.7h-2.5zM119.7 456.5h2.5v2.7h-2.5zM133.9 456.5h4.9v2.7h-4.9zM195.3 456.5h2.5v2.7h-2.5zM209.5 456.5h2.5v2.7h-2.5zM221.3 456.5h2.5v2.7h-2.5zM235.5 456.5h2.5v2.7h-2.5zM256.8 456.5h2.5v2.7h-2.5zM304 456.5h2.5v2.7h-2.5zM48.9 459.1h2.5v2.7h-2.5zM53.6 459.1h2.5v2.7h-2.5zM58.3 459.1h2.5v2.7h-2.5zM65.4 459.1h4.9v2.7h-4.9zM81.9 459.1h2.5v2.7h-2.5zM98.5 459.1h2.5v2.7h-2.5zM103.2 459.1h2.5v2.7h-2.5zM136.3 459.1h2.5v2.7h-2.5zM141 459.1h2.5v2.7h-2.5zM219 459.1h7.2v2.7h-7.2zM233.1 459.1h2.5v2.7h-2.5zM256.8 459.1h2.5v2.7h-2.5zM313.5 459.1h2.5v2.7h-2.5zM53.6 461.7h4.9v2.7h-4.9zM65.4 461.7h2.5v2.7h-2.5zM72.5 461.7h4.9v2.7h-4.9zM86.7 461.7h4.9v2.7h-4.9zM136.3 461.7h4.9v2.7h-4.9zM245 461.7h2.5v2.7h-2.5zM275.7 461.7h2.5v2.7h-2.5zM58.3 464.3h2.5v2.7h-2.5zM67.8 464.3h2.5v2.7h-2.5zM81.9 464.3h2.5v2.7h-2.5zM105.6 464.3h2.5v2.7h-2.5zM117.4 464.3h2.5v2.7h-2.5zM124.5 464.3h2.5v2.7h-2.5zM131.5 464.3h2.5v2.7h-2.5zM136.3 464.3h2.5v2.7h-2.5zM143.4 464.3h2.5v2.7h-2.5zM162.3 464.3h2.5v2.7h-2.5zM211.9 464.3h2.5v2.7h-2.5zM221.3 464.3h2.5v2.7h-2.5zM233.1 464.3h2.5v2.7h-2.5zM237.9 464.3h2.5v2.7h-2.5zM252 464.3h2.5v2.7h-2.5zM65.4 466.9h2.5v2.7h-2.5zM72.5 466.9h2.5v2.7h-2.5zM117.4 466.9h4.9v2.7h-4.9zM133.9 466.9h2.5v2.7h-2.5zM152.8 466.9h14.3v2.7h-14.3zM211.9 466.9h2.5v2.7h-2.5zM263.8 466.9h2.5v2.7h-2.5zM70.1 469.4h2.5v2.7h-2.5zM79.6 469.4h4.9v2.7h-4.9zM91.4 469.4h2.5v2.7h-2.5zM110.3 469.4h2.5v2.7h-2.5zM141 469.4h4.9v2.7h-4.9zM169.4 469.4h4.9v2.7h-4.9zM204.8 469.4h2.5v2.7h-2.5zM221.3 469.4h7.2v2.7h-7.2zM237.9 469.4h2.5v2.7h-2.5zM242.6 469.4h2.5v2.7h-2.5zM268.6 469.4h2.5v2.7h-2.5zM282.7 469.4h2.5v2.7h-2.5zM55.9 472h4.9v2.7h-4.9zM91.4 472h2.5v2.7h-2.5zM117.4 472h4.9v2.7h-4.9zM167 472h2.5v2.7h-2.5zM204.8 472h2.5v2.7h-2.5zM214.2 472h2.5v2.7h-2.5zM221.3 472h2.5v2.7h-2.5zM261.5 472h2.5v2.7h-2.5zM275.7 472h2.5v2.7h-2.5zM280.4 472h2.5v2.7h-2.5zM48.9 474.6h2.5v2.7h-2.5zM60.7 474.6h4.9v2.7h-4.9zM70.1 474.6h2.5v2.7h-2.5zM77.2 474.6h2.5v2.7h-2.5zM86.7 474.6h4.9v2.7h-4.9zM96.1 474.6h2.5v2.7h-2.5zM112.7 474.6h2.5v2.7h-2.5zM126.8 474.6h2.5v2.7h-2.5zM148.1 474.6h2.5v2.7h-2.5zM155.2 474.6h2.5v2.7h-2.5zM162.3 474.6h7.2v2.7h-7.2zM176.4 474.6h2.5v2.7h-2.5zM204.8 474.6h2.5v2.7h-2.5zM228.4 474.6h2.5v2.7h-2.5zM261.5 474.6h2.5v2.7h-2.5zM285.1 474.6h2.5v2.7h-2.5zM51.2 477.2h2.5v2.7h-2.5zM60.7 477.2h2.5v2.7h-2.5zM89 477.2h2.5v2.7h-2.5zM93.8 477.2h2.5v2.7h-2.5zM117.4 477.2h2.5v2.7h-2.5zM145.7 477.2h2.5v2.7h-2.5zM164.6 477.2h2.5v2.7h-2.5zM183.5 477.2h2.5v2.7h-2.5zM188.2 477.2h2.5v2.7h-2.5zM202.4 477.2h2.5v2.7h-2.5zM233.1 477.2h2.5v2.7h-2.5zM65.4 479.8h2.5v2.7h-2.5zM79.6 479.8h2.5v2.7h-2.5zM100.8 479.8h2.5v2.7h-2.5zM110.3 479.8h2.5v2.7h-2.5zM117.4 479.8h2.5v2.7h-2.5zM136.3 479.8h2.5v2.7h-2.5zM174.1 479.8h2.5v2.7h-2.5zM240.2 479.8h2.5v2.7h-2.5zM63 482.4h2.5v2.7h-2.5zM96.1 482.4h2.5v2.7h-2.5zM119.7 482.4h7.2v2.7h-7.2zM136.3 482.4h2.5v2.7h-2.5zM157.5 482.4h2.5v2.7h-2.5zM197.7 482.4h4.9v2.7h-4.9zM242.6 482.4h2.5v2.7h-2.5zM266.2 482.4h2.5v2.7h-2.5zM270.9 482.4h2.5v2.7h-2.5zM58.3 485h7.2v2.7h-7.2zM72.5 485h2.5v2.7h-2.5zM77.2 485h2.5v2.7h-2.5zM81.9 485h4.9v2.7h-4.9zM91.4 485h2.5v2.7h-2.5zM98.5 485h2.5v2.7h-2.5zM105.6 485h2.5v2.7h-2.5zM112.7 485h2.5v2.7h-2.5zM119.7 485h4.9v2.7h-4.9zM133.9 485h2.5v2.7h-2.5zM176.4 485h2.5v2.7h-2.5zM200.1 485h2.5v2.7h-2.5zM219 485h2.5v2.7h-2.5zM245 485h2.5v2.7h-2.5zM285.1 485h2.5v2.7h-2.5zM67.8 487.6h2.5v2.7h-2.5zM86.7 487.6h2.5v2.7h-2.5zM91.4 487.6h2.5v2.7h-2.5zM96.1 487.6h2.5v2.7h-2.5zM103.2 487.6h7.2v2.7h-7.2zM115 487.6h2.5v2.7h-2.5zM126.8 487.6h2.5v2.7h-2.5zM197.7 487.6h4.9v2.7h-4.9zM221.3 487.6h2.5v2.7h-2.5zM268.6 487.6h2.5v2.7h-2.5zM282.7 487.6h2.5v2.7h-2.5zM46.5 490.2h4.9v2.7h-4.9zM53.6 490.2h2.5v2.7h-2.5zM58.3 490.2h7.2v2.7h-7.2zM86.7 490.2h2.5v2.7h-2.5zM91.4 490.2h2.5v2.7h-2.5zM103.2 490.2h12v2.7h-12zM211.9 490.2h2.5v2.7h-2.5zM216.6 490.2h2.5v2.7h-2.5zM55.9 492.8h4.9v2.7h-4.9zM65.4 492.8h2.5v2.7h-2.5zM70.1 492.8h2.5v2.7h-2.5zM81.9 492.8h4.9v2.7h-4.9zM100.8 492.8h4.9v2.7h-4.9zM107.9 492.8h2.5v2.7h-2.5zM124.5 492.8h4.9v2.7h-4.9zM256.8 492.8h2.5v2.7h-2.5zM261.5 492.8h2.5v2.7h-2.5zM55.9 495.3h2.5v2.7h-2.5zM79.6 495.3h2.5v2.7h-2.5zM86.7 495.3h4.9v2.7h-4.9zM103.2 495.3h2.5v2.7h-2.5zM119.7 495.3h2.5v2.7h-2.5zM233.1 495.3h2.5v2.7h-2.5zM270.9 495.3h2.5v2.7h-2.5zM278 495.3h2.5v2.7h-2.5zM53.6 497.9h7.2v2.7h-7.2zM65.4 497.9h2.5v2.7h-2.5zM70.1 497.9h7.2v2.7h-7.2zM79.6 497.9h2.5v2.7h-2.5zM89 497.9h2.5v2.7h-2.5zM105.6 497.9h2.5v2.7h-2.5zM117.4 497.9h2.5v2.7h-2.5zM124.5 497.9h2.5v2.7h-2.5zM263.8 497.9h16.7v2.7h-16.7zM46.5 500.5h2.5v2.7h-2.5zM55.9 500.5h2.5v2.7h-2.5zM60.7 500.5h2.5v2.7h-2.5zM67.8 500.5h2.5v2.7h-2.5zM77.2 500.5h7.2v2.7h-7.2zM112.7 500.5h2.5v2.7h-2.5zM117.4 500.5h2.5v2.7h-2.5zM266.2 500.5h2.5v2.7h-2.5zM270.9 500.5h7.2v2.7h-7.2zM46.5 503.1h2.5v2.7h-2.5zM63 503.1h2.5v2.7h-2.5zM72.5 503.1h2.5v2.7h-2.5zM79.6 503.1h2.5v2.7h-2.5zM86.7 503.1h4.9v2.7h-4.9zM124.5 503.1h2.5v2.7h-2.5zM174.1 503.1h2.5v2.7h-2.5zM261.5 503.1h7.2v2.7h-7.2zM273.3 503.1h2.5v2.7h-2.5zM278 503.1h2.5v2.7h-2.5zM46.5 505.7h2.5v2.7h-2.5zM60.7 505.7h2.5v2.7h-2.5zM67.8 505.7h2.5v2.7h-2.5zM84.3 505.7h2.5v2.7h-2.5zM89 505.7h2.5v2.7h-2.5zM100.8 505.7h2.5v2.7h-2.5zM122.1 505.7h2.5v2.7h-2.5zM259.1 505.7h2.5v2.7h-2.5zM266.2 505.7h4.9v2.7h-4.9zM275.7 505.7h2.5v2.7h-2.5zM46.5 508.3h2.5v2.7h-2.5zM63 508.3h2.5v2.7h-2.5zM67.8 508.3h2.5v2.7h-2.5zM81.9 508.3h2.5v2.7h-2.5zM89 508.3h4.9v2.7h-4.9zM96.1 508.3h2.5v2.7h-2.5zM100.8 508.3h2.5v2.7h-2.5zM105.6 508.3h2.5v2.7h-2.5zM112.7 508.3h4.9v2.7h-4.9zM259.1 508.3h2.5v2.7h-2.5zM263.8 508.3h14.3v2.7h-14.3zM58.3 510.9h2.5v2.7h-2.5zM67.8 510.9h2.5v2.7h-2.5zM77.2 510.9h4.9v2.7h-4.9zM84.3 510.9h2.5v2.7h-2.5zM100.8 510.9h12v2.7h-12zM259.1 510.9h9.6v2.7h-9.6zM273.3 510.9h4.9v2.7h-4.9zM51.2 513.5h4.9v2.7h-4.9zM60.7 513.5h2.5v2.7h-2.5zM70.1 513.5h2.5v2.7h-2.5zM77.2 513.5h7.2v2.7h-7.2zM86.7 513.5h2.5v2.7h-2.5zM107.9 513.5h2.5v2.7h-2.5zM256.8 513.5h2.5v2.7h-2.5zM263.8 513.5h7.2v2.7h-7.2zM53.6 516.1h2.5v2.7h-2.5zM58.3 516.1h2.5v2.7h-2.5zM63 516.1h2.5v2.7h-2.5zM67.8 516.1h2.5v2.7h-2.5zM72.5 516.1h2.5v2.7h-2.5zM79.6 516.1h9.6v2.7h-9.6zM91.4 516.1h2.5v2.7h-2.5zM105.6 516.1h2.5v2.7h-2.5zM112.7 516.1h2.5v2.7h-2.5zM252 516.1h2.5v2.7h-2.5zM256.8 516.1h2.5v2.7h-2.5zM266.2 516.1h4.9v2.7h-4.9zM273.3 516.1h2.5v2.7h-2.5zM55.9 518.6h2.5v2.7h-2.5zM60.7 518.6h2.5v2.7h-2.5zM70.1 518.6h2.5v2.7h-2.5zM79.6 518.6h4.9v2.7h-4.9zM86.7 518.6h2.5v2.7h-2.5zM100.8 518.6h9.6v2.7h-9.6zM249.7 518.6h4.9v2.7h-4.9zM256.8 518.6h2.5v2.7h-2.5zM261.5 518.6h7.2v2.7h-7.2zM275.7 518.6h2.5v2.7h-2.5zM48.9 521.2h7.2v2.7h-7.2zM63 521.2h2.5v2.7h-2.5zM74.8 521.2h2.5v2.7h-2.5zM84.3 521.2h2.5v2.7h-2.5zM93.8 521.2h7.2v2.7h-7.2zM107.9 521.2h7.2v2.7h-7.2zM124.5 521.2h2.5v2.7h-2.5zM247.3 521.2h2.5v2.7h-2.5zM252 521.2h2.5v2.7h-2.5zM259.1 521.2h2.5v2.7h-2.5zM275.7 521.2h2.5v2.7h-2.5zM46.5 523.8h2.5v2.7h-2.5zM51.2 523.8h4.9v2.7h-4.9zM63 523.8h2.5v2.7h-2.5zM70.1 523.8h2.5v2.7h-2.5zM74.8 523.8h4.9v2.7h-4.9zM81.9 523.8h2.5v2.7h-2.5zM86.7 523.8h2.5v2.7h-2.5zM91.4 523.8h7.2v2.7h-7.2zM103.2 523.8h2.5v2.7h-2.5zM107.9 523.8h12v2.7h-12zM242.6 523.8h4.9v2.7h-4.9zM259.1 523.8h9.6v2.7h-9.6zM273.3 523.8h4.9v2.7h-4.9zM46.5 526.4h2.5v2.7h-2.5zM51.2 526.4h4.9v2.7h-4.9zM70.1 526.4h7.2v2.7h-7.2zM81.9 526.4h2.5v2.7h-2.5zM86.7 526.4h4.9v2.7h-4.9zM98.5 526.4h2.5v2.7h-2.5zM103.2 526.4h2.5v2.7h-2.5zM117.4 526.4h4.9v2.7h-4.9zM242.6 526.4h2.5v2.7h-2.5zM263.8 526.4h2.5v2.7h-2.5zM268.6 526.4h7.2v2.7h-7.2zM48.9 529h2.5v2.7h-2.5zM79.6 529h7.2v2.7h-7.2zM93.8 529h4.9v2.7h-4.9zM105.6 529h2.5v2.7h-2.5zM115 529h2.5v2.7h-2.5zM162.3 529h2.5v2.7h-2.5zM240.2 529h7.2v2.7h-7.2zM249.7 529h2.5v2.7h-2.5zM254.4 529h2.5v2.7h-2.5zM263.8 529h7.2v2.7h-7.2zM275.7 529h2.5v2.7h-2.5zM60.7 531.6h2.5v2.7h-2.5zM81.9 531.6h2.5v2.7h-2.5zM98.5 531.6h2.5v2.7h-2.5zM105.6 531.6h7.2v2.7h-7.2zM115 531.6h2.5v2.7h-2.5zM240.2 531.6h9.6v2.7h-9.6zM261.5 531.6h2.5v2.7h-2.5zM273.3 531.6h4.9v2.7h-4.9zM46.5 534.2h2.5v2.7h-2.5zM53.6 534.2h2.5v2.7h-2.5zM60.7 534.2h2.5v2.7h-2.5zM72.5 534.2h2.5v2.7h-2.5zM86.7 534.2h2.5v2.7h-2.5zM93.8 534.2h4.9v2.7h-4.9zM100.8 534.2h2.5v2.7h-2.5zM105.6 534.2h4.9v2.7h-4.9zM122.1 534.2h4.9v2.7h-4.9zM242.6 534.2h2.5v2.7h-2.5zM252 534.2h2.5v2.7h-2.5zM256.8 534.2h4.9v2.7h-4.9zM263.8 534.2h2.5v2.7h-2.5zM273.3 534.2h4.9v2.7h-4.9zM48.9 536.8h2.5v2.7h-2.5zM58.3 536.8h2.5v2.7h-2.5zM67.8 536.8h2.5v2.7h-2.5zM86.7 536.8h2.5v2.7h-2.5zM96.1 536.8h14.3v2.7h-14.3zM235.5 536.8h7.2v2.7h-7.2zM247.3 536.8h2.5v2.7h-2.5zM261.5 536.8h9.6v2.7h-9.6zM273.3 536.8h4.9v2.7h-4.9zM46.5 539.3h2.5v2.7h-2.5zM51.2 539.3h2.5v2.7h-2.5zM55.9 539.3h9.6v2.7h-9.6zM89 539.3h4.9v2.7h-4.9zM96.1 539.3h2.5v2.7h-2.5zM100.8 539.3h7.2v2.7h-7.2zM110.3 539.3h2.5v2.7h-2.5zM152.8 539.3h2.5v2.7h-2.5zM171.7 539.3h2.5v2.7h-2.5zM226.1 539.3h2.5v2.7h-2.5zM249.7 539.3h2.5v2.7h-2.5zM261.5 539.3h2.5v2.7h-2.5zM268.6 539.3h4.9v2.7h-4.9zM275.7 539.3h2.5v2.7h-2.5zM46.5 541.9h2.5v2.7h-2.5zM53.6 541.9h4.9v2.7h-4.9zM60.7 541.9h4.9v2.7h-4.9zM67.8 541.9h2.5v2.7h-2.5zM77.2 541.9h2.5v2.7h-2.5zM84.3 541.9h2.5v2.7h-2.5zM91.4 541.9h4.9v2.7h-4.9zM100.8 541.9h2.5v2.7h-2.5zM237.9 541.9h7.2v2.7h-7.2zM254.4 541.9h4.9v2.7h-4.9zM261.5 541.9h2.5v2.7h-2.5zM270.9 541.9h7.2v2.7h-7.2zM60.7 544.5h2.5v2.7h-2.5zM67.8 544.5h2.5v2.7h-2.5zM79.6 544.5h2.5v2.7h-2.5zM86.7 544.5h2.5v2.7h-2.5zM100.8 544.5h2.5v2.7h-2.5zM228.4 544.5h9.6v2.7h-9.6zM240.2 544.5h2.5v2.7h-2.5zM247.3 544.5h2.5v2.7h-2.5zM254.4 544.5h4.9v2.7h-4.9zM261.5 544.5h2.5v2.7h-2.5zM270.9 544.5h2.5v2.7h-2.5zM51.2 547.1h2.5v2.7h-2.5zM58.3 547.1h4.9v2.7h-4.9zM65.4 547.1h2.5v2.7h-2.5zM70.1 547.1h9.6v2.7h-9.6zM91.4 547.1h2.5v2.7h-2.5zM98.5 547.1h2.5v2.7h-2.5zM126.8 547.1h2.5v2.7h-2.5zM226.1 547.1h4.9v2.7h-4.9zM233.1 547.1h2.5v2.7h-2.5zM249.7 547.1h2.5v2.7h-2.5zM254.4 547.1h4.9v2.7h-4.9zM266.2 547.1h2.5v2.7h-2.5zM270.9 547.1h2.5v2.7h-2.5zM51.2 549.7h2.5v2.7h-2.5zM55.9 549.7h2.5v2.7h-2.5zM60.7 549.7h2.5v2.7h-2.5zM67.8 549.7h2.5v2.7h-2.5zM77.2 549.7h7.2v2.7h-7.2zM93.8 549.7h4.9v2.7h-4.9zM100.8 549.7h2.5v2.7h-2.5zM219 549.7h7.2v2.7h-7.2zM230.8 549.7h7.2v2.7h-7.2zM261.5 549.7h2.5v2.7h-2.5zM275.7 549.7h4.9v2.7h-4.9zM48.9 552.3h2.5v2.7h-2.5zM55.9 552.3h4.9v2.7h-4.9zM65.4 552.3h4.9v2.7h-4.9zM72.5 552.3h7.2v2.7h-7.2zM81.9 552.3h2.5v2.7h-2.5zM86.7 552.3h2.5v2.7h-2.5zM93.8 552.3h2.5v2.7h-2.5zM103.2 552.3h2.5v2.7h-2.5zM219 552.3h7.2v2.7h-7.2zM230.8 552.3h4.9v2.7h-4.9zM245 552.3h4.9v2.7h-4.9zM256.8 552.3h2.5v2.7h-2.5zM273.3 552.3h7.2v2.7h-7.2zM46.5 554.9h9.6v2.7h-9.6zM58.3 554.9h2.5v2.7h-2.5zM70.1 554.9h4.9v2.7h-4.9zM77.2 554.9h4.9v2.7h-4.9zM84.3 554.9h2.5v2.7h-2.5zM91.4 554.9h2.5v2.7h-2.5zM223.7 554.9h2.5v2.7h-2.5zM230.8 554.9h2.5v2.7h-2.5zM247.3 554.9h2.5v2.7h-2.5zM252 554.9h2.5v2.7h-2.5zM261.5 554.9h2.5v2.7h-2.5zM270.9 554.9h2.5v2.7h-2.5zM275.7 554.9h2.5v2.7h-2.5zM55.9 557.4h2.5v2.7h-2.5zM65.4 557.4h2.5v2.7h-2.5zM70.1 557.4h2.5v2.7h-2.5zM74.8 557.4h7.2v2.7h-7.2zM84.3 557.4h2.5v2.7h-2.5zM89 557.4h2.5v2.7h-2.5zM112.7 557.4h2.5v2.7h-2.5zM122.1 557.4h2.5v2.7h-2.5zM230.8 557.4h4.9v2.7h-4.9zM252 557.4h4.9v2.7h-4.9zM270.9 557.4h4.9v2.7h-4.9zM278 557.4h2.5v2.7h-2.5zM48.9 560h2.5v2.7h-2.5zM60.7 560h4.9v2.7h-4.9zM70.1 560h2.5v2.7h-2.5zM74.8 560h2.5v2.7h-2.5zM112.7 560h2.5v2.7h-2.5zM216.6 560h2.5v2.7h-2.5zM226.1 560h2.5v2.7h-2.5zM242.6 560h2.5v2.7h-2.5zM247.3 560h7.2v2.7h-7.2zM261.5 560h2.5v2.7h-2.5zM273.3 560h2.5v2.7h-2.5zM278 560h4.9v2.7h-4.9zM65.4 562.6h2.5v2.7h-2.5zM70.1 562.6h4.9v2.7h-4.9zM93.8 562.6h2.5v2.7h-2.5zM235.5 562.6h2.5v2.7h-2.5zM245 562.6h4.9v2.7h-4.9zM252 562.6h2.5v2.7h-2.5zM259.1 562.6h7.2v2.7h-7.2zM270.9 562.6h4.9v2.7h-4.9zM280.4 562.6h2.5v2.7h-2.5zM46.5 565.2h2.5v2.7h-2.5zM72.5 565.2h2.5v2.7h-2.5zM245 565.2h4.9v2.7h-4.9zM254.4 565.2h2.5v2.7h-2.5zM259.1 565.2h2.5v2.7h-2.5zM266.2 565.2h4.9v2.7h-4.9zM278 565.2h7.2v2.7h-7.2zM252 567.8h2.5v2.7h-2.5zM263.8 567.8h9.6v2.7h-9.6zM275.7 567.8h4.9v2.7h-4.9zM261.5 570.4h2.5v2.7h-2.5zM268.6 570.4h2.5v2.7h-2.5zM273.3 570.4h2.5v2.7h-2.5zM263.8 572.9h4.9v2.7h-4.9zM278 572.9h2.5v2.7h-2.5zM282.7 572.9h2.5v2.7h-2.5zM287.5 572.9h2.5v2.7h-2.5zM219 575.5h2.5v2.7h-2.5zM270.9 575.5h2.5v2.7h-2.5zM275.7 575.5h4.9v2.7h-4.9zM285.1 575.5h4.9v2.7h-4.9zM270.9 578.1h2.5v2.7h-2.5zM278 578.1h9.6v2.7h-9.6zM185.9 580.7h2.5v2.7h-2.5zM275.7 580.7h4.9v2.7h-4.9zM287.5 580.7h4.9v2.7h-4.9zM183.5 583.3h2.5v2.7h-2.5zM287.5 583.3h2.5v2.7h-2.5zM285.1 585.9h2.5v2.7h-2.5zM119.7 588.4h2.5v2.7h-2.5zM285.1 588.4h2.5v2.7h-2.5zM63 591h2.5v2.7h-2.5zM98.5 596.2h2.5v2.7h-2.5zM86.7 598.8h2.5v2.7h-2.5zM107.9 606.5h2.5v2.7h-2.5zM122.1 606.5h2.5v2.7h-2.5zM280.4 609.1h2.5v2.7h-2.5zM185.9 611.7h2.5v2.7h-2.5zM195.3 611.7h2.5v2.7h-2.5zM91.4 622h2.5v2.7h-2.5zM93.8 632.3h2.5v2.7h-2.5zM167 634.9h2.5v2.7h-2.5zM263.8 640.1h2.5v2.7h-2.5zM152.8 642.7h2.5v2.7h-2.5zM152.8 645.2h2.5v2.7h-2.5zM74.8 663.3h2.5v2.7h-2.5zM112.7 668.4h2.5v2.7h-2.5zM122.1 668.4h2.5v2.7h-2.5zM133.9 671h2.5v2.7h-2.5zM247.3 686.5h4.9v2.7h-4.9zM53.6 694.2h2.5v2.7h-2.5zM53.6 696.8h2.5v2.7h-2.5zM233.1 699.4h2.5v2.7h-2.5zM181.2 704.5h2.5v2.7h-2.5zM233.1 704.5h2.5v2.7h-2.5zM223.7 707.1h2.5v2.7h-2.5zM230.8 707.1h2.5v2.7h-2.5zM230.8 709.7h2.5v2.7h-2.5zM223.7 712.2h2.5v2.7h-2.5zM164.6 717.4h2.5v2.7h-2.5zM223.7 717.4h7.2v2.7h-7.2zM223.7 720h9.6v2.7h-9.6zM226.1 725.1h2.5v2.7h-2.5zM219 727.7h2.5v2.7h-2.5zM223.7 727.7h4.9v2.7h-4.9zM221.3 730.3h4.9v2.7h-4.9z"/>
<path fill="#fa5014" d="M183.5 373.5h2.5v2.7h-2.5zM211.9 373.5h2.5v2.7h-2.5zM183.5 376.1h4.9v2.7h-4.9zM176.4 378.7h2.5v2.7h-2.5zM188.2 378.7h4.9v2.7h-4.9zM171.7 381.2h2.5v2.7h-2.5zM176.4 381.2h7.2v2.7h-7.2zM188.2 381.2h2.5v2.7h-2.5zM193 383.8h2.5v2.7h-2.5zM169.4 386.4h2.5v2.7h-2.5zM183.5 386.4h2.5v2.7h-2.5zM193 386.4h2.5v2.7h-2.5zM223.7 386.4h2.5v2.7h-2.5zM183.5 389h2.5v2.7h-2.5zM190.6 389h2.5v2.7h-2.5zM216.6 389h2.5v2.7h-2.5zM174.1 391.6h2.5v2.7h-2.5zM183.5 391.6h4.9v2.7h-4.9zM169.4 394.2h4.9v2.7h-4.9zM178.8 394.2h2.5v2.7h-2.5zM190.6 394.2h2.5v2.7h-2.5zM228.4 394.2h2.5v2.7h-2.5zM167 396.8h2.5v2.7h-2.5zM185.9 396.8h4.9v2.7h-4.9zM195.3 396.8h2.5v2.7h-2.5zM221.3 396.8h2.5v2.7h-2.5zM169.4 399.4h2.5v2.7h-2.5zM174.1 399.4h4.9v2.7h-4.9zM183.5 399.4h4.9v2.7h-4.9zM190.6 399.4h2.5v2.7h-2.5zM169.4 402h2.5v2.7h-2.5zM176.4 402h7.2v2.7h-7.2zM185.9 402h2.5v2.7h-2.5zM235.5 402h2.5v2.7h-2.5zM242.6 402h2.5v2.7h-2.5zM159.9 404.6h2.5v2.7h-2.5zM164.6 404.6h2.5v2.7h-2.5zM171.7 404.6h2.5v2.7h-2.5zM178.8 404.6h2.5v2.7h-2.5zM183.5 404.6h4.9v2.7h-4.9zM242.6 404.6h4.9v2.7h-4.9zM249.7 404.6h2.5v2.7h-2.5zM159.9 407.2h4.9v2.7h-4.9zM167 407.2h2.5v2.7h-2.5zM171.7 407.2h4.9v2.7h-4.9zM190.6 407.2h4.9v2.7h-4.9zM240.2 407.2h2.5v2.7h-2.5zM190.6 409.8h2.5v2.7h-2.5zM237.9 409.8h12v2.7h-12zM259.1 409.8h4.9v2.7h-4.9zM266.2 409.8h2.5v2.7h-2.5zM190.6 412.4h2.5v2.7h-2.5zM245 412.4h7.2v2.7h-7.2zM256.8 412.4h2.5v2.7h-2.5zM266.2 412.4h2.5v2.7h-2.5zM270.9 412.4h2.5v2.7h-2.5zM138.6 415h2.5v2.7h-2.5zM152.8 415h2.5v2.7h-2.5zM157.5 415h2.5v2.7h-2.5zM164.6 415h2.5v2.7h-2.5zM188.2 415h2.5v2.7h-2.5zM193 415h4.9v2.7h-4.9zM233.1 415h2.5v2.7h-2.5zM237.9 415h4.9v2.7h-4.9zM245 415h2.5v2.7h-2.5zM252 415h2.5v2.7h-2.5zM259.1 415h4.9v2.7h-4.9zM266.2 415h12v2.7h-12zM129.2 417.6h2.5v2.7h-2.5zM150.4 417.6h2.5v2.7h-2.5zM159.9 417.6h4.9v2.7h-4.9zM167 417.6h2.5v2.7h-2.5zM233.1 417.6h4.9v2.7h-4.9zM245 417.6h4.9v2.7h-4.9zM252 417.6h2.5v2.7h-2.5zM256.8 417.6h2.5v2.7h-2.5zM261.5 417.6h2.5v2.7h-2.5zM268.6 417.6h7.2v2.7h-7.2zM280.4 417.6h2.5v2.7h-2.5zM145.7 420.2h2.5v2.7h-2.5zM150.4 420.2h2.5v2.7h-2.5zM155.2 420.2h2.5v2.7h-2.5zM159.9 420.2h4.9v2.7h-4.9zM167 420.2h2.5v2.7h-2.5zM174.1 420.2h2.5v2.7h-2.5zM178.8 420.2h2.5v2.7h-2.5zM197.7 420.2h4.9v2.7h-4.9zM216.6 420.2h7.2v2.7h-7.2zM237.9 420.2h9.6v2.7h-9.6zM270.9 420.2h2.5v2.7h-2.5zM275.7 420.2h2.5v2.7h-2.5zM103.2 422.8h2.5v2.7h-2.5zM110.3 422.8h2.5v2.7h-2.5zM115 422.8h7.2v2.7h-7.2zM138.6 422.8h4.9v2.7h-4.9zM152.8 422.8h7.2v2.7h-7.2zM178.8 422.8h2.5v2.7h-2.5zM190.6 422.8h4.9v2.7h-4.9zM197.7 422.8h2.5v2.7h-2.5zM214.2 422.8h2.5v2.7h-2.5zM219 422.8h2.5v2.7h-2.5zM226.1 422.8h2.5v2.7h-2.5zM230.8 422.8h2.5v2.7h-2.5zM235.5 422.8h2.5v2.7h-2.5zM245 422.8h2.5v2.7h-2.5zM280.4 422.8h2.5v2.7h-2.5zM299.3 422.8h2.5v2.7h-2.5zM98.5 425.4h4.9v2.7h-4.9zM105.6 425.4h7.2v2.7h-7.2zM117.4 425.4h4.9v2.7h-4.9zM133.9 425.4h4.9v2.7h-4.9zM143.4 425.4h2.5v2.7h-2.5zM148.1 425.4h2.5v2.7h-2.5zM152.8 425.4h4.9v2.7h-4.9zM159.9 425.4h4.9v2.7h-4.9zM202.4 425.4h2.5v2.7h-2.5zM214.2 425.4h2.5v2.7h-2.5zM230.8 425.4h2.5v2.7h-2.5zM235.5 425.4h7.2v2.7h-7.2zM93.8 428h7.2v2.7h-7.2zM103.2 428h2.5v2.7h-2.5zM119.7 428h4.9v2.7h-4.9zM150.4 428h7.2v2.7h-7.2zM174.1 428h2.5v2.7h-2.5zM214.2 428h2.5v2.7h-2.5zM223.7 428h2.5v2.7h-2.5zM230.8 428h2.5v2.7h-2.5zM86.7 430.6h2.5v2.7h-2.5zM93.8 430.6h2.5v2.7h-2.5zM98.5 430.6h2.5v2.7h-2.5zM103.2 430.6h4.9v2.7h-4.9zM112.7 430.6h2.5v2.7h-2.5zM119.7 430.6h2.5v2.7h-2.5zM150.4 430.6h2.5v2.7h-2.5zM159.9 430.6h2.5v2.7h-2.5zM219 430.6h9.6v2.7h-9.6zM259.1 430.6h2.5v2.7h-2.5zM84.3 433.2h2.5v2.7h-2.5zM93.8 433.2h7.2v2.7h-7.2zM107.9 433.2h2.5v2.7h-2.5zM112.7 433.2h2.5v2.7h-2.5zM117.4 433.2h2.5v2.7h-2.5zM122.1 433.2h2.5v2.7h-2.5zM131.5 433.2h4.9v2.7h-4.9zM138.6 433.2h2.5v2.7h-2.5zM148.1 433.2h2.5v2.7h-2.5zM155.2 433.2h2.5v2.7h-2.5zM216.6 433.2h2.5v2.7h-2.5zM81.9 435.7h2.5v2.7h-2.5zM86.7 435.7h2.5v2.7h-2.5zM93.8 435.7h2.5v2.7h-2.5zM98.5 435.7h2.5v2.7h-2.5zM105.6 435.7h4.9v2.7h-4.9zM115 435.7h4.9v2.7h-4.9zM122.1 435.7h4.9v2.7h-4.9zM129.2 435.7h2.5v2.7h-2.5zM138.6 435.7h2.5v2.7h-2.5zM143.4 435.7h12v2.7h-12zM207.1 435.7h2.5v2.7h-2.5zM72.5 438.3h4.9v2.7h-4.9zM84.3 438.3h19v2.7h-19zM105.6 438.3h9.6v2.7h-9.6zM117.4 438.3h2.5v2.7h-2.5zM124.5 438.3h2.5v2.7h-2.5zM129.2 438.3h2.5v2.7h-2.5zM133.9 438.3h2.5v2.7h-2.5zM143.4 438.3h7.2v2.7h-7.2zM152.8 438.3h4.9v2.7h-4.9zM164.6 438.3h2.5v2.7h-2.5zM209.5 438.3h2.5v2.7h-2.5zM67.8 440.9h2.5v2.7h-2.5zM74.8 440.9h7.2v2.7h-7.2zM84.3 440.9h2.5v2.7h-2.5zM91.4 440.9h2.5v2.7h-2.5zM98.5 440.9h2.5v2.7h-2.5zM103.2 440.9h4.9v2.7h-4.9zM112.7 440.9h2.5v2.7h-2.5zM117.4 440.9h2.5v2.7h-2.5zM126.8 440.9h12v2.7h-12zM143.4 440.9h2.5v2.7h-2.5zM150.4 440.9h2.5v2.7h-2.5zM209.5 440.9h2.5v2.7h-2.5zM58.3 443.5h4.9v2.7h-4.9zM67.8 443.5h2.5v2.7h-2.5zM79.6 443.5h2.5v2.7h-2.5zM86.7 443.5h4.9v2.7h-4.9zM93.8 443.5h2.5v2.7h-2.5zM98.5 443.5h7.2v2.7h-7.2zM117.4 443.5h2.5v2.7h-2.5zM126.8 443.5h2.5v2.7h-2.5zM138.6 443.5h7.2v2.7h-7.2zM157.5 443.5h2.5v2.7h-2.5zM209.5 443.5h2.5v2.7h-2.5zM233.1 443.5h2.5v2.7h-2.5zM55.9 446.1h4.9v2.7h-4.9zM65.4 446.1h23.8v2.7h-23.8zM91.4 446.1h7.2v2.7h-7.2zM103.2 446.1h2.5v2.7h-2.5zM107.9 446.1h2.5v2.7h-2.5zM112.7 446.1h2.5v2.7h-2.5zM117.4 446.1h2.5v2.7h-2.5zM124.5 446.1h2.5v2.7h-2.5zM131.5 446.1h2.5v2.7h-2.5zM138.6 446.1h4.9v2.7h-4.9zM145.7 446.1h2.5v2.7h-2.5zM207.1 446.1h4.9v2.7h-4.9zM53.6 448.7h2.5v2.7h-2.5zM58.3 448.7h2.5v2.7h-2.5zM70.1 448.7h7.2v2.7h-7.2zM86.7 448.7h4.9v2.7h-4.9zM93.8 448.7h2.5v2.7h-2.5zM100.8 448.7h2.5v2.7h-2.5zM131.5 448.7h2.5v2.7h-2.5zM138.6 448.7h4.9v2.7h-4.9zM209.5 448.7h2.5v2.7h-2.5zM51.2 451.3h4.9v2.7h-4.9zM58.3 451.3h9.6v2.7h-9.6zM74.8 451.3h2.5v2.7h-2.5zM81.9 451.3h2.5v2.7h-2.5zM86.7 451.3h7.2v2.7h-7.2zM96.1 451.3h4.9v2.7h-4.9zM103.2 451.3h2.5v2.7h-2.5zM136.3 451.3h4.9v2.7h-4.9zM143.4 451.3h2.5v2.7h-2.5zM155.2 451.3h2.5v2.7h-2.5zM176.4 451.3h2.5v2.7h-2.5zM195.3 451.3h2.5v2.7h-2.5zM204.8 451.3h2.5v2.7h-2.5zM209.5 451.3h2.5v2.7h-2.5zM55.9 453.9h2.5v2.7h-2.5zM60.7 453.9h2.5v2.7h-2.5zM70.1 453.9h14.3v2.7h-14.3zM93.8 453.9h14.3v2.7h-14.3zM112.7 453.9h4.9v2.7h-4.9zM119.7 453.9h2.5v2.7h-2.5zM131.5 453.9h2.5v2.7h-2.5zM171.7 453.9h2.5v2.7h-2.5zM209.5 453.9h2.5v2.7h-2.5zM48.9 456.5h7.2v2.7h-7.2zM58.3 456.5h2.5v2.7h-2.5zM63 456.5h2.5v2.7h-2.5zM67.8 456.5h2.5v2.7h-2.5zM79.6 456.5h2.5v2.7h-2.5zM84.3 456.5h14.3v2.7h-14.3zM103.2 456.5h2.5v2.7h-2.5zM107.9 456.5h2.5v2.7h-2.5zM115 456.5h2.5v2.7h-2.5zM122.1 456.5h2.5v2.7h-2.5zM129.2 456.5h4.9v2.7h-4.9zM141 456.5h7.2v2.7h-7.2zM200.1 456.5h4.9v2.7h-4.9zM55.9 459.1h2.5v2.7h-2.5zM63 459.1h2.5v2.7h-2.5zM70.1 459.1h12v2.7h-12zM84.3 459.1h14.3v2.7h-14.3zM100.8 459.1h2.5v2.7h-2.5zM105.6 459.1h4.9v2.7h-4.9zM131.5 459.1h4.9v2.7h-4.9zM138.6 459.1h2.5v2.7h-2.5zM143.4 459.1h4.9v2.7h-4.9zM167 459.1h2.5v2.7h-2.5zM204.8 459.1h4.9v2.7h-4.9zM211.9 459.1h2.5v2.7h-2.5zM46.5 461.7h7.2v2.7h-7.2zM60.7 461.7h4.9v2.7h-4.9zM67.8 461.7h2.5v2.7h-2.5zM77.2 461.7h9.6v2.7h-9.6zM93.8 461.7h7.2v2.7h-7.2zM105.6 461.7h2.5v2.7h-2.5zM124.5 461.7h4.9v2.7h-4.9zM131.5 461.7h4.9v2.7h-4.9zM141 461.7h4.9v2.7h-4.9zM157.5 461.7h2.5v2.7h-2.5zM200.1 461.7h2.5v2.7h-2.5zM204.8 461.7h2.5v2.7h-2.5zM209.5 461.7h2.5v2.7h-2.5zM46.5 464.3h2.5v2.7h-2.5zM55.9 464.3h2.5v2.7h-2.5zM70.1 464.3h7.2v2.7h-7.2zM89 464.3h2.5v2.7h-2.5zM93.8 464.3h12v2.7h-12zM119.7 464.3h4.9v2.7h-4.9zM126.8 464.3h2.5v2.7h-2.5zM141 464.3h2.5v2.7h-2.5zM152.8 464.3h9.6v2.7h-9.6zM164.6 464.3h4.9v2.7h-4.9zM174.1 464.3h2.5v2.7h-2.5zM181.2 464.3h2.5v2.7h-2.5zM207.1 464.3h4.9v2.7h-4.9zM46.5 466.9h9.6v2.7h-9.6zM67.8 466.9h4.9v2.7h-4.9zM74.8 466.9h2.5v2.7h-2.5zM79.6 466.9h2.5v2.7h-2.5zM84.3 466.9h4.9v2.7h-4.9zM91.4 466.9h4.9v2.7h-4.9zM100.8 466.9h4.9v2.7h-4.9zM107.9 466.9h2.5v2.7h-2.5zM122.1 466.9h2.5v2.7h-2.5zM126.8 466.9h7.2v2.7h-7.2zM138.6 466.9h2.5v2.7h-2.5zM145.7 466.9h2.5v2.7h-2.5zM167 466.9h4.9v2.7h-4.9zM181.2 466.9h2.5v2.7h-2.5zM204.8 466.9h2.5v2.7h-2.5zM209.5 466.9h2.5v2.7h-2.5zM46.5 469.4h2.5v2.7h-2.5zM51.2 469.4h4.9v2.7h-4.9zM63 469.4h7.2v2.7h-7.2zM77.2 469.4h2.5v2.7h-2.5zM89 469.4h2.5v2.7h-2.5zM96.1 469.4h7.2v2.7h-7.2zM107.9 469.4h2.5v2.7h-2.5zM112.7 469.4h2.5v2.7h-2.5zM117.4 469.4h2.5v2.7h-2.5zM133.9 469.4h4.9v2.7h-4.9zM150.4 469.4h9.6v2.7h-9.6zM162.3 469.4h2.5v2.7h-2.5zM174.1 469.4h2.5v2.7h-2.5zM178.8 469.4h2.5v2.7h-2.5zM195.3 469.4h2.5v2.7h-2.5zM202.4 469.4h2.5v2.7h-2.5zM46.5 472h7.2v2.7h-7.2zM60.7 472h9.6v2.7h-9.6zM74.8 472h2.5v2.7h-2.5zM81.9 472h4.9v2.7h-4.9zM93.8 472h9.6v2.7h-9.6zM110.3 472h2.5v2.7h-2.5zM122.1 472h9.6v2.7h-9.6zM133.9 472h2.5v2.7h-2.5zM138.6 472h4.9v2.7h-4.9zM148.1 472h4.9v2.7h-4.9zM155.2 472h4.9v2.7h-4.9zM169.4 472h9.6v2.7h-9.6zM51.2 474.6h9.6v2.7h-9.6zM65.4 474.6h4.9v2.7h-4.9zM72.5 474.6h2.5v2.7h-2.5zM81.9 474.6h2.5v2.7h-2.5zM91.4 474.6h4.9v2.7h-4.9zM100.8 474.6h2.5v2.7h-2.5zM105.6 474.6h2.5v2.7h-2.5zM110.3 474.6h2.5v2.7h-2.5zM115 474.6h12v2.7h-12zM129.2 474.6h4.9v2.7h-4.9zM138.6 474.6h9.6v2.7h-9.6zM157.5 474.6h2.5v2.7h-2.5zM169.4 474.6h7.2v2.7h-7.2zM181.2 474.6h2.5v2.7h-2.5zM185.9 474.6h2.5v2.7h-2.5zM46.5 477.2h4.9v2.7h-4.9zM53.6 477.2h7.2v2.7h-7.2zM63 477.2h7.2v2.7h-7.2zM72.5 477.2h2.5v2.7h-2.5zM81.9 477.2h2.5v2.7h-2.5zM86.7 477.2h2.5v2.7h-2.5zM91.4 477.2h2.5v2.7h-2.5zM107.9 477.2h2.5v2.7h-2.5zM122.1 477.2h7.2v2.7h-7.2zM131.5 477.2h7.2v2.7h-7.2zM178.8 477.2h2.5v2.7h-2.5zM195.3 477.2h7.2v2.7h-7.2zM53.6 479.8h2.5v2.7h-2.5zM70.1 479.8h9.6v2.7h-9.6zM84.3 479.8h2.5v2.7h-2.5zM91.4 479.8h9.6v2.7h-9.6zM105.6 479.8h4.9v2.7h-4.9zM115 479.8h2.5v2.7h-2.5zM119.7 479.8h4.9v2.7h-4.9zM126.8 479.8h9.6v2.7h-9.6zM195.3 479.8h7.2v2.7h-7.2zM46.5 482.4h2.5v2.7h-2.5zM53.6 482.4h2.5v2.7h-2.5zM60.7 482.4h2.5v2.7h-2.5zM72.5 482.4h2.5v2.7h-2.5zM77.2 482.4h2.5v2.7h-2.5zM81.9 482.4h7.2v2.7h-7.2zM91.4 482.4h4.9v2.7h-4.9zM103.2 482.4h2.5v2.7h-2.5zM110.3 482.4h9.6v2.7h-9.6zM126.8 482.4h4.9v2.7h-4.9zM48.9 485h9.6v2.7h-9.6zM67.8 485h2.5v2.7h-2.5zM79.6 485h2.5v2.7h-2.5zM86.7 485h4.9v2.7h-4.9zM96.1 485h2.5v2.7h-2.5zM100.8 485h2.5v2.7h-2.5zM107.9 485h2.5v2.7h-2.5zM115 485h4.9v2.7h-4.9zM124.5 485h9.6v2.7h-9.6zM46.5 487.6h2.5v2.7h-2.5zM51.2 487.6h14.3v2.7h-14.3zM70.1 487.6h9.6v2.7h-9.6zM98.5 487.6h2.5v2.7h-2.5zM110.3 487.6h2.5v2.7h-2.5zM117.4 487.6h7.2v2.7h-7.2zM129.2 487.6h2.5v2.7h-2.5zM55.9 490.2h2.5v2.7h-2.5zM65.4 490.2h4.9v2.7h-4.9zM72.5 490.2h12v2.7h-12zM115 490.2h9.6v2.7h-9.6zM126.8 490.2h2.5v2.7h-2.5zM46.5 492.8h9.6v2.7h-9.6zM79.6 492.8h2.5v2.7h-2.5zM89 492.8h2.5v2.7h-2.5zM96.1 492.8h2.5v2.7h-2.5zM110.3 492.8h4.9v2.7h-4.9zM119.7 492.8h4.9v2.7h-4.9zM280.4 492.8h2.5v2.7h-2.5zM46.5 495.3h2.5v2.7h-2.5zM53.6 495.3h2.5v2.7h-2.5zM63 495.3h2.5v2.7h-2.5zM91.4 495.3h2.5v2.7h-2.5zM98.5 495.3h4.9v2.7h-4.9zM105.6 495.3h2.5v2.7h-2.5zM110.3 495.3h2.5v2.7h-2.5zM115 495.3h4.9v2.7h-4.9zM51.2 497.9h2.5v2.7h-2.5zM96.1 497.9h4.9v2.7h-4.9zM107.9 497.9h4.9v2.7h-4.9zM115 497.9h2.5v2.7h-2.5zM119.7 497.9h2.5v2.7h-2.5zM48.9 500.5h7.2v2.7h-7.2zM91.4 500.5h4.9v2.7h-4.9zM98.5 500.5h4.9v2.7h-4.9zM105.6 500.5h2.5v2.7h-2.5zM110.3 500.5h2.5v2.7h-2.5zM119.7 500.5h2.5v2.7h-2.5zM48.9 503.1h4.9v2.7h-4.9zM55.9 503.1h2.5v2.7h-2.5zM91.4 503.1h2.5v2.7h-2.5zM96.1 503.1h12v2.7h-12zM110.3 503.1h2.5v2.7h-2.5zM115 503.1h2.5v2.7h-2.5zM119.7 503.1h2.5v2.7h-2.5zM48.9 505.7h7.2v2.7h-7.2zM93.8 505.7h2.5v2.7h-2.5zM103.2 505.7h14.3v2.7h-14.3zM263.8 505.7h2.5v2.7h-2.5zM270.9 505.7h2.5v2.7h-2.5zM53.6 508.3h2.5v2.7h-2.5zM58.3 508.3h2.5v2.7h-2.5zM107.9 508.3h2.5v2.7h-2.5zM261.5 508.3h2.5v2.7h-2.5zM46.5 510.9h9.6v2.7h-9.6zM268.6 510.9h2.5v2.7h-2.5zM46.5 513.5h2.5v2.7h-2.5zM55.9 513.5h4.9v2.7h-4.9zM112.7 513.5h2.5v2.7h-2.5zM270.9 513.5h2.5v2.7h-2.5zM275.7 513.5h2.5v2.7h-2.5zM51.2 516.1h2.5v2.7h-2.5zM74.8 516.1h4.9v2.7h-4.9zM93.8 516.1h2.5v2.7h-2.5zM254.4 516.1h2.5v2.7h-2.5zM270.9 516.1h2.5v2.7h-2.5zM46.5 518.6h9.6v2.7h-9.6zM63 518.6h7.2v2.7h-7.2zM72.5 518.6h4.9v2.7h-4.9zM91.4 518.6h7.2v2.7h-7.2zM270.9 518.6h4.9v2.7h-4.9zM60.7 521.2h2.5v2.7h-2.5zM65.4 521.2h2.5v2.7h-2.5zM77.2 521.2h4.9v2.7h-4.9zM86.7 521.2h2.5v2.7h-2.5zM256.8 521.2h2.5v2.7h-2.5zM268.6 521.2h2.5v2.7h-2.5zM273.3 521.2h2.5v2.7h-2.5zM55.9 523.8h4.9v2.7h-4.9zM65.4 523.8h2.5v2.7h-2.5zM79.6 523.8h2.5v2.7h-2.5zM100.8 523.8h2.5v2.7h-2.5zM247.3 523.8h2.5v2.7h-2.5zM252 523.8h4.9v2.7h-4.9zM270.9 523.8h2.5v2.7h-2.5zM48.9 526.4h2.5v2.7h-2.5zM55.9 526.4h2.5v2.7h-2.5zM60.7 526.4h4.9v2.7h-4.9zM67.8 526.4h2.5v2.7h-2.5zM79.6 526.4h2.5v2.7h-2.5zM93.8 526.4h2.5v2.7h-2.5zM107.9 526.4h2.5v2.7h-2.5zM247.3 526.4h2.5v2.7h-2.5zM256.8 526.4h4.9v2.7h-4.9zM275.7 526.4h2.5v2.7h-2.5zM46.5 529h2.5v2.7h-2.5zM55.9 529h7.2v2.7h-7.2zM65.4 529h4.9v2.7h-4.9zM74.8 529h2.5v2.7h-2.5zM91.4 529h2.5v2.7h-2.5zM98.5 529h2.5v2.7h-2.5zM252 529h2.5v2.7h-2.5zM261.5 529h2.5v2.7h-2.5zM270.9 529h2.5v2.7h-2.5zM46.5 531.6h4.9v2.7h-4.9zM53.6 531.6h7.2v2.7h-7.2zM63 531.6h4.9v2.7h-4.9zM70.1 531.6h7.2v2.7h-7.2zM79.6 531.6h2.5v2.7h-2.5zM84.3 531.6h2.5v2.7h-2.5zM93.8 531.6h2.5v2.7h-2.5zM100.8 531.6h2.5v2.7h-2.5zM249.7 531.6h2.5v2.7h-2.5zM256.8 531.6h2.5v2.7h-2.5zM268.6 531.6h2.5v2.7h-2.5zM48.9 534.2h4.9v2.7h-4.9zM55.9 534.2h4.9v2.7h-4.9zM81.9 534.2h4.9v2.7h-4.9zM89 534.2h2.5v2.7h-2.5zM98.5 534.2h2.5v2.7h-2.5zM245 534.2h7.2v2.7h-7.2zM254.4 534.2h2.5v2.7h-2.5zM46.5 536.8h2.5v2.7h-2.5zM60.7 536.8h2.5v2.7h-2.5zM65.4 536.8h2.5v2.7h-2.5zM72.5 536.8h2.5v2.7h-2.5zM77.2 536.8h2.5v2.7h-2.5zM81.9 536.8h4.9v2.7h-4.9zM242.6 536.8h2.5v2.7h-2.5zM254.4 536.8h2.5v2.7h-2.5zM259.1 536.8h2.5v2.7h-2.5zM48.9 539.3h2.5v2.7h-2.5zM53.6 539.3h2.5v2.7h-2.5zM65.4 539.3h2.5v2.7h-2.5zM70.1 539.3h2.5v2.7h-2.5zM74.8 539.3h2.5v2.7h-2.5zM84.3 539.3h2.5v2.7h-2.5zM93.8 539.3h2.5v2.7h-2.5zM240.2 539.3h2.5v2.7h-2.5zM245 539.3h2.5v2.7h-2.5zM256.8 539.3h2.5v2.7h-2.5zM266.2 539.3h2.5v2.7h-2.5zM48.9 541.9h4.9v2.7h-4.9zM58.3 541.9h2.5v2.7h-2.5zM65.4 541.9h2.5v2.7h-2.5zM70.1 541.9h7.2v2.7h-7.2zM79.6 541.9h4.9v2.7h-4.9zM89 541.9h2.5v2.7h-2.5zM96.1 541.9h2.5v2.7h-2.5zM233.1 541.9h2.5v2.7h-2.5zM245 541.9h4.9v2.7h-4.9zM266.2 541.9h2.5v2.7h-2.5zM48.9 544.5h9.6v2.7h-9.6zM63 544.5h2.5v2.7h-2.5zM70.1 544.5h7.2v2.7h-7.2zM81.9 544.5h2.5v2.7h-2.5zM237.9 544.5h2.5v2.7h-2.5zM242.6 544.5h4.9v2.7h-4.9zM252 544.5h2.5v2.7h-2.5zM259.1 544.5h2.5v2.7h-2.5zM266.2 544.5h4.9v2.7h-4.9zM273.3 544.5h7.2v2.7h-7.2zM63 547.1h2.5v2.7h-2.5zM79.6 547.1h2.5v2.7h-2.5zM86.7 547.1h2.5v2.7h-2.5zM93.8 547.1h2.5v2.7h-2.5zM235.5 547.1h2.5v2.7h-2.5zM242.6 547.1h7.2v2.7h-7.2zM261.5 547.1h2.5v2.7h-2.5zM268.6 547.1h2.5v2.7h-2.5zM275.7 547.1h4.9v2.7h-4.9zM72.5 549.7h4.9v2.7h-4.9zM228.4 549.7h2.5v2.7h-2.5zM249.7 549.7h7.2v2.7h-7.2zM259.1 549.7h2.5v2.7h-2.5zM266.2 549.7h7.2v2.7h-7.2zM107.9 552.3h2.5v2.7h-2.5zM226.1 552.3h2.5v2.7h-2.5zM237.9 552.3h2.5v2.7h-2.5zM252 552.3h2.5v2.7h-2.5zM261.5 552.3h2.5v2.7h-2.5zM266.2 552.3h7.2v2.7h-7.2zM240.2 554.9h2.5v2.7h-2.5zM249.7 554.9h2.5v2.7h-2.5zM254.4 554.9h2.5v2.7h-2.5zM266.2 554.9h2.5v2.7h-2.5zM245 557.4h4.9v2.7h-4.9zM263.8 557.4h2.5v2.7h-2.5zM268.6 557.4h2.5v2.7h-2.5zM275.7 557.4h2.5v2.7h-2.5zM280.4 557.4h2.5v2.7h-2.5zM245 560h2.5v2.7h-2.5zM259.1 560h2.5v2.7h-2.5zM263.8 560h2.5v2.7h-2.5zM268.6 560h4.9v2.7h-4.9zM275.7 560h2.5v2.7h-2.5zM254.4 562.6h4.9v2.7h-4.9zM266.2 562.6h2.5v2.7h-2.5zM282.7 562.6h2.5v2.7h-2.5zM65.4 565.2h2.5v2.7h-2.5zM273.3 565.2h2.5v2.7h-2.5zM259.1 567.8h4.9v2.7h-4.9zM273.3 567.8h2.5v2.7h-2.5zM282.7 567.8h4.9v2.7h-4.9zM266.2 570.4h2.5v2.7h-2.5zM280.4 570.4h4.9v2.7h-4.9zM270.9 572.9h4.9v2.7h-4.9zM273.3 580.7h2.5v2.7h-2.5zM280.4 580.7h2.5v2.7h-2.5zM285.1 580.7h2.5v2.7h-2.5zM280.4 583.3h2.5v2.7h-2.5zM285.1 583.3h2.5v2.7h-2.5zM221.3 712.2h2.5v2.7h-2.5zM228.4 712.2h2.5v2.7h-2.5zM226.1 722.5h2.5v2.7h-2.5z"/>
<path fill="#b8441c" d="M183.5 383.8h2.5v2.7h-2.5zM226.1 383.8h2.5v2.7h-2.5zM190.6 386.4h2.5v2.7h-2.5zM221.3 386.4h2.5v2.7h-2.5zM228.4 389h2.5v2.7h-2.5zM188.2 391.6h2.5v2.7h-2.5zM197.7 391.6h2.5v2.7h-2.5zM233.1 391.6h2.5v2.7h-2.5zM174.1 394.2h2.5v2.7h-2.5zM188.2 394.2h2.5v2.7h-2.5zM181.2 396.8h2.5v2.7h-2.5zM197.7 396.8h2.5v2.7h-2.5zM233.1 396.8h4.9v2.7h-4.9zM228.4 399.4h2.5v2.7h-2.5zM176.4 404.6h2.5v2.7h-2.5zM181.2 404.6h2.5v2.7h-2.5zM188.2 404.6h2.5v2.7h-2.5zM193 404.6h2.5v2.7h-2.5zM237.9 404.6h2.5v2.7h-2.5zM178.8 407.2h2.5v2.7h-2.5zM185.9 407.2h4.9v2.7h-4.9zM195.3 407.2h2.5v2.7h-2.5zM247.3 407.2h2.5v2.7h-2.5zM254.4 407.2h2.5v2.7h-2.5zM171.7 409.8h2.5v2.7h-2.5zM178.8 409.8h2.5v2.7h-2.5zM183.5 409.8h7.2v2.7h-7.2zM193 409.8h2.5v2.7h-2.5zM249.7 409.8h9.6v2.7h-9.6zM263.8 409.8h2.5v2.7h-2.5zM171.7 412.4h2.5v2.7h-2.5zM178.8 412.4h2.5v2.7h-2.5zM185.9 412.4h4.9v2.7h-4.9zM237.9 412.4h2.5v2.7h-2.5zM252 412.4h2.5v2.7h-2.5zM263.8 412.4h2.5v2.7h-2.5zM268.6 412.4h2.5v2.7h-2.5zM171.7 415h4.9v2.7h-4.9zM178.8 415h4.9v2.7h-4.9zM185.9 415h2.5v2.7h-2.5zM242.6 415h2.5v2.7h-2.5zM247.3 415h4.9v2.7h-4.9zM254.4 415h4.9v2.7h-4.9zM263.8 415h2.5v2.7h-2.5zM157.5 417.6h2.5v2.7h-2.5zM164.6 417.6h2.5v2.7h-2.5zM169.4 417.6h16.7v2.7h-16.7zM188.2 417.6h7.2v2.7h-7.2zM197.7 417.6h4.9v2.7h-4.9zM237.9 417.6h2.5v2.7h-2.5zM164.6 420.2h2.5v2.7h-2.5zM183.5 420.2h2.5v2.7h-2.5zM235.5 420.2h2.5v2.7h-2.5zM268.6 420.2h2.5v2.7h-2.5zM273.3 420.2h2.5v2.7h-2.5zM112.7 422.8h2.5v2.7h-2.5zM148.1 422.8h2.5v2.7h-2.5zM159.9 422.8h7.2v2.7h-7.2zM169.4 422.8h7.2v2.7h-7.2zM181.2 422.8h4.9v2.7h-4.9zM188.2 422.8h2.5v2.7h-2.5zM195.3 422.8h2.5v2.7h-2.5zM200.1 422.8h2.5v2.7h-2.5zM221.3 422.8h4.9v2.7h-4.9zM228.4 422.8h2.5v2.7h-2.5zM233.1 422.8h2.5v2.7h-2.5zM237.9 422.8h2.5v2.7h-2.5zM103.2 425.4h2.5v2.7h-2.5zM112.7 425.4h2.5v2.7h-2.5zM150.4 425.4h2.5v2.7h-2.5zM171.7 425.4h2.5v2.7h-2.5zM176.4 425.4h2.5v2.7h-2.5zM197.7 425.4h2.5v2.7h-2.5zM207.1 425.4h7.2v2.7h-7.2zM216.6 425.4h9.6v2.7h-9.6zM228.4 425.4h2.5v2.7h-2.5zM233.1 425.4h2.5v2.7h-2.5zM105.6 428h7.2v2.7h-7.2zM115 428h2.5v2.7h-2.5zM157.5 428h7.2v2.7h-7.2zM167 428h2.5v2.7h-2.5zM171.7 428h2.5v2.7h-2.5zM176.4 428h4.9v2.7h-4.9zM195.3 428h4.9v2.7h-4.9zM202.4 428h7.2v2.7h-7.2zM216.6 428h2.5v2.7h-2.5zM228.4 428h2.5v2.7h-2.5zM91.4 430.6h2.5v2.7h-2.5zM100.8 430.6h2.5v2.7h-2.5zM107.9 430.6h4.9v2.7h-4.9zM115 430.6h2.5v2.7h-2.5zM152.8 430.6h2.5v2.7h-2.5zM162.3 430.6h4.9v2.7h-4.9zM174.1 430.6h4.9v2.7h-4.9zM181.2 430.6h2.5v2.7h-2.5zM197.7 430.6h2.5v2.7h-2.5zM202.4 430.6h12v2.7h-12zM230.8 430.6h2.5v2.7h-2.5zM81.9 433.2h2.5v2.7h-2.5zM86.7 433.2h2.5v2.7h-2.5zM110.3 433.2h2.5v2.7h-2.5zM119.7 433.2h2.5v2.7h-2.5zM152.8 433.2h2.5v2.7h-2.5zM159.9 433.2h2.5v2.7h-2.5zM164.6 433.2h2.5v2.7h-2.5zM171.7 433.2h4.9v2.7h-4.9zM178.8 433.2h2.5v2.7h-2.5zM183.5 433.2h2.5v2.7h-2.5zM202.4 433.2h2.5v2.7h-2.5zM207.1 433.2h7.2v2.7h-7.2zM74.8 435.7h2.5v2.7h-2.5zM79.6 435.7h2.5v2.7h-2.5zM89 435.7h2.5v2.7h-2.5zM96.1 435.7h2.5v2.7h-2.5zM110.3 435.7h4.9v2.7h-4.9zM155.2 435.7h2.5v2.7h-2.5zM159.9 435.7h4.9v2.7h-4.9zM167 435.7h2.5v2.7h-2.5zM178.8 435.7h2.5v2.7h-2.5zM79.6 438.3h4.9v2.7h-4.9zM119.7 438.3h4.9v2.7h-4.9zM136.3 438.3h7.2v2.7h-7.2zM159.9 438.3h2.5v2.7h-2.5zM167 438.3h2.5v2.7h-2.5zM185.9 438.3h2.5v2.7h-2.5zM200.1 438.3h2.5v2.7h-2.5zM207.1 438.3h2.5v2.7h-2.5zM63 440.9h2.5v2.7h-2.5zM70.1 440.9h2.5v2.7h-2.5zM93.8 440.9h4.9v2.7h-4.9zM107.9 440.9h4.9v2.7h-4.9zM115 440.9h2.5v2.7h-2.5zM122.1 440.9h4.9v2.7h-4.9zM159.9 440.9h7.2v2.7h-7.2zM171.7 440.9h2.5v2.7h-2.5zM195.3 440.9h2.5v2.7h-2.5zM200.1 440.9h7.2v2.7h-7.2zM70.1 443.5h4.9v2.7h-4.9zM77.2 443.5h2.5v2.7h-2.5zM81.9 443.5h2.5v2.7h-2.5zM91.4 443.5h2.5v2.7h-2.5zM105.6 443.5h2.5v2.7h-2.5zM110.3 443.5h7.2v2.7h-7.2zM119.7 443.5h7.2v2.7h-7.2zM129.2 443.5h9.6v2.7h-9.6zM145.7 443.5h4.9v2.7h-4.9zM155.2 443.5h2.5v2.7h-2.5zM164.6 443.5h2.5v2.7h-2.5zM171.7 443.5h2.5v2.7h-2.5zM181.2 443.5h2.5v2.7h-2.5zM188.2 443.5h2.5v2.7h-2.5zM202.4 443.5h7.2v2.7h-7.2zM60.7 446.1h4.9v2.7h-4.9zM89 446.1h2.5v2.7h-2.5zM110.3 446.1h2.5v2.7h-2.5zM115 446.1h2.5v2.7h-2.5zM119.7 446.1h2.5v2.7h-2.5zM126.8 446.1h4.9v2.7h-4.9zM133.9 446.1h2.5v2.7h-2.5zM150.4 446.1h9.6v2.7h-9.6zM195.3 446.1h2.5v2.7h-2.5zM204.8 446.1h2.5v2.7h-2.5zM55.9 448.7h2.5v2.7h-2.5zM60.7 448.7h9.6v2.7h-9.6zM79.6 448.7h7.2v2.7h-7.2zM96.1 448.7h2.5v2.7h-2.5zM103.2 448.7h4.9v2.7h-4.9zM110.3 448.7h14.3v2.7h-14.3zM133.9 448.7h4.9v2.7h-4.9zM143.4 448.7h2.5v2.7h-2.5zM150.4 448.7h2.5v2.7h-2.5zM157.5 448.7h2.5v2.7h-2.5zM162.3 448.7h2.5v2.7h-2.5zM167 448.7h2.5v2.7h-2.5zM174.1 448.7h2.5v2.7h-2.5zM181.2 448.7h4.9v2.7h-4.9zM190.6 448.7h2.5v2.7h-2.5zM202.4 448.7h2.5v2.7h-2.5zM207.1 448.7h2.5v2.7h-2.5zM211.9 448.7h4.9v2.7h-4.9zM67.8 451.3h4.9v2.7h-4.9zM77.2 451.3h2.5v2.7h-2.5zM84.3 451.3h2.5v2.7h-2.5zM100.8 451.3h2.5v2.7h-2.5zM107.9 451.3h14.3v2.7h-14.3zM124.5 451.3h9.6v2.7h-9.6zM141 451.3h2.5v2.7h-2.5zM150.4 451.3h4.9v2.7h-4.9zM171.7 451.3h2.5v2.7h-2.5zM181.2 451.3h9.6v2.7h-9.6zM193 451.3h2.5v2.7h-2.5zM197.7 451.3h2.5v2.7h-2.5zM65.4 453.9h2.5v2.7h-2.5zM84.3 453.9h4.9v2.7h-4.9zM91.4 453.9h2.5v2.7h-2.5zM107.9 453.9h2.5v2.7h-2.5zM122.1 453.9h4.9v2.7h-4.9zM133.9 453.9h2.5v2.7h-2.5zM150.4 453.9h7.2v2.7h-7.2zM159.9 453.9h2.5v2.7h-2.5zM169.4 453.9h2.5v2.7h-2.5zM181.2 453.9h4.9v2.7h-4.9zM195.3 453.9h2.5v2.7h-2.5zM204.8 453.9h4.9v2.7h-4.9zM55.9 456.5h2.5v2.7h-2.5zM70.1 456.5h9.6v2.7h-9.6zM105.6 456.5h2.5v2.7h-2.5zM110.3 456.5h2.5v2.7h-2.5zM117.4 456.5h2.5v2.7h-2.5zM124.5 456.5h4.9v2.7h-4.9zM138.6 456.5h2.5v2.7h-2.5zM152.8 456.5h2.5v2.7h-2.5zM164.6 456.5h2.5v2.7h-2.5zM169.4 456.5h2.5v2.7h-2.5zM183.5 456.5h2.5v2.7h-2.5zM197.7 456.5h2.5v2.7h-2.5zM204.8 456.5h2.5v2.7h-2.5zM51.2 459.1h2.5v2.7h-2.5zM60.7 459.1h2.5v2.7h-2.5zM110.3 459.1h21.4v2.7h-21.4zM150.4 459.1h2.5v2.7h-2.5zM155.2 459.1h2.5v2.7h-2.5zM159.9 459.1h7.2v2.7h-7.2zM169.4 459.1h2.5v2.7h-2.5zM176.4 459.1h2.5v2.7h-2.5zM197.7 459.1h2.5v2.7h-2.5zM202.4 459.1h2.5v2.7h-2.5zM209.5 459.1h2.5v2.7h-2.5zM70.1 461.7h2.5v2.7h-2.5zM103.2 461.7h2.5v2.7h-2.5zM107.9 461.7h16.7v2.7h-16.7zM129.2 461.7h2.5v2.7h-2.5zM145.7 461.7h9.6v2.7h-9.6zM159.9 461.7h2.5v2.7h-2.5zM164.6 461.7h4.9v2.7h-4.9zM178.8 461.7h2.5v2.7h-2.5zM188.2 461.7h4.9v2.7h-4.9zM195.3 461.7h4.9v2.7h-4.9zM202.4 461.7h2.5v2.7h-2.5zM48.9 464.3h2.5v2.7h-2.5zM60.7 464.3h4.9v2.7h-4.9zM77.2 464.3h4.9v2.7h-4.9zM84.3 464.3h2.5v2.7h-2.5zM91.4 464.3h2.5v2.7h-2.5zM107.9 464.3h4.9v2.7h-4.9zM115 464.3h2.5v2.7h-2.5zM129.2 464.3h2.5v2.7h-2.5zM133.9 464.3h2.5v2.7h-2.5zM138.6 464.3h2.5v2.7h-2.5zM148.1 464.3h4.9v2.7h-4.9zM169.4 464.3h2.5v2.7h-2.5zM176.4 464.3h4.9v2.7h-4.9zM183.5 464.3h7.2v2.7h-7.2zM200.1 464.3h7.2v2.7h-7.2zM58.3 466.9h7.2v2.7h-7.2zM77.2 466.9h2.5v2.7h-2.5zM81.9 466.9h2.5v2.7h-2.5zM89 466.9h2.5v2.7h-2.5zM96.1 466.9h4.9v2.7h-4.9zM105.6 466.9h2.5v2.7h-2.5zM110.3 466.9h2.5v2.7h-2.5zM115 466.9h2.5v2.7h-2.5zM124.5 466.9h2.5v2.7h-2.5zM136.3 466.9h2.5v2.7h-2.5zM141 466.9h4.9v2.7h-4.9zM148.1 466.9h4.9v2.7h-4.9zM171.7 466.9h9.6v2.7h-9.6zM183.5 466.9h2.5v2.7h-2.5zM190.6 466.9h2.5v2.7h-2.5zM195.3 466.9h2.5v2.7h-2.5zM200.1 466.9h4.9v2.7h-4.9zM207.1 466.9h2.5v2.7h-2.5zM58.3 469.4h2.5v2.7h-2.5zM72.5 469.4h4.9v2.7h-4.9zM84.3 469.4h4.9v2.7h-4.9zM93.8 469.4h2.5v2.7h-2.5zM103.2 469.4h2.5v2.7h-2.5zM115 469.4h2.5v2.7h-2.5zM119.7 469.4h4.9v2.7h-4.9zM126.8 469.4h7.2v2.7h-7.2zM138.6 469.4h2.5v2.7h-2.5zM145.7 469.4h4.9v2.7h-4.9zM159.9 469.4h2.5v2.7h-2.5zM164.6 469.4h2.5v2.7h-2.5zM181.2 469.4h14.3v2.7h-14.3zM197.7 469.4h4.9v2.7h-4.9zM207.1 469.4h2.5v2.7h-2.5zM53.6 472h2.5v2.7h-2.5zM70.1 472h2.5v2.7h-2.5zM77.2 472h4.9v2.7h-4.9zM86.7 472h4.9v2.7h-4.9zM105.6 472h4.9v2.7h-4.9zM115 472h2.5v2.7h-2.5zM131.5 472h2.5v2.7h-2.5zM136.3 472h2.5v2.7h-2.5zM143.4 472h4.9v2.7h-4.9zM152.8 472h2.5v2.7h-2.5zM159.9 472h7.2v2.7h-7.2zM178.8 472h14.3v2.7h-14.3zM195.3 472h2.5v2.7h-2.5zM200.1 472h4.9v2.7h-4.9zM46.5 474.6h2.5v2.7h-2.5zM74.8 474.6h2.5v2.7h-2.5zM79.6 474.6h2.5v2.7h-2.5zM84.3 474.6h2.5v2.7h-2.5zM103.2 474.6h2.5v2.7h-2.5zM107.9 474.6h2.5v2.7h-2.5zM133.9 474.6h4.9v2.7h-4.9zM150.4 474.6h4.9v2.7h-4.9zM159.9 474.6h2.5v2.7h-2.5zM178.8 474.6h2.5v2.7h-2.5zM188.2 474.6h4.9v2.7h-4.9zM197.7 474.6h4.9v2.7h-4.9zM70.1 477.2h2.5v2.7h-2.5zM74.8 477.2h7.2v2.7h-7.2zM84.3 477.2h2.5v2.7h-2.5zM98.5 477.2h7.2v2.7h-7.2zM110.3 477.2h2.5v2.7h-2.5zM115 477.2h2.5v2.7h-2.5zM129.2 477.2h2.5v2.7h-2.5zM138.6 477.2h2.5v2.7h-2.5zM193 477.2h2.5v2.7h-2.5zM48.9 479.8h4.9v2.7h-4.9zM55.9 479.8h9.6v2.7h-9.6zM67.8 479.8h2.5v2.7h-2.5zM81.9 479.8h2.5v2.7h-2.5zM86.7 479.8h2.5v2.7h-2.5zM103.2 479.8h2.5v2.7h-2.5zM112.7 479.8h2.5v2.7h-2.5zM124.5 479.8h2.5v2.7h-2.5zM48.9 482.4h4.9v2.7h-4.9zM55.9 482.4h2.5v2.7h-2.5zM65.4 482.4h7.2v2.7h-7.2zM74.8 482.4h2.5v2.7h-2.5zM79.6 482.4h2.5v2.7h-2.5zM89 482.4h2.5v2.7h-2.5zM100.8 482.4h2.5v2.7h-2.5zM105.6 482.4h2.5v2.7h-2.5zM46.5 485h2.5v2.7h-2.5zM65.4 485h2.5v2.7h-2.5zM70.1 485h2.5v2.7h-2.5zM103.2 485h2.5v2.7h-2.5zM110.3 485h2.5v2.7h-2.5zM48.9 487.6h2.5v2.7h-2.5zM79.6 487.6h7.2v2.7h-7.2zM89 487.6h2.5v2.7h-2.5zM93.8 487.6h2.5v2.7h-2.5zM112.7 487.6h2.5v2.7h-2.5zM124.5 487.6h2.5v2.7h-2.5zM51.2 490.2h2.5v2.7h-2.5zM84.3 490.2h2.5v2.7h-2.5zM89 490.2h2.5v2.7h-2.5zM93.8 490.2h9.6v2.7h-9.6zM124.5 490.2h2.5v2.7h-2.5zM74.8 492.8h2.5v2.7h-2.5zM86.7 492.8h2.5v2.7h-2.5zM91.4 492.8h4.9v2.7h-4.9zM98.5 492.8h2.5v2.7h-2.5zM105.6 492.8h2.5v2.7h-2.5zM115 492.8h4.9v2.7h-4.9zM48.9 495.3h4.9v2.7h-4.9zM93.8 495.3h2.5v2.7h-2.5zM107.9 495.3h2.5v2.7h-2.5zM112.7 495.3h2.5v2.7h-2.5zM46.5 497.9h4.9v2.7h-4.9zM93.8 497.9h2.5v2.7h-2.5zM100.8 497.9h4.9v2.7h-4.9zM112.7 497.9h2.5v2.7h-2.5zM122.1 497.9h2.5v2.7h-2.5zM96.1 500.5h2.5v2.7h-2.5zM103.2 500.5h2.5v2.7h-2.5zM107.9 500.5h2.5v2.7h-2.5zM115 500.5h2.5v2.7h-2.5zM122.1 500.5h2.5v2.7h-2.5zM93.8 503.1h2.5v2.7h-2.5zM112.7 503.1h2.5v2.7h-2.5zM117.4 505.7h2.5v2.7h-2.5zM103.2 508.3h2.5v2.7h-2.5zM110.3 508.3h2.5v2.7h-2.5zM55.9 510.9h2.5v2.7h-2.5zM259.1 513.5h2.5v2.7h-2.5zM46.5 516.1h4.9v2.7h-4.9zM55.9 516.1h2.5v2.7h-2.5zM249.7 516.1h2.5v2.7h-2.5zM89 518.6h2.5v2.7h-2.5zM254.4 518.6h2.5v2.7h-2.5zM268.6 518.6h2.5v2.7h-2.5zM46.5 521.2h2.5v2.7h-2.5zM58.3 521.2h2.5v2.7h-2.5zM67.8 521.2h4.9v2.7h-4.9zM89 521.2h4.9v2.7h-4.9zM254.4 521.2h2.5v2.7h-2.5zM266.2 521.2h2.5v2.7h-2.5zM270.9 521.2h2.5v2.7h-2.5zM72.5 523.8h2.5v2.7h-2.5zM84.3 523.8h2.5v2.7h-2.5zM89 523.8h2.5v2.7h-2.5zM98.5 523.8h2.5v2.7h-2.5zM249.7 523.8h2.5v2.7h-2.5zM256.8 523.8h2.5v2.7h-2.5zM58.3 526.4h2.5v2.7h-2.5zM65.4 526.4h2.5v2.7h-2.5zM77.2 526.4h2.5v2.7h-2.5zM96.1 526.4h2.5v2.7h-2.5zM249.7 526.4h2.5v2.7h-2.5zM254.4 526.4h2.5v2.7h-2.5zM266.2 526.4h2.5v2.7h-2.5zM51.2 529h2.5v2.7h-2.5zM63 529h2.5v2.7h-2.5zM70.1 529h4.9v2.7h-4.9zM86.7 529h4.9v2.7h-4.9zM103.2 529h2.5v2.7h-2.5zM247.3 529h2.5v2.7h-2.5zM256.8 529h2.5v2.7h-2.5zM273.3 529h2.5v2.7h-2.5zM51.2 531.6h2.5v2.7h-2.5zM252 531.6h4.9v2.7h-4.9zM259.1 531.6h2.5v2.7h-2.5zM270.9 531.6h2.5v2.7h-2.5zM63 534.2h2.5v2.7h-2.5zM67.8 534.2h4.9v2.7h-4.9zM77.2 534.2h4.9v2.7h-4.9zM91.4 534.2h2.5v2.7h-2.5zM240.2 534.2h2.5v2.7h-2.5zM261.5 534.2h2.5v2.7h-2.5zM266.2 534.2h4.9v2.7h-4.9zM51.2 536.8h4.9v2.7h-4.9zM63 536.8h2.5v2.7h-2.5zM70.1 536.8h2.5v2.7h-2.5zM74.8 536.8h2.5v2.7h-2.5zM79.6 536.8h2.5v2.7h-2.5zM91.4 536.8h4.9v2.7h-4.9zM72.5 539.3h2.5v2.7h-2.5zM77.2 539.3h7.2v2.7h-7.2zM259.1 539.3h2.5v2.7h-2.5zM273.3 539.3h2.5v2.7h-2.5zM252 541.9h2.5v2.7h-2.5zM58.3 544.5h2.5v2.7h-2.5zM65.4 544.5h2.5v2.7h-2.5zM77.2 544.5h2.5v2.7h-2.5zM84.3 544.5h2.5v2.7h-2.5zM249.7 544.5h2.5v2.7h-2.5zM53.6 547.1h2.5v2.7h-2.5zM67.8 547.1h2.5v2.7h-2.5zM81.9 547.1h2.5v2.7h-2.5zM237.9 547.1h2.5v2.7h-2.5zM259.1 547.1h2.5v2.7h-2.5zM263.8 547.1h2.5v2.7h-2.5zM58.3 549.7h2.5v2.7h-2.5zM65.4 549.7h2.5v2.7h-2.5zM256.8 549.7h2.5v2.7h-2.5zM263.8 549.7h2.5v2.7h-2.5zM249.7 552.3h2.5v2.7h-2.5zM254.4 552.3h2.5v2.7h-2.5zM263.8 552.3h2.5v2.7h-2.5zM256.8 554.9h2.5v2.7h-2.5zM263.8 554.9h2.5v2.7h-2.5zM268.6 554.9h2.5v2.7h-2.5zM249.7 557.4h2.5v2.7h-2.5zM256.8 557.4h7.2v2.7h-7.2zM266.2 557.4h2.5v2.7h-2.5zM254.4 560h2.5v2.7h-2.5zM268.6 562.6h2.5v2.7h-2.5zM252 565.2h2.5v2.7h-2.5zM261.5 565.2h2.5v2.7h-2.5zM270.9 565.2h2.5v2.7h-2.5zM270.9 570.4h2.5v2.7h-2.5zM278 570.4h2.5v2.7h-2.5zM282.7 580.7h2.5v2.7h-2.5zM226.1 714.8h7.2v2.7h-7.2z"/>
<path fill="#d40a0a" d="M188.2 386.4h2.5v2.7h-2.5zM176.4 407.2h2.5v2.7h-2.5zM181.2 407.2h4.9v2.7h-4.9zM249.7 407.2h4.9v2.7h-4.9zM176.4 409.8h2.5v2.7h-2.5zM181.2 409.8h2.5v2.7h-2.5zM174.1 412.4h4.9v2.7h-4.9zM181.2 412.4h4.9v2.7h-4.9zM193 412.4h2.5v2.7h-2.5zM242.6 412.4h2.5v2.7h-2.5zM254.4 412.4h2.5v2.7h-2.5zM259.1 412.4h4.9v2.7h-4.9zM176.4 415h2.5v2.7h-2.5zM183.5 415h2.5v2.7h-2.5zM190.6 415h2.5v2.7h-2.5zM185.9 417.6h2.5v2.7h-2.5zM195.3 417.6h2.5v2.7h-2.5zM169.4 420.2h4.9v2.7h-4.9zM176.4 420.2h2.5v2.7h-2.5zM181.2 420.2h2.5v2.7h-2.5zM185.9 420.2h12v2.7h-12zM167 422.8h2.5v2.7h-2.5zM176.4 422.8h2.5v2.7h-2.5zM185.9 422.8h2.5v2.7h-2.5zM157.5 425.4h2.5v2.7h-2.5zM167 425.4h4.9v2.7h-4.9zM174.1 425.4h2.5v2.7h-2.5zM178.8 425.4h19v2.7h-19zM200.1 425.4h2.5v2.7h-2.5zM226.1 425.4h2.5v2.7h-2.5zM242.6 425.4h2.5v2.7h-2.5zM112.7 428h2.5v2.7h-2.5zM169.4 428h2.5v2.7h-2.5zM181.2 428h14.3v2.7h-14.3zM200.1 428h2.5v2.7h-2.5zM211.9 428h2.5v2.7h-2.5zM219 428h4.9v2.7h-4.9zM89 430.6h2.5v2.7h-2.5zM155.2 430.6h4.9v2.7h-4.9zM167 430.6h7.2v2.7h-7.2zM178.8 430.6h2.5v2.7h-2.5zM183.5 430.6h14.3v2.7h-14.3zM200.1 430.6h2.5v2.7h-2.5zM214.2 430.6h2.5v2.7h-2.5zM79.6 433.2h2.5v2.7h-2.5zM100.8 433.2h2.5v2.7h-2.5zM115 433.2h2.5v2.7h-2.5zM157.5 433.2h2.5v2.7h-2.5zM162.3 433.2h2.5v2.7h-2.5zM167 433.2h4.9v2.7h-4.9zM176.4 433.2h2.5v2.7h-2.5zM181.2 433.2h2.5v2.7h-2.5zM185.9 433.2h16.7v2.7h-16.7zM204.8 433.2h2.5v2.7h-2.5zM77.2 435.7h2.5v2.7h-2.5zM157.5 435.7h2.5v2.7h-2.5zM169.4 435.7h9.6v2.7h-9.6zM181.2 435.7h26.1v2.7h-26.1zM150.4 438.3h2.5v2.7h-2.5zM157.5 438.3h2.5v2.7h-2.5zM162.3 438.3h2.5v2.7h-2.5zM169.4 438.3h16.7v2.7h-16.7zM188.2 438.3h12v2.7h-12zM202.4 438.3h4.9v2.7h-4.9zM72.5 440.9h2.5v2.7h-2.5zM89 440.9h2.5v2.7h-2.5zM148.1 440.9h2.5v2.7h-2.5zM152.8 440.9h7.2v2.7h-7.2zM167 440.9h4.9v2.7h-4.9zM174.1 440.9h21.4v2.7h-21.4zM197.7 440.9h2.5v2.7h-2.5zM63 443.5h2.5v2.7h-2.5zM74.8 443.5h2.5v2.7h-2.5zM107.9 443.5h2.5v2.7h-2.5zM150.4 443.5h4.9v2.7h-4.9zM159.9 443.5h4.9v2.7h-4.9zM167 443.5h4.9v2.7h-4.9zM174.1 443.5h7.2v2.7h-7.2zM183.5 443.5h4.9v2.7h-4.9zM190.6 443.5h12v2.7h-12zM122.1 446.1h2.5v2.7h-2.5zM136.3 446.1h2.5v2.7h-2.5zM148.1 446.1h2.5v2.7h-2.5zM159.9 446.1h35.6v2.7h-35.6zM197.7 446.1h7.2v2.7h-7.2zM107.9 448.7h2.5v2.7h-2.5zM124.5 448.7h7.2v2.7h-7.2zM145.7 448.7h4.9v2.7h-4.9zM152.8 448.7h4.9v2.7h-4.9zM159.9 448.7h2.5v2.7h-2.5zM164.6 448.7h2.5v2.7h-2.5zM169.4 448.7h4.9v2.7h-4.9zM176.4 448.7h4.9v2.7h-4.9zM185.9 448.7h4.9v2.7h-4.9zM193 448.7h9.6v2.7h-9.6zM204.8 448.7h2.5v2.7h-2.5zM122.1 451.3h2.5v2.7h-2.5zM133.9 451.3h2.5v2.7h-2.5zM145.7 451.3h4.9v2.7h-4.9zM157.5 451.3h14.3v2.7h-14.3zM174.1 451.3h2.5v2.7h-2.5zM178.8 451.3h2.5v2.7h-2.5zM190.6 451.3h2.5v2.7h-2.5zM200.1 451.3h4.9v2.7h-4.9zM207.1 451.3h2.5v2.7h-2.5zM211.9 451.3h2.5v2.7h-2.5zM110.3 453.9h2.5v2.7h-2.5zM117.4 453.9h2.5v2.7h-2.5zM126.8 453.9h4.9v2.7h-4.9zM136.3 453.9h2.5v2.7h-2.5zM143.4 453.9h7.2v2.7h-7.2zM157.5 453.9h2.5v2.7h-2.5zM162.3 453.9h7.2v2.7h-7.2zM174.1 453.9h7.2v2.7h-7.2zM185.9 453.9h9.6v2.7h-9.6zM197.7 453.9h7.2v2.7h-7.2zM148.1 456.5h4.9v2.7h-4.9zM155.2 456.5h9.6v2.7h-9.6zM167 456.5h2.5v2.7h-2.5zM171.7 456.5h12v2.7h-12zM185.9 456.5h9.6v2.7h-9.6zM207.1 456.5h2.5v2.7h-2.5zM148.1 459.1h2.5v2.7h-2.5zM152.8 459.1h2.5v2.7h-2.5zM157.5 459.1h2.5v2.7h-2.5zM171.7 459.1h4.9v2.7h-4.9zM178.8 459.1h19v2.7h-19zM200.1 459.1h2.5v2.7h-2.5zM155.2 461.7h2.5v2.7h-2.5zM162.3 461.7h2.5v2.7h-2.5zM169.4 461.7h9.6v2.7h-9.6zM181.2 461.7h7.2v2.7h-7.2zM193 461.7h2.5v2.7h-2.5zM207.1 461.7h2.5v2.7h-2.5zM51.2 464.3h2.5v2.7h-2.5zM65.4 464.3h2.5v2.7h-2.5zM86.7 464.3h2.5v2.7h-2.5zM112.7 464.3h2.5v2.7h-2.5zM145.7 464.3h2.5v2.7h-2.5zM171.7 464.3h2.5v2.7h-2.5zM190.6 464.3h9.6v2.7h-9.6zM55.9 466.9h2.5v2.7h-2.5zM112.7 466.9h2.5v2.7h-2.5zM185.9 466.9h4.9v2.7h-4.9zM193 466.9h2.5v2.7h-2.5zM197.7 466.9h2.5v2.7h-2.5zM48.9 469.4h2.5v2.7h-2.5zM55.9 469.4h2.5v2.7h-2.5zM105.6 469.4h2.5v2.7h-2.5zM124.5 469.4h2.5v2.7h-2.5zM176.4 469.4h2.5v2.7h-2.5zM72.5 472h2.5v2.7h-2.5zM103.2 472h2.5v2.7h-2.5zM112.7 472h2.5v2.7h-2.5zM193 472h2.5v2.7h-2.5zM197.7 472h2.5v2.7h-2.5zM183.5 474.6h2.5v2.7h-2.5zM193 474.6h4.9v2.7h-4.9zM105.6 477.2h2.5v2.7h-2.5zM112.7 477.2h2.5v2.7h-2.5zM46.5 479.8h2.5v2.7h-2.5zM58.3 482.4h2.5v2.7h-2.5zM98.5 482.4h2.5v2.7h-2.5zM107.9 482.4h2.5v2.7h-2.5zM131.5 482.4h2.5v2.7h-2.5zM93.8 485h2.5v2.7h-2.5zM100.8 487.6h2.5v2.7h-2.5zM96.1 495.3h2.5v2.7h-2.5zM107.9 503.1h2.5v2.7h-2.5zM117.4 503.1h2.5v2.7h-2.5zM98.5 505.7h2.5v2.7h-2.5zM48.9 513.5h2.5v2.7h-2.5zM58.3 518.6h2.5v2.7h-2.5zM55.9 521.2h2.5v2.7h-2.5zM72.5 521.2h2.5v2.7h-2.5zM249.7 521.2h2.5v2.7h-2.5zM67.8 523.8h2.5v2.7h-2.5zM252 526.4h2.5v2.7h-2.5zM259.1 529h2.5v2.7h-2.5zM67.8 531.6h2.5v2.7h-2.5zM266.2 531.6h2.5v2.7h-2.5zM65.4 534.2h2.5v2.7h-2.5zM74.8 534.2h2.5v2.7h-2.5zM55.9 536.8h2.5v2.7h-2.5zM89 536.8h2.5v2.7h-2.5zM86.7 539.3h2.5v2.7h-2.5zM259.1 552.3h2.5v2.7h-2.5zM259.1 554.9h2.5v2.7h-2.5zM280.4 554.9h2.5v2.7h-2.5z"/>
<rect x="600.5" y="626" width="2.4" height="2.6" fill="#fa9632"/><rect x="603" y="626" width="4.6" height="2.6" fill="#fafac6"/><rect x="597" y="628.6" width="5" height="2.5" fill="#e4e5e4"/><rect x="607.6" y="628.6" width="3" height="2.5" fill="#e4e5e4"/>
</g></g>
<polygon points="46.5,467 48,461 50.5,454.5 54,448.5 58,444.5 63,441.5 69,438.5 76,435.5 82,433 88,430.5 95,428.5 101,425.5 107,422.5 113,420.2 120,419 127.5,418.3 135,416.5 142,414.7 148,412.5 153,410 158,406.5 162,402.8 165,400.5 168.5,402.5 170.5,400.5 167,398 164.5,396.5 165.5,393 167.6,390 169.5,386 171.2,382.8 174,379 176.7,376.4 180,373 184,370 188,367.5 192,366.2 198,365.2 205,365.5 212,366.5 218,368 223,370.5 224.5,376 225.6,382.8 229.2,387.4 232,390.5 235,393 238,391 239.5,392.5 240.5,396 242,399.2 245.5,402 249.2,404.7 253,406.8 256.5,408.3 260.2,411 262,409 263.8,408 266.5,409.5 269.3,411 272.9,412.9 275.5,415 278.4,416.5 284,417.5 289.3,417.8 295,417.5 300.3,417 304,416.2 306.6,415.2 307.2,418 305.7,422.9 304.4,426 304.2,428.4 305.8,432 307.8,435.6 309.5,440 311,444.8 312.5,447.3 314.8,448.4 320,448.6 325.8,449.3 328.5,450.6 329.6,452.5 328,455.5 322,459.5 315,463.5 309,467.2 305.2,470 301,474.5 296.6,479.1 293,482.5 289.3,486.4 284.5,492 280.6,497.3 279.2,503 278.4,510.1 277.3,517 276.8,524.7 277.5,534 279.3,542.9 280.5,550 282,557.5 284.5,565 287.5,572 289.5,576 291.2,579.3 293.5,580 293,582.5 290,583.5 289.3,586.6 290.5,591 291.5,595 291.5,598.2 288,601.5 284.3,604.3 283,610 282.3,616.6 279.5,621 276.2,624.8 273,631 270,637 268.8,643 268,649.3 266,654.5 263.9,659.6 263.2,665 262.9,669.8 260.5,675 257.7,680 254,685.5 249.6,690.3 244.5,694.5 239.3,698.4 235.5,703.5 232.2,708.7 232.2,715 233.2,721 229,727.5 224,734 222.5,735.4 46.5,735.4" fill="none" stroke="#1a1a1a" stroke-width="0.6"/>
<polygon points="596.6,628.6 598.5,626.2 602,625.2 606,625.3 610,625.6 613.5,625.6 613.5,631 609,631.2 606,632 602,631.6 598.5,630.6" fill="none" stroke="#222" stroke-width="0.5"/>
<polyline points="166,399 170,408 174,417 180,425 185.8,432.8 184,442 176,448.5 167.6,454.7 156,463 145.7,470 131,484.6 123.8,497.3 115.6,510 117.4,514.6 125.6,517.4 134.8,516.5 145.7,517.7 144.8,526.5 147.5,539.2 153,548.4 152,557.5 138.4,560.2 129.3,564.8 128.4,572 134.8,579.3 138.4,590.3 143.3,598.2 138.2,610.5 124.9,622.7" fill="none" stroke="#1a1a1a" stroke-width="0.7"/>
<polyline points="46.5,511.5 58.2,522.8 67.3,537.4 71,548.4 75.5,564.8 77.4,579.3 71,584.8 69.6,595 70.3,603.3" fill="none" stroke="#1a1a1a" stroke-width="0.7"/>
<polyline points="46.5,581 52.8,586.6 50.5,593.9 55.3,600.2" fill="none" stroke="#1a1a1a" stroke-width="0.7"/>
<polyline points="279,549.8 274.8,549.3 260.2,545.6 251,546.5 242,550.2 227.4,551.1 216.4,555.6 207.3,562.9 198.2,572 189.1,579.3 184.6,586.6 187.3,597.6 192.3,602.3 193.3,609.4" fill="none" stroke="#1a1a1a" stroke-width="0.7"/>
<polyline points="46.5,703.6 60.5,695.4 76.8,689.2 91.2,685.1 107.5,682.1 121.8,673.9 132.1,666.1 142.3,667.8 144.3,664.7 148.4,664.7" fill="none" stroke="#1a1a1a" stroke-width="0.7"/>
<polygon points="164.5,397.5 167,398.5 170.5,400.8 168.5,402.6 165.5,400.6" fill="#fff" stroke="#333" stroke-width="0.4"/>
<polygon points="291,579.5 294,580 293.5,582.5 290.5,583" fill="#fff" stroke="#333" stroke-width="0.4"/>
<circle cx="186.7" cy="373.8" r="2" fill="#000"/>
<circle cx="225.4" cy="386.2" r="2" fill="#000"/>
<circle cx="239.7" cy="398.3" r="2" fill="#000"/>
<circle cx="100.3" cy="434" r="2" fill="#000"/>
<circle cx="155.2" cy="430.2" r="2" fill="#000"/>
<circle cx="69.1" cy="443.4" r="2" fill="#000"/>
<circle cx="190.5" cy="445.2" r="2" fill="#000"/>
<circle cx="108.9" cy="470.8" r="2" fill="#000"/>
<circle cx="145.8" cy="469.7" r="2" fill="#000"/>
<circle cx="201" cy="465.2" r="2" fill="#000"/>
<circle cx="291.2" cy="446.4" r="2" fill="#000"/>
<circle cx="276.2" cy="497.9" r="2" fill="#000"/>
<circle cx="257.4" cy="529" r="2" fill="#000"/>
<circle cx="179.6" cy="587.7" r="2" fill="#000"/>
<circle cx="271.7" cy="620.1" r="2" fill="#000"/>
<circle cx="121" cy="685.5" r="2" fill="#000"/>
<circle cx="599" cy="626.9" r="2" fill="#000"/>
<text x="190.7" y="371" font-size="10" font-style="italic" fill="#111" stroke="#fff" stroke-width="1.8" stroke-linejoin="round" paint-order="stroke">San-Chih</text>
<text x="229.4" y="383.4" font-size="10" font-style="italic" fill="#111" stroke="#fff" stroke-width="1.8" stroke-linejoin="round" paint-order="stroke">Chin-Shan</text>
<text x="243.7" y="395.5" font-size="10" font-style="italic" fill="#111" stroke="#fff" stroke-width="1.8" stroke-linejoin="round" paint-order="stroke">Wan-Li</text>
<text x="104.3" y="431.2" font-size="10" font-style="italic" fill="#111" stroke="#fff" stroke-width="1.8" stroke-linejoin="round" paint-order="stroke">Ta-Yuan</text>
<text x="159.2" y="427.4" font-size="10" font-style="italic" fill="#111" stroke="#fff" stroke-width="1.8" stroke-linejoin="round" paint-order="stroke">Lin-Kou</text>
<text x="73.1" y="440.6" font-size="10" font-style="italic" fill="#111" stroke="#fff" stroke-width="1.8" stroke-linejoin="round" paint-order="stroke">Kuan-Yin</text>
<text x="194.5" y="442.4" font-size="10" font-style="italic" fill="#111" stroke="#fff" stroke-width="1.8" stroke-linejoin="round" paint-order="stroke">Tai-Pei</text>
<text x="112.9" y="468" font-size="10" font-style="italic" fill="#111" stroke="#fff" stroke-width="1.8" stroke-linejoin="round" paint-order="stroke">Chung-Li</text>
<text x="149.8" y="466.9" font-size="10" font-style="italic" fill="#111" stroke="#fff" stroke-width="1.8" stroke-linejoin="round" paint-order="stroke">Ling-Ko</text>
<text x="205" y="462.4" font-size="10" font-style="italic" fill="#111" stroke="#fff" stroke-width="1.8" stroke-linejoin="round" paint-order="stroke">Hsin-Tien</text>
<text x="295.2" y="443.6" font-size="10" font-style="italic" fill="#111" stroke="#fff" stroke-width="1.8" stroke-linejoin="round" paint-order="stroke">Shuang-Hsi</text>
<text x="280.2" y="495.1" font-size="10" font-style="italic" fill="#111" stroke="#fff" stroke-width="1.8" stroke-linejoin="round" paint-order="stroke">Tou-Cheng</text>
<text x="261.4" y="526.2" font-size="10" font-style="italic" fill="#111" stroke="#fff" stroke-width="1.8" stroke-linejoin="round" paint-order="stroke">I-Lan</text>
<text x="183.6" y="584.9" font-size="10" font-style="italic" fill="#111" stroke="#fff" stroke-width="1.8" stroke-linejoin="round" paint-order="stroke">Tu-Chang</text>
<text x="275.7" y="617.3" font-size="10" font-style="italic" fill="#111" stroke="#fff" stroke-width="1.8" stroke-linejoin="round" paint-order="stroke">Nan-Ao</text>
<text x="125" y="682.7" font-size="10" font-style="italic" fill="#111" stroke="#fff" stroke-width="1.8" stroke-linejoin="round" paint-order="stroke">Sung-Pai</text>
<text x="603" y="624.1" font-size="10" font-style="italic" fill="#111" stroke="#fff" stroke-width="1.8" stroke-linejoin="round" paint-order="stroke">Ku</text>
<polygon points="318.5,449.4 322.8,462.6 336.8,462.7 325.5,470.9 329.8,484.1 318.5,476 307.2,484.1 311.5,470.9 300.2,462.7 314.2,462.6" fill="#ffff33" stroke="#555" stroke-width="0.5"/>
</g>
<rect x="43.8" y="172.8" width="572.4" height="2.7" fill="#fff"/>
<rect x="43.8" y="735.4" width="572.4" height="2.7" fill="#fff"/>
<rect x="43.8" y="172.8" width="2.7" height="565.3" fill="#fff"/>
<rect x="613.5" y="172.8" width="2.7" height="565.3" fill="#fff"/>
<rect x="43.8" y="172.8" width="572.4" height="565.3" fill="none" stroke="#444" stroke-width="0.45"/>
<rect x="46.5" y="175.5" width="567" height="559.9" fill="none" stroke="#444" stroke-width="0.45"/>
<rect x="46.5" y="172.8" width="28.35" height="2.7" fill="#000"/>
<rect x="46.5" y="735.4" width="28.35" height="2.7" fill="#000"/>
<rect x="103.2" y="172.8" width="28.35" height="2.7" fill="#000"/>
<rect x="103.2" y="735.4" width="28.35" height="2.7" fill="#000"/>
<rect x="159.9" y="172.8" width="28.35" height="2.7" fill="#000"/>
<rect x="159.9" y="735.4" width="28.35" height="2.7" fill="#000"/>
<rect x="216.6" y="172.8" width="28.35" height="2.7" fill="#000"/>
<rect x="216.6" y="735.4" width="28.35" height="2.7" fill="#000"/>
<rect x="273.3" y="172.8" width="28.35" height="2.7" fill="#000"/>
<rect x="273.3" y="735.4" width="28.35" height="2.7" fill="#000"/>
<rect x="330" y="172.8" width="28.35" height="2.7" fill="#000"/>
<rect x="330" y="735.4" width="28.35" height="2.7" fill="#000"/>
<rect x="386.7" y="172.8" width="28.35" height="2.7" fill="#000"/>
<rect x="386.7" y="735.4" width="28.35" height="2.7" fill="#000"/>
<rect x="443.4" y="172.8" width="28.35" height="2.7" fill="#000"/>
<rect x="443.4" y="735.4" width="28.35" height="2.7" fill="#000"/>
<rect x="500.1" y="172.8" width="28.35" height="2.7" fill="#000"/>
<rect x="500.1" y="735.4" width="28.35" height="2.7" fill="#000"/>
<rect x="556.8" y="172.8" width="28.35" height="2.7" fill="#000"/>
<rect x="556.8" y="735.4" width="28.35" height="2.7" fill="#000"/>
<rect x="43.8" y="175.5" width="2.7" height="31.35" fill="#000"/>
<rect x="613.5" y="175.5" width="2.7" height="31.35" fill="#000"/>
<rect x="43.8" y="238.14" width="2.7" height="31.27" fill="#000"/>
<rect x="613.5" y="238.14" width="2.7" height="31.27" fill="#000"/>
<rect x="43.8" y="300.66" width="2.7" height="31.22" fill="#000"/>
<rect x="613.5" y="300.66" width="2.7" height="31.22" fill="#000"/>
<rect x="43.8" y="363.06" width="2.7" height="31.17" fill="#000"/>
<rect x="613.5" y="363.06" width="2.7" height="31.17" fill="#000"/>
<rect x="43.8" y="425.37" width="2.7" height="31.12" fill="#000"/>
<rect x="613.5" y="425.37" width="2.7" height="31.12" fill="#000"/>
<rect x="43.8" y="487.58" width="2.7" height="31.06" fill="#000"/>
<rect x="613.5" y="487.58" width="2.7" height="31.06" fill="#000"/>
<rect x="43.8" y="549.68" width="2.7" height="31.01" fill="#000"/>
<rect x="613.5" y="549.68" width="2.7" height="31.01" fill="#000"/>
<rect x="43.8" y="611.69" width="2.7" height="30.97" fill="#000"/>
<rect x="613.5" y="611.69" width="2.7" height="30.97" fill="#000"/>
<rect x="43.8" y="673.59" width="2.7" height="30.92" fill="#000"/>
<rect x="613.5" y="673.59" width="2.7" height="30.92" fill="#000"/>
<path d="M46.5 175.5v-7.6M46.5 735.4v7" stroke="#000" stroke-width="0.6" fill="none"/>
<text x="46.2" y="160.8" font-size="12.3" text-anchor="middle" fill="#000">121<tspan dx="1.4" dy="0.1" font-size="13.6">°</tspan></text>
<text x="46.2" y="757.6" font-size="12.3" text-anchor="middle" fill="#000">121<tspan dx="1.4" dy="0.1" font-size="13.6">°</tspan></text>
<path d="M188.25 175.5v-7.6M188.25 735.4v7" stroke="#000" stroke-width="0.6" fill="none"/>
<text x="187.95" y="160.8" font-size="12.3" text-anchor="middle" fill="#000">121.5<tspan dx="1.4" dy="0.1" font-size="13.6">°</tspan></text>
<text x="187.95" y="757.6" font-size="12.3" text-anchor="middle" fill="#000">121.5<tspan dx="1.4" dy="0.1" font-size="13.6">°</tspan></text>
<path d="M330 175.5v-7.6M330 735.4v7" stroke="#000" stroke-width="0.6" fill="none"/>
<text x="329.7" y="160.8" font-size="12.3" text-anchor="middle" fill="#000">122<tspan dx="1.4" dy="0.1" font-size="13.6">°</tspan></text>
<text x="329.7" y="757.6" font-size="12.3" text-anchor="middle" fill="#000">122<tspan dx="1.4" dy="0.1" font-size="13.6">°</tspan></text>
<path d="M471.75 175.5v-7.6M471.75 735.4v7" stroke="#000" stroke-width="0.6" fill="none"/>
<text x="471.45" y="160.8" font-size="12.3" text-anchor="middle" fill="#000">122.5<tspan dx="1.4" dy="0.1" font-size="13.6">°</tspan></text>
<text x="471.45" y="757.6" font-size="12.3" text-anchor="middle" fill="#000">122.5<tspan dx="1.4" dy="0.1" font-size="13.6">°</tspan></text>
<path d="M613.5 175.5v-7.6M613.5 735.4v7" stroke="#000" stroke-width="0.6" fill="none"/>
<text x="613.2" y="160.8" font-size="12.3" text-anchor="middle" fill="#000">123<tspan dx="1.4" dy="0.1" font-size="13.6">°</tspan></text>
<text x="613.2" y="757.6" font-size="12.3" text-anchor="middle" fill="#000">123<tspan dx="1.4" dy="0.1" font-size="13.6">°</tspan></text>
<path d="M46.5 300.66h-7.3M613.5 300.66h6.8" stroke="#000" stroke-width="0.6" fill="none"/>
<text x="31.4" y="304.96" font-size="12.3" text-anchor="end" fill="#000">25.5<tspan dx="1.4" dy="0.1" font-size="13.6">°</tspan></text>
<text x="627.6" y="304.96" font-size="12.3" fill="#000">25.5<tspan dx="1.4" dy="0.1" font-size="13.6">°</tspan></text>
<path d="M46.5 456.49h-7.3M613.5 456.49h6.8" stroke="#000" stroke-width="0.6" fill="none"/>
<text x="31.4" y="460.79" font-size="12.3" text-anchor="end" fill="#000">25<tspan dx="1.4" dy="0.1" font-size="13.6">°</tspan></text>
<text x="627.6" y="460.79" font-size="12.3" fill="#000">25<tspan dx="1.4" dy="0.1" font-size="13.6">°</tspan></text>
<path d="M46.5 611.69h-7.3M613.5 611.69h6.8" stroke="#000" stroke-width="0.6" fill="none"/>
<text x="31.4" y="615.99" font-size="12.3" text-anchor="end" fill="#000">24.5<tspan dx="1.4" dy="0.1" font-size="13.6">°</tspan></text>
<text x="627.6" y="615.99" font-size="12.3" fill="#000">24.5<tspan dx="1.4" dy="0.1" font-size="13.6">°</tspan></text>
<rect x="557" y="735.4" width="58.4" height="2.7" fill="#000"/>
<rect x="568.2" y="722.2" width="47.2" height="15.6" fill="#000"/>
<text x="570.9" y="735" font-size="15.1" font-weight="bold" font-style="italic" fill="#fff">EMSC</text>
<rect x="443.7" y="81.3" width="140.8" height="3.7" fill="#fff" stroke="#333" stroke-width="0.45"/>
<rect x="443.7" y="81.1" width="28.16" height="4.1" fill="#000"/>
<rect x="500.02" y="81.1" width="28.16" height="4.1" fill="#000"/>
<rect x="556.34" y="81.1" width="28.16" height="4.1" fill="#000"/>
<path d="M443.7 81.2v5.3" stroke="#000" stroke-width="0.6"/>
<path d="M471.86 81.2v5.3" stroke="#000" stroke-width="0.6"/>
<path d="M500.02 81.2v5.3" stroke="#000" stroke-width="0.6"/>
<path d="M528.18 81.2v5.3" stroke="#000" stroke-width="0.6"/>
<path d="M556.34 81.2v5.3" stroke="#000" stroke-width="0.6"/>
<path d="M584.5 81.2v5.3" stroke="#000" stroke-width="0.6"/>
<text x="444" y="102.7" font-size="12.3" text-anchor="middle">0 km</text>
<text x="584.8" y="102.7" font-size="12.3" text-anchor="middle">50 km</text>
<text x="46.4" y="11.6" font-size="16.1" font-weight="bold">Population</text>
<text x="46.6" y="54.6" font-size="15" font-weight="bold">2013/11/21 - 07:36:01 UTC</text>
<text x="46.6" y="92.8" font-size="15" font-weight="bold" xml:space="preserve">Lat 24.96    Lon 121.96     Depth 104.2 km</text>
<text x="699" y="142.6" font-size="14.85" font-weight="bold">Number of inhabitants</text>
<text x="699" y="161.4" font-size="14.85" font-weight="bold">per square kilometer</text>
<rect x="714.3" y="194" width="25.5" height="25.5" fill="#e4e5e4"/>
<text x="755.2" y="212.7" font-size="13.65">pop &lt; 5</text>
<rect x="714.3" y="225.2" width="25.5" height="25.5" fill="#fafac6"/>
<text x="755.2" y="243.9" font-size="13.65">5 &lt; pop &lt; 25</text>
<rect x="714.3" y="256.4" width="25.5" height="25.5" fill="#ffff64"/>
<text x="755.2" y="275.1" font-size="13.65">25 &lt; pop &lt; 125</text>
<rect x="714.3" y="287.6" width="25.5" height="25.5" fill="#fa9632"/>
<text x="755.2" y="306.3" font-size="13.65">125 &lt; pop &lt; 600</text>
<rect x="714.3" y="318.8" width="25.5" height="25.5" fill="#fa5014"/>
<text x="755.2" y="337.5" font-size="13.65">600 &lt; pop &lt; 3000</text>
<rect x="714.3" y="350" width="25.5" height="25.5" fill="#b4471c"/>
<text x="755.2" y="368.7" font-size="13.65">3000 &lt; pop &lt; 15000</text>
<rect x="714.3" y="381.2" width="25.5" height="25.5" fill="#d40a0a"/>
<text x="755.2" y="399.9" font-size="13.65">pop &gt; 15000</text>
<text x="671.6" y="724.8" font-size="13.9" font-style="italic">Restricted use:</text>
<text x="670.8" y="739.7" font-size="13.9" font-style="italic">redistribution forbidden</text>
</svg>
</body></html>
